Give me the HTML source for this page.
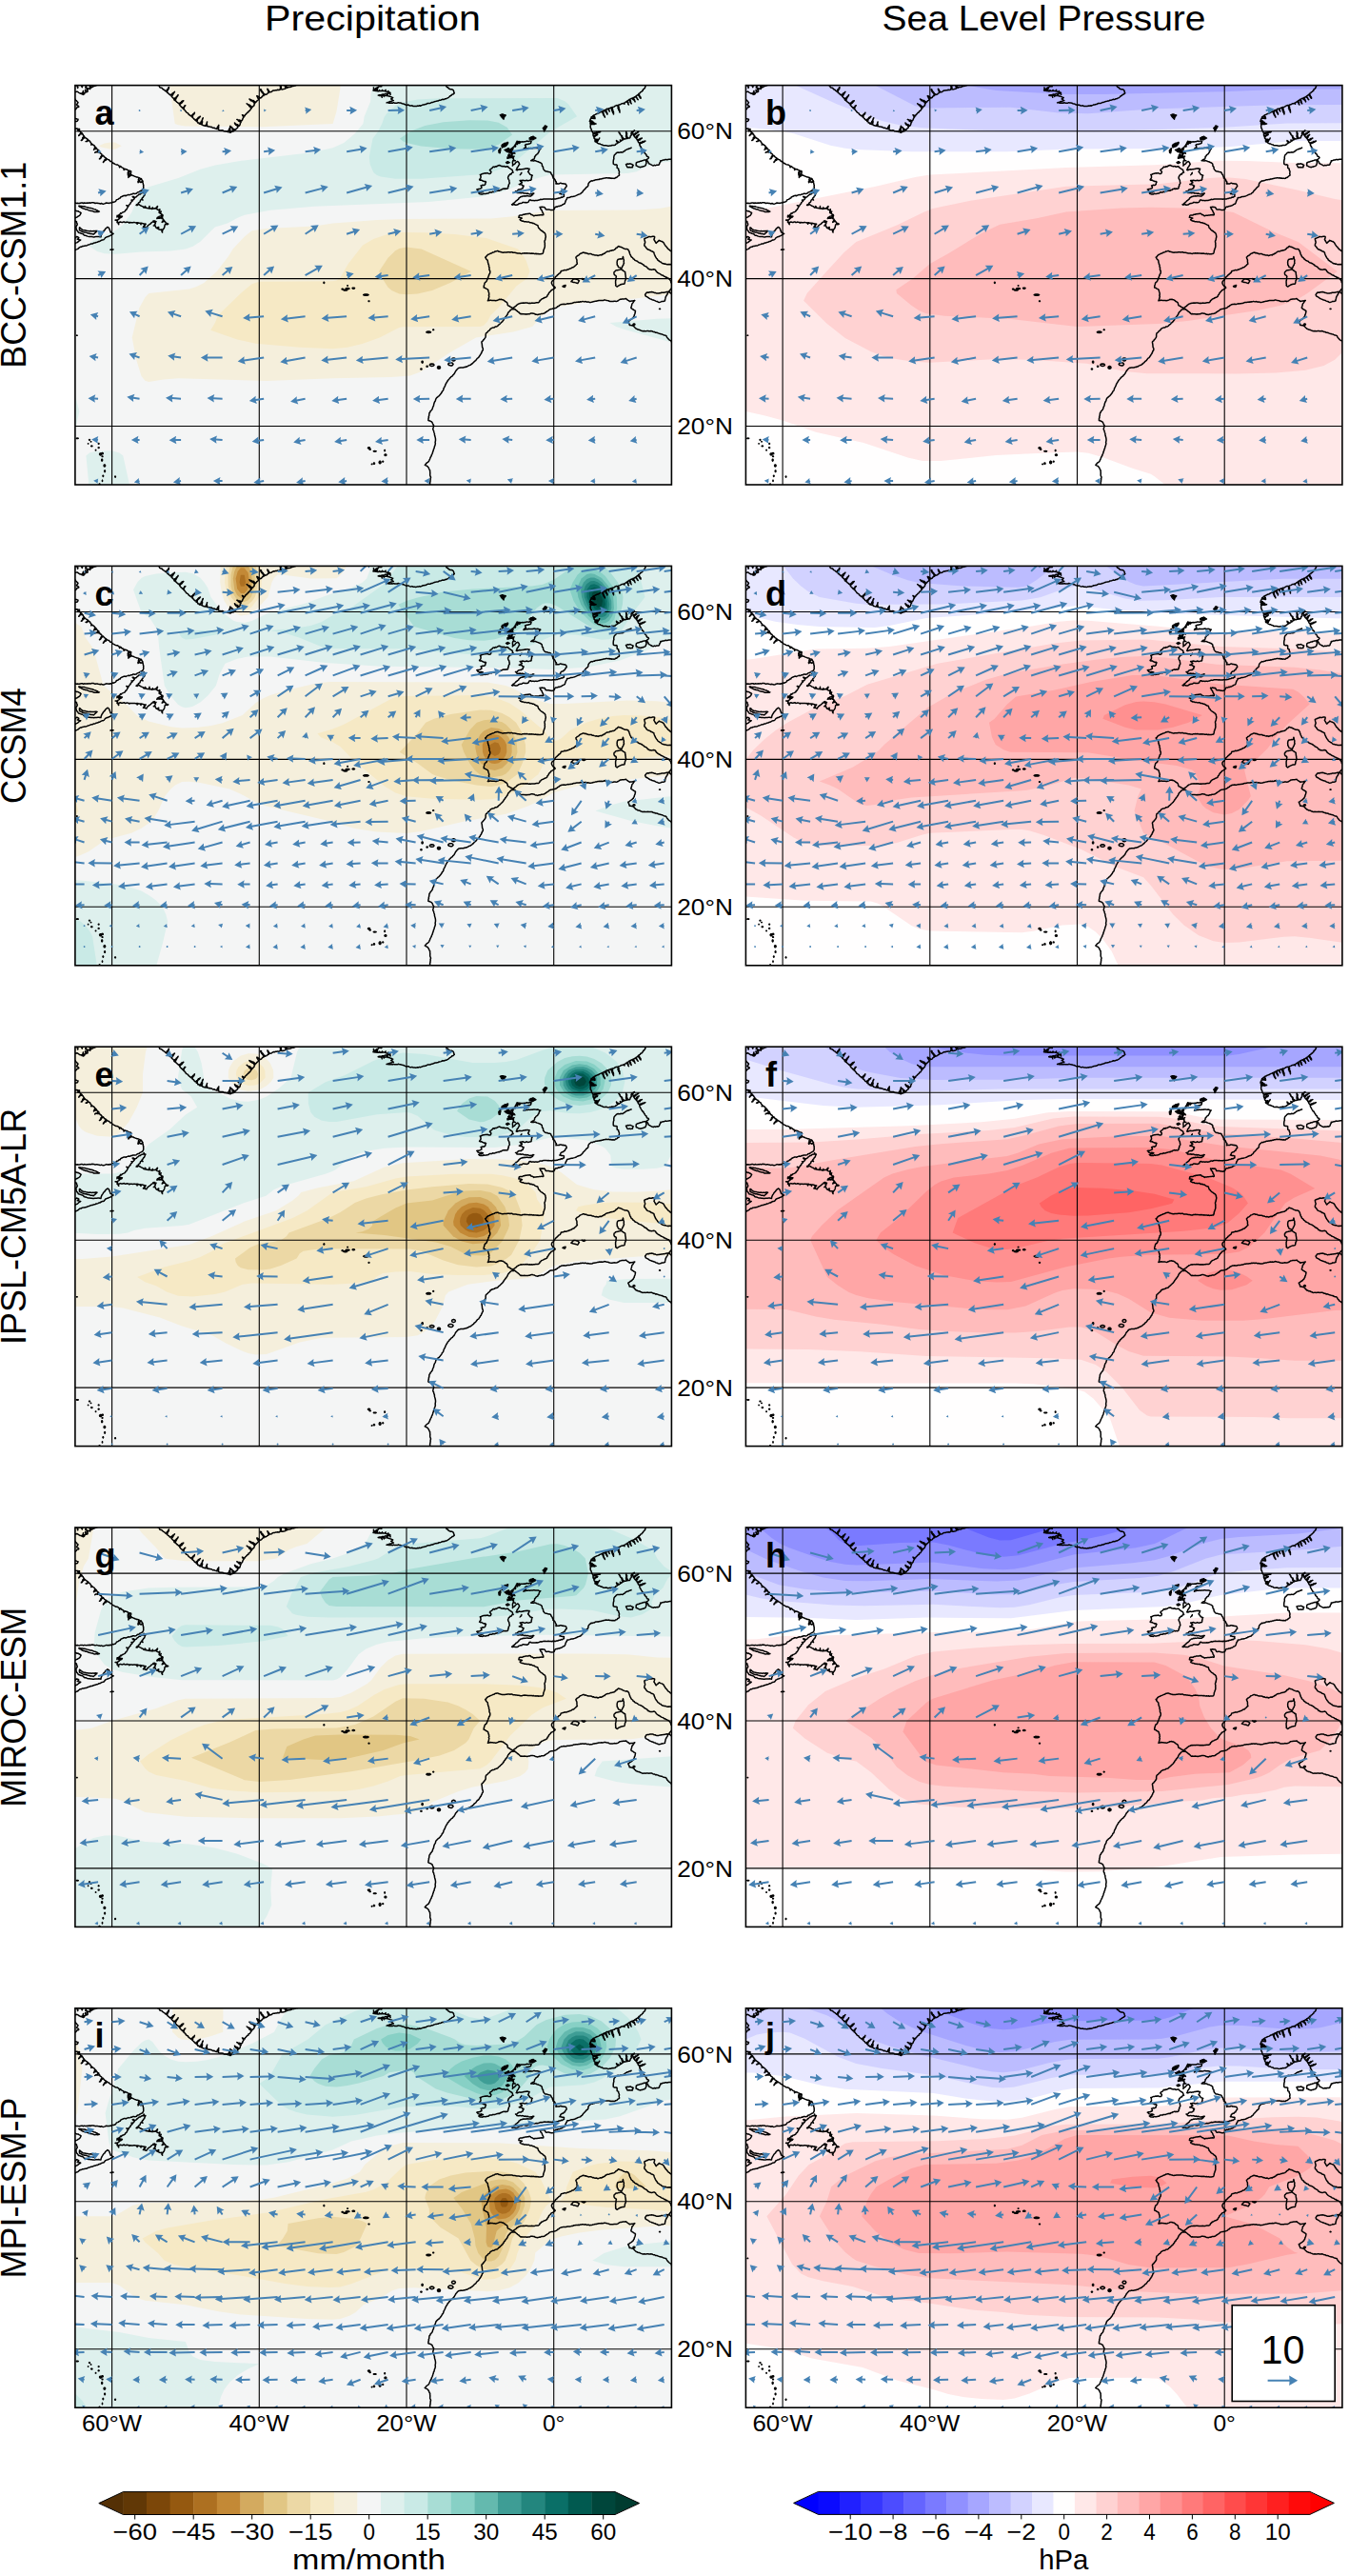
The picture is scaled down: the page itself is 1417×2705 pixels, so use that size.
<!DOCTYPE html><html><head><meta charset="utf-8"><style>html,body{margin:0;padding:0;background:#fff}svg{display:block}text{font-family:"Liberation Sans",sans-serif;fill:#000}</style></head><body>
<svg xmlns="http://www.w3.org/2000/svg" xmlns:xlink="http://www.w3.org/1999/xlink" width="1417" height="2705" viewBox="0 0 1417 2705">
<defs><clipPath id="pc"><rect width="626.5" height="419.4"/></clipPath>
<g id="coast"><path fill="none" stroke="#000" stroke-width="1.5" stroke-linejoin="round" d="M-2.3 0.9 -1.4 0.2 -0.3 0.3 0.8 0.3 1.8 0 2.4 0.8 2.5 1.9 2.8 2.8 3 1.8 2.4 0.8 2.7 -0.2 3.1 -0.3 4.2 -0.4 5.3 -0.3 6.4 -0.5 6.8 0.8 7.4 2 7.7 0.7 7.3 -0.6 8.3 -0.6 9.3 -0.7 11 -0.6 11.2 0.4 11.2 1.4 10.8 2.4 11.4 1.5 11.9 0.6 11.9 -0.5 12.8 0 13.8 -0.7 14.7 -0.1 15.6 -0.3 15.8 0.7 15.6 1.8 15.9 2.9 15.7 4 16 3 16.5 1.9 16.7 0.9 16.6 -0.3 16.2 -0.3 17.2 -0.2 18.1 0 19 -0.6 20 -0.7 20.9 -0.7 22.1 -0.7 23.2 -0.3 21.7 0.3 21 -0.6 20.4 -1.7 21.1 -0.6 20.8 0.7 19.6 0.8 18.6 1.6 17.4 2.2 16.6 1.7 15.6 1.3 15.2 0.3 15.5 1.7 16.6 2.6 15.5 3.2 14.2 3.4 13.3 4.3 13.1 3.1 12 2.7 12.3 3.7 12.4 4.7 12.4 4.7 13.2 5.5 13.1 6.7 11.7 7.2 11.6 6.2 10.6 5.6 10.7 4.6 10.9 5.6 11.2 6.5 10.8 7.5 10.1 7.8 9.7 9.1 8.5 9.8 8.1 9.6 8.8 8.7 9 7.8 8.4 6.8 8.6 5.8 8.3 6.7 7.9 7.6 7.5 8.4 7.2 9.3 6.5 8.5 5.4 8.6 4.6 8.1 3.8 7.7 3.1 7.1 2 6.5 0.7 7 -0.5 6.5 -1.1 5.6 -0.8 4.6 -0.4 3.7 -0.6 2.7 -0.7 1.8 -0.5 2.8 -1.1 3.6 -0.9 4.6 -1.7 5.4 -1.4 6.4 -2.3 6.3M-2.3 14 -1.1 14.1 0 14.5 0.8 15.6 1.6 16.3 2.3 17.2 3.1 17.9 2.7 18.8 2.2 19.5 1.5 20.2 2.2 21.1 3.4 21.5 3.9 22.5 3 23 2 23.2 1.4 24.1 0.8 24.9 -0.2 25.4 -1.3 25.5 -2.3 25.6M-0.8 34.5 0.2 35 1.2 35.1 2.1 35.4 3.1 35.7 2.9 36.7 2.3 37.6 1.3 37.8 0.3 38 -0.8 38M-1.5 45 -0.5 45 0.5 45.6 1.5 45.4 3.1 45.6 2.9 46.9 3.2 48.1 4.1 47.1 4.6 45.8 4.3 45.8 4.6 46.9 4.6 48.1 6.1 49.3 5.8 50.4 5 51.1 4.7 52.2 3.8 52.9 4.4 51.9 5.3 51.3 6.4 50.9 7.3 50.3 7 50 7.1 51.1 8.2 51.4 8.5 52.4 9.5 53.5 8.7 54.3 7.9 55 7.8 56.3 7.1 57.1 6.4 57.9 7.4 57.5 7.9 56.5 8.7 55.8 9.6 55.2 10.5 54.6 10.8 55.1 11.6 55.7 12.5 56.1 13.1 56.9 13.9 57.4 13.6 57 13 57.9 12.1 58.5 11.2 59 12.4 59 13.4 58.1 14.6 58.1 15.7 58.8 16.2 60.1 17.2 61 16.8 62.5 18.4 62 19.3 62.8 20.3 63.4 20.8 64.5 21.7 65.1 21.2 64.6 20.5 65.6 20.1 66.7 19.6 67.7 20.3 66.9 21.6 66.8 22.3 65.7 22.9 66.8 23.7 67.7 24.8 68.2 24.9 68.5 23.7 68.7 23.1 70 21.7 69.9 20.8 70.7 21.7 70.1 22.7 70 23.7 70.2 24.7 70.3 25.6 69.9 26.3 71.3 27.4 71.8 28.1 72.7 28 73.8 27.1 74.6 26.8 75.6 26.4 76.5 25.6 77.3 26.6 76.9 27.3 76 27.7 75 28.6 74.4 29.4 73.6 29.4 73.7 30.1 74.4 30.7 75.3 31.6 75.8 32.5 76.4 32.3 76.2 32.1 77.4 31.2 78.1 30.7 79.1 29.9 79.9 29.5 80.9 30.1 80.3 30.7 79.5 31.3 78.8 32.4 78.7 32.8 77.7 33.5 77.1 34.4 77.9 35.6 78.2 36.4 79.1 37 79.8 38.2 79.9 38.7 80.7 39.4 81.4 40.4 81.9 41.4 82.4 42.3 83 43.3 83.3 44.4 83.3 45.3 83.9 46.2 84.5 46.7 86.2 47.6 85.1 47.2 84.9 48.3 85.3 49.1 86.3 50.3 86.8 50.9 87.1 51.2 88.9 52.3 87.7 53.1 88.2 54.1 88.2 54.9 88.8 55.9 89.2 56.1 90.2 55.5 91.2 55.4 92.2 55.5 93.3 55.5 94.3 56.1 93.5 55.9 92.3 56.4 91.5 57.4 90.8 57.3 89.7 58.8 90.3 58.7 91.3 58.5 92.2 58 93 57.6 92.8 57 93.7 57 94.9 56 95.7 56 96.9 56.5 95.8 57.7 95.4 58.5 94.7 58.9 93.6 59.7 94.5 60.9 94.8 61.9 95.3 62.8 95.7 63.8 96 64.7 96.5 65.7 96.5 67.4 97.2 66.8 98.1 66.5 99 66.7 100.1 66 101 66.2 102.1 67.1 101.4 67.1 100.3 67.9 99.6 68.4 98.7 68.8 97.7 69.6 98.1 69.9 99.1 70.6 99.9 71.2 100.8 71.1 100.7 70.1 101.2 69.1 101.5 68 101.3 69 102 70.3 101.5 71.3 102.2 71.5 103.9 71.9 104.9 71.7 105.9 71.9 107 71.7 108.2 71.2 109.3 70.5 110.1 69.6 110.4 68.8 110.9 67.9 111.3 67.3 112 66.3 112.2 65.3 112.5 64.6 113.4 63.6 113.7 62.7 113.9 61.7 113.7 60.7 113.7 59.8 114.4 58.8 114.3 57.9 114.8 57 115.1 56 114.8 55.1 115.2 54.1 115.5 53.3 116.1 52.2 115.7 51.3 115.8 50.4 116.2 49.5 116.6 48.6 117 47.8 117.4 47.4 118.5 46.3 118.6 45.6 119.4 44.7 119.8 43.6 120.1 43 121.1 42.3 122 41.2 122.4 40.2 122.8 39.1 122.6 38.1 123.5 37 123.3 35.9 123.8 34.8 123.6 33.8 123.7 32.7 123.4 31.7 123.9 30.7 124.3 29.7 124.6 28.6 124.4 27.6 123.9 26.4 124.4 25.4 124 24.3 123.9 23.2 123.6 22.2 123.6 21.1 123.9 20.1 123.4 19.1 123.2 18.1 123.1 17 123.2 16 123.7 14.9 123.2 13.9 123.7 12.9 123.4 11.9 123.7 10.8 123.6 9.7 123.4 8.7 123.9 7.6 123.4 6.5 123.4 5.4 123.6 4.4 123.9 3.4 123.8 2.4 123.6 1.4 123.8 0.4 123.5 -0.6 123.6 -1.5 124M3.9 126.7 4.9 126.6 5.8 127 6.9 127 7.9 127.1 8.8 127.2 9.9 127.2 10.8 127.5 11.8 127.8 12.9 128.1 13.9 128.4 14.9 128.6 15.9 129 17 129 18 129.3 18.8 129.6 19.7 130 20.6 130.3 21.6 130.5 22.4 131 23.5 131.4 24.4 132.2 25.5 132.5 24.6 132.8 23.7 132.9 22.7 132.7 21.8 132.8 20.9 132.9 19.8 132.8 18.9 132.3 18 131.9 16.9 131.9 15.9 131.6 14.9 131.4 13.9 131 12.9 130.5 11.9 130.1 10.8 130.2 9.8 129.6 8.7 129.5 7.7 129 6.7 128.5 5.9 127.8 4.7 127.5 3.9 126.7ZM74 112.8 73.4 113.8 73.1 114.8 72.7 115.9 71.8 116.6 71.4 117.6 70.5 118.3 70 119.4 70.2 119 71.1 120.5 69.7 119.8 68.8 120.4 68.4 121.4 68.1 122.5 67.2 123 66.4 123.7 66 124.8 64.8 125.1 64.2 125.9 65.3 126 66.2 125.2 67.3 125.2 68 125.8 68.8 126.2 69.6 126.7 70.5 127 71.4 127.4 71.9 128.3 73.2 128.5 73.3 127 74.1 127.7 74.1 128.7 75.8 129 77 129.2 78 128.2 78.1 126.8 78.1 128.1 77.9 129.4 79.2 129.2 80.4 129.8 80.8 129.8 81.4 128.3 81.7 129.7 82.8 129.4 83.9 129.2 85.1 129.4 84.7 129.2 85.3 128.4 85.9 127.7 86.6 127 86.4 128 85.8 128.7 85.5 129.7 86.3 130.4 87.2 130.7 88.1 131.1 88.9 130.1 88.9 131.6 88.6 131.4 88.4 132.5 88.2 133.7 89 134.2 89.5 133.2 90.3 132.5 89.8 133.5 89.8 134.7 90.9 135.4 92 136 91 136.2 90.2 137.1 89.2 137.4 88.2 137.6 88.1 137.6 88.3 138.8 89.1 139.7 88.3 139 87.5 138.2 86.4 138.8 85.9 139.9 86.8 139.7 87.7 139.4 88.6 139.7 89.5 139.2 90.5 139.5 90.4 139.4 90.8 138.4 91.5 137.6 92.2 136.7 91.7 137.8 91.7 138.9 91.1 139.9 92.2 140.1 92.8 141 92.4 141.8 93 142.6 93.9 143 92.9 142.5 91.9 142.6 91.3 143.8 92.8 143 92.8 143 92.5 142 92.7 141.1 93.6 141.9 93.7 143 94.4 143 95.1 143.9 95.5 144.9 95.5 144.9 96.7 145 97.8 145.6 96.5 146.1 95.1 145.7 94.2 146.7 94 148 93.8 149 93.5 149.9 92.9 150.7 92.3 151.5 91.9 151.5 91.8 152.5 91.4 153.4 91.7 154.4 91.1 153.5 91.2 152.5 90.9 151.5 89.6 151.6 88.2 151.5 87.6 150.2 87.8 148.8 86.6 149.4 87.3 150.7 85.8 149.8 85.5 149.9 84.7 148.9 84.3 147.6 83.4 147.3 82.4 147.4 83.9 146.8 83.5 146.1 84.3 145.3 84.5 144.2 83.5 143.9 82.9 143 82 142.5 83 142.6 83.8 143.5 84.9 143.3 85.1 143 84.1 142.7 83.2 142.2 82.8 142.5 83.1 143.7 82.1 143 81.2 143.6 80.3 144.1 79.7 144.8 79 145.5 78.1 146.1 77.3 146.6 76.6 147.2 76 147.9 75.3 148.6 75 149.6 73.9 149.3 72.8 148.7 71.5 148.8 72.1 147.9 73.2 147.5 73.5 146.4 74.3 145.7 73.2 145.5 72.8 147 72.3 145.3 71.3 145.1 70.4 144.9 69.4 144.7 69.1 146.2 68.5 144.6 67.1 144.7 65.7 144.1 65.6 144.1 65.2 145.7 64.6 144.1 63.6 144.3 62.6 144 61.6 144 60.6 144.2 59.6 144.1 57.8 144 56.8 144.6 56.9 144 55.7 143.8 54.6 143.5 53.4 143.8 52.4 144 51.5 143.3 50.6 143.5 49.7 143.9 48.7 143.8 47.5 143.4 46.2 143.9 45.6 144.9 45.8 146.1 45.2 145.1 45.3 143.9 44.1 144 44.5 142.3 43.4 141.9 42.2 141.5 43.5 141.5 44.8 141.4 44.9 141 46 140.4 46.9 139.5 45.9 138.8 45.6 137.6 46.6 138.3 47.6 138.9 48.8 138.5 49.5 137.6 48.9 137.5 48.1 138.9 48 137.3 47 137.1 46 137.1 45.1 136.9 44.6 137.7 44 138.4 44.2 136.7 44.5 136.8 45.6 136.5 46.4 135.8 47.3 135.2 47.7 134.2 48.2 134.8 48.7 134.5 49.5 133.5 50.6 133.2 51.6 132.7 52.6 132.1 52.9 131.1 53.9 130.5 54.4 129.6 54.9 128.6 55.6 127.5 54.9 126.7 53.9 126.1 55 126.4 56.1 126.7 56.7 125.7 57.2 124.8 58.2 124.3 58.3 123.1 59.1 122.4 59.9 121.8 60.3 120.9 60.1 121.2 59.1 120.5 60.7 120.5 61.5 119.9 62.1 119.1 62.6 118.3 61.3 117.9 60.3 116.9 61.4 116.8 62.2 117.6 63.3 117.6 63.4 117.4 64.4 117.1 65 116.2 65.8 115.7 66.6 115 67.3 114.3 68.5 114.3 69.3 113.4 70.4 113 71.4 112.8 72.5 112.9 72.2 111.2 72.4 112.3 73.4 112.9 74 112.8ZM-1.5 131.4 -0.6 131.4 0.3 131.5 1.2 131.8 2.1 132.2 3.1 132.1 4.1 132.8 5.2 133.3 6.2 134.1 5.6 135.3 5 136.4 4.2 137.1 3.2 137.6 2.3 138.3 1.3 138.6 0.4 139.1 -0.6 139.4 -1.5 139.9M-1.5 142.6 -0.5 142.8 0.5 142.7 1.5 143 1.6 144.2 2.2 145.3 2.3 146.5 1.7 147.2 1.3 148 0.8 148.8 1.2 149.8 1.2 150.9 1.5 151.9 2.3 152.7 3 153.6 3.5 154.6 4.6 154.8 5.6 155.2 6.6 155.6 7.7 155.8 8.7 156.4 9.3 157.3 10.2 157.7 11.3 157.7 12.2 158.2 13.1 158.5 14.2 158.8 15.3 158.8 16.4 159 17.5 159 18.6 159.2 19.7 159.3 20.7 159.1 21.8 159 22.9 159 24 158.9 25 158.8 26 159.1 27.1 159.2 27.2 158.3 27.4 157.4 27.8 156.5 28.3 155.5 28.9 154.6 29.5 153.6 30.2 152.7 31.1 152 31.6 151 32.3 150.2 33.2 149.5 34 148.8 34.9 149.3 35.6 149.9 36.1 151 36.4 152.1 36.9 153.1 37.1 154.2 38.2 154.6 39.1 155.4 40.2 155.8 39.3 156.4 38.3 156.9 37.4 157.6 36.4 158.1 35.4 158.4 34.6 159 33.5 159.1 32.6 159.6 31.7 160 31 161 30.2 162 29.3 162.3 28.3 162.4 27.5 162.8 26.7 163.3 25.9 163.8 24.9 163.8 24.1 164.4 23.2 164.7 22.2 164.8 21.3 165.3 20.3 165.5 19.3 165.7 18.4 166.3 17.4 166.4 16.4 166.5 15.5 167 14.5 167.3 13.6 167.5 12.7 168 11.8 168.4 10.8 168.5 9.7 168.7 8.6 168.9 7.5 169 6.5 169.7 5.4 169.7 4.6 170.2 3.9 170.8 3.2 171.5 2.3 172 1.3 172.3 0.4 172.8 -0.5 173.3 -1.5 173.6M-1.5 167 -0.7 166.3 0.3 165.9 1.2 165.3 2.3 165 3.1 164.3 3.9 163.5 4.9 163 5.8 162.3 4.6 162.1 3.5 161.6 2.3 161.6 3.2 160.9 3.9 160 2.8 159.2 1.5 158.9 0.8 159.6 0.1 160.3 -0.9 160.7 -1.5 161.6M4.6 149.2 5.6 149.8 6.3 150.7 7.2 151.2 8.1 151.9 9.1 152.1 10.1 152.2 11 152.4 12 152.7 13 152.8 13.9 153 15 153.1 16.1 152.9 17.2 153.2 18.3 153.1 19.3 153 20.3 153.2 21.3 152.8 22.2 152.9 23.2 153 22.3 153.6 21.7 154.5 20.8 155.1 20.1 155.8 19.3 156.5 18.3 156.1 17.2 156 16 156 15 155.4 13.9 155.4 13 155.1 12.1 154.8 11.2 154.5 10.2 154.5 9.3 154.2 8.1 153.9 7 153.4 6.3 152.8 5.3 152.6 4.6 151.9 4.5 150.5 4.6 149.2ZM37.1 172.6 38.2 172.4 39.2 172.6 40.2 172.3 39.2 172.3 38.1 172.3 37.1 172.6ZM86.6 -1.1 86.9 -0.1 88.2 0.1 88.5 1 88.8 2 89.7 2.4 90.7 2.6 91.5 3.1 92.1 3.9 92.9 4.4 93.7 4.8 94.4 5.5 95.4 6.4 96.2 5.6 96.5 4.4 97.7 4 97.8 2.8 98.6 2 98.4 2.9 98.2 3.9 97.4 4.6 97.1 5.5 96.9 6.4 96.6 7.3 97.3 8.1 98.2 8.6 99.1 9.6 100.1 10.4 100.6 9.6 101.7 9.5 102.2 8.5 103 7.9 103.9 7.6 104.5 6.8 104 7.6 103.4 8.4 103 9.3 102.5 10.1 101.9 10.9 101.2 11.5 102.1 12.5 102.8 13.1 103.5 13.8 104 14.7 104.4 15.6 104 15.2 104.6 14.5 104.8 13.4 105.8 13 106.3 12.2 107 11.5 107.8 10.9 108.2 10 107.9 10.9 107.3 11.7 106.7 12.6 106.3 13.4 105.8 14.3 105.5 15.2 105.2 16.2 106.1 16.6 106.7 17.5 107.6 18 108.3 18.7 108.7 19.2 109.6 18.7 110.5 18.3 111.3 17.7 112 16.8 112.9 16.4 113.9 16.1 113.2 16.9 112.6 17.6 112 18.5 111.1 19 110.4 19.7 109.7 20.4 110.5 21.5 111.4 22.5 112.2 23.1 112.7 23.9 113.5 23.2 114.5 22.8 114.8 21.6 115.9 21.2 115 22 114.6 23 114.2 24 113.8 25 114.8 25.4 115.3 26.4 116.1 27.1 116.6 28.1 117.6 28.7 118.6 29.2 119.1 30.3 120 31 120.9 31.7 121.7 32.4 122.4 31.6 123.3 31 124 30.1 125 29.5 125.5 28.6 125.2 29.6 124.7 30.6 123.6 31.3 123.6 32.6 122.9 33.4 123.8 34.2 124.7 34.9 125.3 35.9 126.2 36.6 127.1 36.2 127.7 35.5 128.7 35.2 129.1 34.1 129.9 33.5 130.7 33.1 131.5 32.6 130.9 33.3 130.4 34.1 129.6 34.7 128.8 35.3 128.5 36.2 128.3 37.3 127.3 37.7 127.6 38 128.6 38.3 128.9 39.5 130.1 39.5 130.5 40.5 131.5 40.7 131 40.6 131.4 39.6 132.3 39 132.4 37.8 133.3 37.2 133.5 36.1 133.8 35.1 134.4 34.2 134 35.2 133.6 36.1 133.4 37.1 133.7 38.3 133.5 39.3 133.2 40.2 132.5 41.1 133.5 41.1 134.2 42 135.1 42.2 136 42.5 136.9 42.7 136.9 42.7 137.2 41.8 137.7 41 138.1 40.2 138.4 39.3 138.7 38.4 138.3 39.5 138.4 40.7 138.7 41.9 138.4 43 139.4 43 140.3 43.5 141.4 43.3 142.3 43.8 143.4 43.7 144.1 44.3 145 44.9 146 44.5 146.8 45.1 147.7 45.4 148.8 45.8 149.2 44.7 149.6 43.7 150.3 42.8 150.9 41.8 150.7 42.9 150.7 44.1 150.7 45.2 150.3 46.3 151.2 46.8 152.1 47.2 153.2 47.3 154.3 47.2 155.4 47.4 156.4 48.2 157.5 48.1 158.6 48.5 159.8 48.3 160.7 49 160.7 48 161.4 47.2 161.7 46.3 162.1 45.4 162.7 44.6 162.7 43.5 163 42.6 163 43.6 163.1 44.6 162.4 45.5 163 46.5 162.8 47.5 162.5 48.5 162.2 49.4 163.2 49.6 164 48.8 165.1 48.7 165.9 47.9 167.1 47.7 166.6 48.2 166.2 47.2 165.2 46.6 165.5 45.3 165 44.4 164.2 43.8 164.7 44.6 165.5 45.2 166.3 45.8 167.3 46.2 167.7 47.1 168.7 46.6 169.2 45.5 170.2 45 171 43.9 170.5 43.1 170.2 42.2 169.1 41.8 168.5 41.1 167.9 40.4 167.6 39.4 168.4 40.2 169.3 40.8 170.5 41.1 171.3 41.8 172 42.7 172.8 42.1 173.3 41.1 173.5 39.8 174.2 38.7 173.2 38.4 172.3 37.8 171.5 37.2 171 36.1 169.9 35.8 170.8 36.4 171.8 36.6 172.9 36.5 173.8 37 174.8 37.2 174.8 37.3 175.6 36.4 176 35.3 176.4 34.3 177.1 33.4 177.2 33.3 176.3 32.3 175.6 31.1 176.9 31.7 178.2 32.1 178.6 31 179.5 30.3 180.2 29.5 180.9 28.7 182 28.2 182.3 27 183.5 26.6 184.1 25.6 184.6 24.7 185.4 24 184.5 23.5 184.1 22.5 183 22.2 182.6 21.1 181.8 20.5 181.1 19.8 180.3 19.2 181.1 19.8 181.9 20.5 183 20.5 183.9 21 184.5 21.9 185.5 22.3 186.4 22.8 187.2 21.8 188.1 21 188.2 19.8 188.9 18.9 187.9 18.4 187.5 17.3 186.3 17 185.6 16.2 184.4 16.1 184 14.9 183 14.4 183.8 15.2 185 15.1 185.8 16.1 187 15.8 187.9 16.5 188.7 17.2 189.7 17.6 189.5 17.9 190.4 17.2 191 16.3 192 15.7 192.6 14.8 193.1 14.4 192.2 13.8 191.8 12.8 191.2 12 190.9 11 191.9 11.3 192.7 12.1 193.6 12.6 194.3 13.4 195.6 12.9 196.5 11.7 197.2 11 198.1 10.8 197.7 9.8 197.5 8.7 196.8 7.9 196 7.1 195.4 6.2 194.9 5.3 194.7 4.2 195.6 4.6 195.6 5.9 196.4 6.4 197.1 7.1 197.7 7.8 198 8.8 199.1 9.1 199.4 10 200.3 9.7 201.2 9.4 201.9 8.6 203.5 7.8 203 6.8 202.8 5.7 202.2 4.7 202 3.7 202.8 4.5 203.3 5.5 204 6.4 204.9 7.1 206.2 6.8 207.3 5.9 208.3 5.4 209.5 5.5 210.5 5.1 211.7 5.1 212.7 4.7 214.1 5 215.3 4.4 215.5 3.3 215.8 2.2 215.4 1.2 215.5 0.1 215.3 -1 215.4 -2.1 215.3 -1 216.3 -0.1 216.3 1 216.4 2.1 216.6 3.2 216.8 4.2 217.9 4.3 218.9 4 220.1 3.7 221.3 3.2 221.4 2.1 220.5 1.3 220.5 0.2 220.1 -0.8 221.2 -0.2 221.5 1 222.5 1.6 222.8 2.7 223.8 2 225.1 2 226.2 1.8 227.3 1.4 227.3 0.4 226.9 -0.5 226.7 -1.5 225.9 -2.3 226 -3.3 226.1 -4.3 225.7 -5.2 225.3 -6.1 225.5 -5.1 225.9 -4.2 226.7 -3.5 227.2 -2.7 227.1 -1.5 228.3 -1 228.4 0 228.8 1 230.5 0.5 231.5 0.2 232.4 -0.5 233.6 -0.3 234.4 -1.1M323.3 -1.1 322.3 -0.2 321.1 0.3 321.9 1.2 320.3 0.8 320.2 0.9 319.2 1.1 318.4 1.8 317.8 3 317.5 2.2 316.4 2.8 315.7 3.3 316.3 4.5 316.6 5.7 315.6 5 315 4 314.1 4.7 313.3 5.5 313.1 5.5 313.6 4.5 313.7 3.4 313.5 2.3 313.8 3.4 313.8 4.5 314 5.6 315.1 5.7 316.2 5.9 316.7 5.1 317.1 4.3 317.3 3.4 317.6 4.7 317.1 6 317.9 6.1 319.2 6.1 319.6 5 320.2 6 321.2 5.8 322.3 6 322.6 4.8 323.3 5.9 324.9 5.9 325.4 6.1 326.2 4.8 326.3 6.3 327.3 6.8 328.4 7 328.9 5.9 329.2 7.3 330.2 7.3 331.1 7.8 330.8 7.9 331 8.8 331.2 9.8 330.6 8.9 329.9 8.1 328.9 8.6 327.8 8.6 328.3 10.4 327.4 9.8 326.9 8.9 325.8 8.8 324.9 9.4 324.8 9.4 324.3 10.6 324.4 11.9 324.2 10.7 323.9 9.5 322.8 9.5 321.8 9.9 322.1 11.2 322.4 12.6 322.1 11.6 321.4 10.9 320.8 10.1 319.5 10.1 318.3 10.5 319.3 10.8 320.2 10.6 321.2 10.8 322.1 11 323.1 10.5 324.1 11.1 325.1 11 326 10.9 327 10.6 328 10.9 328.9 11.3 330 11.4 330.9 11.8 331.9 12.1 332.8 12.5 333.8 12.9 332.9 13.8 331.8 14.4 332.9 14.7 333.5 15.7 334.5 16 333.4 16.3 332.2 16.7 331.2 16.9 330.2 17.2 329.3 17.8 328.2 18 327.2 18.3 328.3 17.9 329.4 18.6 330.4 18.5 331.5 18.6 332.6 18.4 333.6 18.7 334.5 18.1 335.5 18.6 336.5 18.6 337.4 18.6 338.4 18.6 339.4 18.1 340.3 18.3 341.4 18.5 342.5 18.7 343.5 19.1 344.6 19.3 345.6 19.6 346.5 20.2 347.4 20.5 348.3 20.9 349.3 20.5 350.3 20.6 351.1 21.2 352 21.5 353 21.5 354 21.2 354.9 21.8 355.8 21.8 356.8 21.8 357.8 22 358.7 21.9 359.7 21.5 360.7 21.7 361.6 21.2 362.6 21.6 363.5 21.2 364.5 20.8 365.4 20.4 366.5 20.4 367.4 20 368.5 20 369.3 19.4 370.2 18.9 371.3 18.8 372.4 18.8 373.4 18.6 374.4 18 375.5 18 376.5 17.5 377.5 17.1 378.4 16.8 379.4 16.7 380.4 16.5 381.4 16.4 382.3 15.7 383.3 15.7 384.3 15.4 385.2 15 386.1 14.6 387.1 14.8 388 14.6 388.8 14.1 389.8 14.1 390.6 13.6 391.4 13.2 392.3 12.7 393 12.1 393.6 11.4 394.5 10.9 395.3 10.4 395.9 9.6 396.9 9.5 397.6 8.8 398.4 8.2 397.9 7.2 397.7 6.1 397.2 5.1 396.3 4.4 395.3 4.1 394.1 4.2 393.1 3.6 392.2 3.2 391.7 2.1 390.5 1.8 389.8 0.9 389.7 -0.1 389.8 -1.1M479.2 58.6 477.8 58.3 476.5 58.8 475.5 58.7 474.6 58.5 473.7 58.8 472.8 59.2 471.8 59.1 470.8 59.3 469.8 59.2 468.7 59.3 468.1 59.3 467.5 60.2 466.7 60.9 467.2 59.1 466.2 59 465.4 60.7 465.2 58.9 464.1 58.8 464.2 58.7 464.9 59.4 465.8 59.8 466.3 60.7 465.5 60.4 464.7 59.6 463.8 59.5 463.3 60.4 464.1 61.2 464.7 62 463.8 61.6 462.9 61.3 462.9 61.3 462.4 62.1 462.8 63.5 461.9 62.9 461.4 63.8 462.5 64.5 460.9 64.5 461 64.4 460 65.1 460.1 66.7 459.3 65.7 458.5 66.3 459.6 67.6 458.7 67.2 457.7 66.8 457.9 66.7 458.7 67.6 459.4 67 459.3 68.3 459.8 69 459.8 69.1 460.3 70.1 461.4 70.6 462 71.6 461.2 70.8 460.2 70.3 459.2 69.8 458.5 70.6 459.8 71.6 457.9 71.3 457.9 71.3 458.3 72.2 459.5 71.9 460.5 71.2 459.5 72 458.8 73 459.1 73.7 458.8 73.7 458.4 75.2 457.8 73.7 456.8 73.7 455.9 75 455.9 73.7 454.8 73.7 454.8 73.6 455.6 73 456 72.1 456 73.1 455.6 74 456.5 74.4 457.1 73.2 457.4 74.7 458.7 75.2 458.4 74.9 459.3 74.7 460.3 75 461.2 74.5 460.2 75.1 459 75.6 459.7 76.4 460.5 76.1 460.3 77.1 460.6 77.5 460.5 78 461.3 78.9 462.4 79.2 461.3 79.1 460.1 78.8 459.7 79.7 459.5 80.6 459.5 81.6 459.7 82.6 459.7 83.5 459.5 84.5 460.1 83.6 461.1 83.1 462 82.4 462.6 81.4 463.3 80.8 464.1 80.3 464.9 79.9 465.8 80.7 466.4 81.8 466.8 83 466.1 83.6 465.7 84.5 465.3 85.4 464.6 86 464.1 86.8 464 87.9 463.3 88.8 464.3 89.1 465.2 88.7 466.1 88.3 467 88.1 468 88.4 469 88.2 470 88.2 470.9 87.8 472 87.8 472.9 87.4 474 87.5 474.9 87.2 476.1 87.6 477.2 87.6 476.8 88.7 476.4 89.8 475.7 90.7 476.3 91.5 476.9 92.2 477.5 93 478 93.8 479.2 94.2 480.3 94.6 479.6 95.6 479.6 96.9 479.2 97.8 479.3 98.8 478.8 99.6 477.7 99.7 476.6 100 475.6 100.2 474.4 99.6 473.4 100 472.4 100.2 471.3 100 470.3 99.6 469.3 99.8 468.2 100 467.2 100 467.9 100.8 468.9 101.3 469.5 102.3 468.4 102.7 467.6 103.5 466.4 103.9 467.3 104.2 468.4 104.2 469.3 104.4 470.1 105.4 471.1 105.4 471 106.4 470.3 107.1 470.3 108.1 469.3 108.4 468.5 109.2 467.4 109.2 466.3 109.3 465.3 109.7 464.6 110.8 463.6 111.1 462.6 111.2 463.6 111.7 464.1 112.8 465.2 112.9 466.3 112.9 467.3 112.6 468.4 113.1 469.5 112.8 470.5 112.9 471.4 113.4 472.3 113.5 473.3 113.3 474.2 113.8 475.3 113.4 476.2 113.8 477.1 114.1 478 114.3 479 114 480 114.1 480.9 113.4 481.9 113.5 480.9 114 480.6 115.1 479.6 115.6 478.8 116.3 477.9 116.3 476.9 116.3 476 116.2 475 116 474.1 116.1 473.1 116.4 472.2 116.1 471.2 116.5 470.3 116.3 469.3 116.9 468.1 117 467.2 117.8 466.2 118.4 465.8 119.5 464.9 120.1 464.1 120.9 463.2 121.3 462.6 122.1 461.8 122.8 461.1 123.5 460.2 123.9 459.7 124.8 458.7 125.2 459.6 125.6 460.6 125 461.5 125.2 462.4 125.6 463.3 125.6 464.3 125.5 465.2 125.1 465.9 124.4 466.8 124.1 467.7 123.8 468.7 123.8 469.5 123.5 470.3 122.8 471.4 122.8 472.5 123.1 473.5 123 474.6 123.2 475.7 122.8 476.4 122.2 476.7 121.3 477.2 120.5 478.3 120.3 479.3 121 480.3 120.9 481.4 120.9 482.4 121.1 483.4 120.9 484.4 120.8 485.4 121 486.3 120.7 487.2 120.5 488.1 120.1 489.1 119.7 490.2 120 491.2 119.6 492.2 119.4 493.2 119.3 494.3 119.4 495.2 119.4 496.2 119.5 497.1 119.3 498 119.5 499 119.5 499.9 119.5 500.9 119.7 501.8 119.3 502.8 119.4 503.8 119.3 504.8 119.4 505.8 119 506.8 119 507.7 118.5 508.7 118.3 509.7 118.2 510.6 117.5 511.8 117.7 512.6 117 513.6 116.6 513.4 115.7 513.6 114.7 512.7 114.4 511.8 114.4 510.8 114.3 509.9 113.8 509 113.9 509.6 112.8 510.1 111.6 510.9 110.9 511.8 110.5 512.8 110.4 513.3 109.4 514.5 109 514.8 107.8 515.5 106.9 516.3 106.2 516.1 105 515.5 103.9 514.6 103.4 513.5 103.5 512.5 103.1 511.4 103.2 510.5 102.7 509.4 102.7 508.4 103.3 507.3 103.3 506.2 103.2 505.1 103.5 505.1 102.5 505.5 101.5 504.7 100.8 504.3 99.8 503.9 98.8 503.1 97.9 502 97.3 502 96.2 501.4 95.2 501.2 94.2 500.5 93.5 500 92.7 499.7 91.7 498.9 91.1 497.8 91 496.7 90.8 495.7 90.3 494.5 90.3 493.5 89.9 492.7 89 491.9 88 491.6 86.8 491.6 85.7 490.6 84.8 490.5 83.7 490.4 82.6 489.5 81.7 488.5 81.1 487.3 80.6 486.4 80.2 485.3 79.9 484.4 79.5 483.4 79.1 482.5 79 481.6 79.4 480.7 79.1 479.7 79.2 478.8 79.1 479.8 78.4 480.7 77.8 481.9 77.5 482.4 76.7 482.7 75.8 482.7 74.8 483.5 74.2 484 73.3 484.8 72.6 485.8 72.1 486.2 71.1 487 70.2 487.3 69 487.7 68.2 488.1 67.3 488.9 66.7 487.7 66.7 486.7 66.1 485.7 65.9 484.5 66 483.4 65.9 482.4 65.7 481.4 65.8 480.5 66.1 479.5 66.1 478.5 66 477.5 66.2 476.5 65.9 475.4 66.3 474.3 66.1 473.2 66.5 472.1 66.7 471.1 67.1 471.6 66 472.6 65.6 473.4 64.8 473.2 63.7 472.6 62.8 473.4 62.2 474.3 61.8 475.3 61.9 476.2 61.6 477.1 61.3 478 61.2 478.8 60.5 478.9 59.5 479.2 58.6ZM445.8 83.9 446.7 84.3 447.5 84.9 448.5 84.9 449.4 85.3 450.5 84.8 451.6 85.6 452.7 85.4 453.7 85.2 454.8 85.3 455.3 86.2 456.1 86.8 457 87.4 457.7 88 458.7 88.4 459.4 89.3 459.6 90.5 460.2 91.5 459.2 91.6 458.5 92.2 458.1 93.3 456.9 93.2 456.4 94.1 455.6 94.6 455.2 95.6 454.7 96.5 454.8 97.7 455.3 98.7 455.9 99.6 456 100.8 456.2 101.7 456.4 102.7 455.9 103.6 455.3 104.5 455.4 105.7 454.7 106.5 454.8 107.7 454 108.5 453.1 108.7 452.2 108.4 451.3 108.9 450.3 108.4 449.4 108.9 448.4 109 447.7 109.8 446.6 109.8 445.8 110.6 444.8 110.4 443.7 110.7 442.7 111 441.7 111.3 440.7 111.7 439.7 111.8 438.6 111.6 437.8 112.3 436.8 112.3 435.7 112.2 434.9 112.6 434.1 113.4 433.2 113.5 432.1 113.7 431.1 113.9 430.1 114 429 113.6 428 114.4 427 114.3 425.8 114.3 424.8 114 423.9 113.2 424.8 112.9 425.6 112.2 426.7 112.5 427.6 112.1 428.5 111.6 427.5 111.3 426.4 111 425.2 111.6 424.2 111.1 423.1 110.8 422.8 109.9 421.9 109.3 423 109 424.1 109 425.1 108.7 426 108.2 427 107.7 426.9 106.5 426.2 105.4 427.1 105.1 428.1 104.7 429.1 105 430.1 104.6 430.9 103.8 431 102.5 431.6 101.5 430.7 100.8 429.5 101 428.5 100.4 427.6 100.1 426.7 99.4 425.6 99.7 424.7 99.2 425.2 98.3 425.9 97.5 426.2 96.5 426 95.6 425.9 94.6 425.4 93.8 426.4 93.7 427.2 93.1 428.1 92.8 429 92.6 429.9 92.5 430.8 92.2 431.9 92.4 433 92 434.1 92.6 435.2 92.8 436.3 92.6 436.8 91.7 437 90.7 436.3 89.9 435.5 89.1 436.1 88.2 437.1 87.6 438 87 438.6 86.1 439.4 85.5 440.5 86 441.3 85.2 442.4 85.4 443.2 84.9 444.4 84.2 445.8 83.9ZM600.2 -1.1 599.5 -0.4 599.3 0.6 598.8 1.4 598.7 2.4 598.1 3.1 597.5 3.8 596.6 4.3 596.5 5.4 595.6 5.9 595 6.8 593.9 7.1 593.4 8.2 592.3 8.5 591.7 9.4 592 9.2 592.6 10 592.9 11 593.5 11.8 594.1 12.6 594.2 13.7 593.4 13.1 593 12.1 592.4 11.3 591.8 10.5 591 9.9 590.2 10.6 589.2 11.2 589.6 12.2 590.1 13.2 590.5 14.2 591.3 15 590.5 14.3 590 13.2 589.1 12.5 588.2 11.9 587.9 12.1 587.2 12.8 586.2 12.9 586.4 13.9 587.2 14.6 587.6 15.4 587.8 16.4 588.2 17.3 587.8 16.3 587.2 15.6 586.3 15 585.5 14.4 585.1 13.5 584 13.9 583.1 14.5 582.9 15.5 583.5 16.4 583.6 17.4 583.9 18.4 584.3 19.3 583.8 18.5 583.1 17.8 582.9 16.8 582.5 15.9 582 15 582.4 14.8 581.3 15.6 580.1 16.3 580.7 17.3 581.1 18.3 580.8 19.5 581.5 20.4 580.8 19.6 580.6 18.5 580 17.7 579.1 17 577.8 17.9 577.2 18.2 577.1 19.7 576 18.7 575.2 19.2 574.1 19.2 573.2 19.7 572.4 20.2 570.7 20.7 570.5 21.7 571.2 22.6 571.1 23.6 571.3 24.6 571.8 25.5 572 26.5 572 27.5 572.1 28.5 571.8 27.6 571.7 26.5 570.8 25.8 570.8 24.8 570.1 24 570.4 22.8 570.1 21.9 569.5 21 568.2 21.2 567 21.8 566.1 22.5 565.2 22.8 564.1 22.9 564.2 23.8 564.6 24.7 564.7 25.6 564.7 26.6 565.4 27.4 565.6 28.4 565.3 29.4 565.6 30.3 565.6 29.3 564.7 28.6 564.6 27.7 564 26.9 563.9 25.9 563.4 25.1 563.6 24 562.9 23.3 561.9 23.9 560.8 24.1 560.8 24.1 560.7 25.2 561 26.4 561.4 27.5 560.8 26.5 560.2 25.5 559.7 24.6 558.5 24.7 557.6 25.4 558.1 26.4 557.9 27.6 558.6 28.5 559.1 29.5 559 30.6 558.8 29.5 557.9 28.8 557.6 27.8 556.7 27 556.5 25.9 555.4 26.4 554.5 26.9 555 27.8 554.8 28.8 555.1 29.8 555.3 30.8 555.8 31.6 556 32.6 556.5 33.5 556.3 32.5 555.4 31.9 555 31 554.6 30.1 554.3 29.1 553.8 28.3 553.3 27.4 552.5 27.9 551.6 28.2 550.7 28.7 549.9 29.3 548.9 29.6 548 29.9 547.1 30.3 546.3 30.8 545.3 31.1 545 31.3 545.1 32.3 545.8 33.1 546 34 546.1 35 545.5 33.9 544.9 32.9 544 32 543.2 32.9 542.2 33.4 542.2 33.4 543 34 543.9 34.3 544.7 34.9 545.7 35 544.7 34.7 543.7 34.7 542.7 34.7 541.8 34.5 541.4 35.6 540.9 36.6 541.9 37.1 542.9 37.4 543.5 38.4 544.6 38.7 545.2 39.7 546.3 40 545.2 39.9 544.4 39.1 543.3 39 542.3 38.7 541.5 38 540.5 37.8 540.7 37.3 541.1 38.1 541.3 39 541.1 40 542.2 39.9 543.2 40.3 544.2 40.6 545.2 40.2 546.2 40.5 547.2 40.4 546.3 40.5 545.3 41 544.3 40.6 543.3 40.8 542.3 40.9 541.3 41.2 541.5 41.9 541.2 42.9 541.4 44 541.5 45 542.2 45.8 542.4 46.9 542.7 47.9 543.3 48.7 543.8 49.6 543.8 49.9 544.9 49.9 545.8 49.5 546.8 49.6 547.8 49.2 548.9 49.3 549.8 48.9 550.8 48.8 551.8 48.7 551 49.3 549.9 49.3 548.9 49.6 548 49.9 547.1 50.5 546.1 50.8 545 50.7 544.1 51.1 544.1 52.4 544.5 53.5 544.5 53.3 545.3 52.9 546.2 52.6 547.1 52.2 547.9 51.7 548.9 51.4 548.3 52.3 547.3 52.6 546.4 53 545.9 54 545 54.4 545.2 55.7 546.1 56.6 546.1 56.4 547 56.9 548 56.6 548.9 56.9 548.1 57.5 547.1 57.6 546.1 57.7 546.1 58.9 546.9 59.4 547.4 58.6 548.2 58.1 549 57.6 549.8 57 550.4 56.3 550.8 55.4 550.3 56.3 549.6 57.2 549.1 58.2 548.7 59.2 548 60.1 548.9 60.7 550 61.3 551 61.3 551.8 61.8 552.7 62.2 553.7 62.3 554.4 63 555.4 63.2 556.5 63.2 557.6 63.1 558.6 63.3 559.7 63.7 560.8 63.6 561.8 63.3 563 63.4 564 62.8 565.1 63 566.2 62.8 567.3 62.6 568 61.7 568.9 61.3 569.8 60.7 569.6 59.7 568.8 59 568.6 57.9 569.4 58.6 570.4 59.2 570.9 60.1 571.6 59.7 572.8 58.9 572.5 57.3 573.9 58.3 574.6 57.4 575.7 57.1 575.1 56.3 574.5 55.5 574.3 54.4 574 53.4 573.5 52.6 572.6 51.9 572.5 50.8 571.8 50.1 571.1 49.3 572 49.9 572.2 51 572.7 51.9 573.5 52.6 574.5 53 574.8 54.1 575.2 55 576 55.7 576.8 56.4 577 56.2 578 56.3 579 56 579.1 54.9 578.7 53.9 578.7 52.8 579 51.8 578.9 50.7 578.7 49.7 578.9 48.6 579 49.7 579.7 50.6 579.5 51.7 579.5 52.8 579.8 53.7 580.3 54.7 580.2 55.8 581.3 55.4 582.4 55.5 583.1 54.6 583.2 53.5 584 52.7 584.5 51.8 584.1 50.8 584.3 49.8 584.8 48.9 584.7 48.8 585.7 48.5 586.6 47.9 587.5 47.3 586.8 48.2 586 49 585.3 49.9 586.1 50.8 586.3 52 586.2 51.9 587.2 51.3 588.1 50.7 588.9 50.1 590.1 50 591.1 49.5 591.9 48.7 590.9 49 590.3 49.7 589.8 50.6 588.9 50.9 588.3 51.6 587.7 52.4 586.9 52.9 587.9 54.3 588.3 54.7 589.3 54.4 589.8 53.4 590.5 52.7 591.4 52.2 592.3 51.7 591.7 52.5 590.9 53.1 590.7 54.3 590.1 55 589.1 55.6 589.4 55.8 590.1 56.5 590.4 57.4 591.5 57 592.5 56.8 593.4 55.9 594.6 55.9 595.5 55.4 594.5 55.8 593.8 56.6 593.1 57.5 591.8 57.6 591.1 58.4 591.6 59.6 592.5 60.5 592.4 60.3 593.4 60.2 594.3 59.8 595.3 59.9 596.1 59 597.2 59.1 598.1 58.7 599 58.5 598.2 58.9 597.4 59.6 596.3 59.5 595.7 60.4 594.7 60.6 593.8 61.1 592.9 61.4 593 62.4 593.3 63.4 594 64.2 594.3 65.1 594.8 65.9 595.4 66.7 595.7 67.6 596.8 68.1 597.1 69 597.6 69.8 598.3 70.5 598.5 71.5 599.2 72.1 600 72.7 600.2 73.7 600.8 74.7 602 75 602.6 76 601.9 76.9 601 77.5 600.2 78.3 601 79.2 601.6 80.1 602.2 81.1 602.6 82.2 603.6 82.5 604.5 83.1 605.5 83.6 606.4 84.1 607.5 84.3 608.5 83.7 609.5 84.2 610.5 83.7 611.6 83.6 612.6 83.7 613.5 83.2 613.8 82.2 614.2 81.1 614.9 80.2 614.9 79.1 615.9 79.2 616.9 78.7 617.8 78.5 618.8 78.5 619.7 78 620.7 77.9 621.7 78.2 622.7 77.9 623.7 77.7 624.7 77.6 625.8 77.6 626.8 77.5 627.8 77.4 628.9 77.5M584.8 65.5 583.8 65.7 583 66.2 582 66.3 581.2 67 580.2 66.9 579.4 67.5 578.4 67.8 577.7 68.4 577.1 69.2 576.1 69.4 575.5 70.2 574.5 70.4 573.4 70.1 572.4 70.5 571.4 70.6 570.3 70.4 569.3 70.6 568.4 71.2 567.7 72.1 566.9 72.8 566.2 73.7 566 74.7 565.8 75.8 566 77 565.6 78 565.4 79.1 565.3 80.2 565.3 81.4 565.4 82.6 566.3 83.1 567.3 83.3 568.4 83.2 569.3 83.7 569.2 84.8 569.3 85.8 569.3 86.8 570.8 87.6 570.8 88.7 571.3 89.7 571.6 90.7 571.5 91.7 571.3 92.6 571.6 93.6 571.6 94.6 570.8 95.1 570 95.5 569.4 96.3 568.7 96.8 567.6 96.9 567 97.7 566 97.8 565 97.5 563.9 97.8 563 97.4 561.9 97.6 561 97.1 559.9 97.3 558.9 97.2 557.9 97.1 556.9 97.3 556 97.5 555 97.6 554.1 98 553.1 98.1 552.1 98.5 551.1 98.4 550.2 98.9 549.2 98.8 548.2 99.1 547.2 99.1 546.2 99.3 545.4 99.9 544.3 99.9 543.4 100.5 542.3 100.2 541.5 100.8 540.4 101.6 539.5 102.7 539 103.8 539 105.1 538.4 106.2 537.4 106.8 536.6 107.6 536 108.5 535.2 109.2 534.5 110.1 533.6 110.7 533.1 111.8 532.4 112.6 531.4 113.2 530.8 114 529.8 114.3 528.8 114.6 527.7 115 526.8 115.5 525.7 116 524.7 116.4 523.6 116.7 522.5 117 521.5 117 520.5 117.2 519.6 117.6 518.6 117.9 517.7 118 516.7 118.2 516.6 119.2 516 120 515.5 120.8 515.2 121.7 514.8 122.9 514.4 124 513.5 124.7 512.4 125 511.5 125.8 510.5 126.3 509.5 126.5 508.5 127 507.4 126.9 506.4 127.6 505.3 127.5 504.3 127.9 503.7 128.8 503.5 129.8 502.5 130.6 501.2 131 500.2 130.9 499.2 130.8 498.3 130.5 497.3 130.3 496.3 130.3 495.2 130.4 494.3 130.2 493.9 129.3 493.5 128.5 492.7 127.9 491.6 128 490.4 127.7 489.2 128 488.1 127.9 488.7 128.8 489 130 489.9 130.7 490.4 131.7 490.7 132.8 491.3 133.8 491.8 134.8 491.9 136 491 136.3 490.1 135.9 489.2 136.2 488.2 136.2 487.3 136.4 486.2 136.5 485.1 136.6 484 136.7 482.9 136.7 481.9 137.2 481 136.5 480.1 136 479 135.8 478.3 134.8 477.2 134.5 476.2 134.9 475.1 134.9 474 135.1 472.9 135.1 471.8 135.6 470.7 135.6 469.7 136.3 468.6 136.3 467.5 136.3 466.4 136.8 466.2 137.7 466 138.7 467.2 138.9 468.4 139.1 469.5 139.5 468.6 139.8 467.9 140.5 467.2 141 467.8 141.8 468.7 142.1 469.5 142.6 470.6 142.5 471.5 143.1 472.6 143.2 473.6 143.2 474.6 143.5 475.7 143.4 476.8 143.4 477.7 144.2 478.8 144.1 479.8 144.3 480.8 144.9 481.9 144.9 482.7 145.6 483.7 146.1 484.7 146.6 485.8 146.8 486.2 147.8 486.5 148.8 486.8 149.7 487.6 150.3 488.1 151.1 488.8 151.8 489.5 152.4 490.4 152.9 491.2 153.4 491.9 154.2 492.8 154.6 493.5 155.4 494 156.4 494.1 157.5 494.4 158.5 494.3 159.6 494 160.5 493.9 161.5 493.7 162.5 493.2 163.3 493.1 164.3 493.3 165.2 493.5 166.2 493.3 167.2 493.5 168.1 493.4 169.1 493.3 170.1 492.9 171 492.6 171.9 492.3 172.8 491.9 173.7 491.9 174.8 491.6 175.7 491.2 176.7 490 176.9 488.9 177.1 487.9 177.1 486.9 177.2 486 176.8 485.1 177.1 484.1 176.7 483.2 176.9 482.2 176.8 481.3 176.5 480.3 176.7 479.4 176.4 478.4 176.6 477.4 176.4 476.4 176.5 475.4 176.4 474.4 176.2 473.4 176.3 472.3 176.1 471.2 176.3 470.1 176.3 469.1 176.8 468 176.7 467 176.5 466 176.3 464.9 176.3 463.9 176.1 462.9 175.9 461.9 175.7 460.9 175.7 459.9 175.7 459 175.1 457.9 175.1 457 175.3 456.1 175.1 455.1 175.1 454.2 175.1 453.3 175.3 452.3 175.3 451.4 175.4 450.5 175.4 449.6 175.6 448.6 175.5 447.7 175.2 446.8 175 445.9 174.7 445 174.6 444.2 174 443.2 174 442.3 174.3 441.3 174.3 440.5 175 439.6 175.3 438.6 175.5 437.7 176.1 436.8 176.4 435.8 176.8 435 177.3 434 177.6 433.2 178.2 432.3 178.9 431.8 180 430.8 180.5 431.3 181.4 431.8 182.3 432.4 183 433.2 183.6 433.5 184.6 433.5 185.7 433.9 186.7 434 187.7 434.6 188.6 434.6 189.6 434.7 190.6 435.2 191.6 435 192.8 435.2 193.9 435.8 194.9 435.9 196 435.8 197 435.5 197.9 434.7 198.7 434.7 199.7 434.1 200.5 433.9 201.5 433.5 202.4 433.2 203.4 432.7 204.3 432.4 205.3 431.7 206.3 430.6 207 430.1 208 429.9 209.1 429.5 210.1 429.3 211.2 429.3 212.3 430.6 212.6 431.6 213.5 432.5 213.8 433.3 214.3 433.9 215 434 216 434.3 216.9 434.7 217.7 434.7 218.6 434.9 219.6 434.4 220.5 434.9 221.4 434.7 222.4 434.5 223.4 434.3 224.3 433.9 225.3 433.5 226.2 434.4 226 435.4 225.9 436.3 225.5 437.3 225.8 438.4 225.8 439.5 225.9 440.6 225.9 441.7 226.2 442.7 226 443.7 225.6 444.7 225.3 445.5 224.7 446.5 224.8 447.5 224.6 448.4 225.1 449.4 225.1 450.1 225.7 451 226.1 451.6 226.9 452.5 227.3 453.3 227.8 453.9 228.5 454.2 229.5 454.3 230.5 454.8 231.3 455.8 231.7 456.8 232.1 457.5 233 458.7 233.2 459.5 234 460.5 233.6 461.4 232.8 462.3 232.2 463.2 231.6 463.9 230.7 464.9 230.1 465.7 229.5 466.7 229.2 467.7 228.8 468.7 228.6 469.7 228.7 470.7 228.4 471.7 228.7 472.7 228.4 473.7 228.5 474.7 228.4 475.7 228.6 476.7 228.8 477.7 228.6 478.7 228.8 479.7 228.5 480.7 228.7 481.7 228.6 482.7 228.6 483.6 228.3 484.6 228.2 485.6 228.2 486.5 228.2 487.3 227.6 488 226.9 488.2 225.9 489.1 225.5 489.6 224.7 490.5 224.2 491.4 223.9 492.3 223.4 493.2 222.9 494.1 222.7 495 222.2 495.8 221.6 496.1 220.4 497 219.6 497.4 218.5 498.1 217.5 499 216.7 499.7 215.8 500.3 215.1 501.2 214.7 502 214.3 502.8 213.8 503.5 213.1 504.3 212.7 503.9 211.8 503.2 211.2 502.3 210.7 501.7 210 501.2 209.2 500.6 208.1 500.5 206.9 500.9 206 501.4 205.2 502.4 204.7 502.8 203.8 503.5 203 504 202.2 504.5 201.3 505.2 200.6 506.1 200 506.6 199.1 507.5 198.7 508 197.8 509 197.4 509.7 196.8 510.1 195.8 510.5 194.9 511.5 194.8 512.5 194.5 513.4 194.3 514.3 193.8 515.4 194.1 516.3 193.9 517.2 193.4 518.2 193.3 519.1 192.8 520 192.4 521 192.2 521.8 191.5 522.7 191.1 523.7 190.9 524.4 190.2 525.2 189.5 526 188.9 526.6 188 527.5 187.5 527.2 186.4 527 185.2 527.1 184 526.9 182.8 526.3 181.7 526 180.5 526.7 179.9 527.4 179.1 528.3 178.7 529.2 178.2 529.8 177.4 530.7 176.7 531.7 176.4 532.7 175.9 533.7 175.5 534.7 175.6 535.5 176.2 536.6 175.9 537.4 176.5 538.4 176.7 539.3 177.1 540.4 177 541.5 177 542.5 177.2 543.5 177.9 544.5 177.8 545.4 178.2 546.3 178.5 547.4 178.3 548.3 178.5 549.2 179 550 178.6 550.9 178.3 551.8 178 552.9 178.3 553.7 177.5 554.6 177.4 555.2 176.6 556.3 176.6 556.8 175.7 557.7 175.2 558.5 174.7 559.4 174.5 560.5 174.4 561.5 174.1 562.3 173.6 563.3 173.6 564.3 173.2 565.3 173.1 566.2 172.8 567 172.2 567.8 171.6 568.3 170.6 569.4 170.4 570 169.5 570.8 168.9 571.7 169.4 572.7 169.6 573.6 169.9 574.5 170.3 575.4 170.9 576.3 171.2 577.1 171.6 578.1 171.9 579.1 171.8 580 172 580.9 172.4 581.3 173.3 581.9 174 582.1 175 582.4 175.9 582.7 176.9 583.1 177.9 583.7 178.8 584 179.8 584.8 180.5 585.7 181.1 586.2 182.2 587.3 182.7 587.9 183.6 588.8 184 589.7 184.4 590.6 184.7 591.3 185.5 592.2 186.1 593.1 186.4 594 186.7 594.9 187.1 595.7 187.6 596.4 188.2 597.3 188.6 597.8 189.5 598.7 189.8 599.6 190.3 600.4 190.8 601.1 191.4 601.6 192.4 602.7 192.6 603.3 193.3 604.4 193.4 605.5 193.6 606.6 193.4 607.7 193.1 608.7 193.3 609.7 194 610.3 195.2 611.1 196 612 196.7 612.9 197.3 614 197.8 614.9 198.4 615.8 199.1 616.9 199.4 617.9 199.9 618.8 200.7 619.8 200.8 620.6 201.6 621.6 201.7 622.4 202.5 623.4 202.6 624.2 203.6 625 204.5 625.7 205.5 625.8 206.7 626.5 207.6 627.3 208.3 627.5 209.3 628.4 209.9 628.9 210.7M599.5 78.3 598.5 78.5 597.5 78.5 596.6 78.9 595.6 79.1 594.8 79.6 593.8 79.6 592.9 80 592.1 80.4 591.1 80.5 590.2 80.9 589.4 81.4 589.3 82.4 589.2 83.5 589.4 84.5 590.4 84.7 591.2 85.2 592.1 85.7 593.1 85.9 594 86.1 594.9 85.6 596 85.6 596.8 85.1 597.8 84.9 598.7 84.5 599.4 83.6 599.7 82.4 600.2 81.4 599.8 80.4 599.7 79.3 599.5 78.3ZM583.2 82.2 582.3 82.4 581.4 82.6 580.4 82.4 579.5 82.7 578.6 83 579.1 84 579.6 85 580.1 86.1 581.2 86.2 582.3 85.9 583.4 86.3 584.5 86 585.5 86.1 585.7 84.8 586.3 83.7 585.3 83.2 584.2 82.7 583.2 82.2ZM628.9 188.3 627.9 188.3 626.9 188.1 626 188.2 625 187.9 624 188.2 623.1 188 622.1 188.2 621.1 187.9 620.2 187.5 619.2 187.6 618.3 187.2 617.4 187.1 616.5 186.7 615.8 186.1 615.1 185.4 614.1 185.1 613.4 184.4 612.5 183.9 611.8 183.3 611.4 182.3 610.6 181.6 610.1 180.7 609.5 179.8 609.1 178.7 608.6 177.7 608.2 176.6 608 175.5 607.2 174.9 606.3 174.4 605.3 174.2 604.6 173.5 603.7 173.1 602.8 172.7 601.9 172.4 601 171.9 600.2 171.2 599.8 170.4 599.2 169.6 598.5 168.9 597.9 168.1 598 167.2 598.2 166.2 598.7 165.3 598.7 164.3 598.3 163.3 598.1 162.2 597.9 161.2 598.7 160.6 599.7 160.4 600.5 159.8 601.6 159.7 602.3 159 603.3 158.9 604.4 159.1 605.5 159 606.6 158.6 607.7 158.7 608.7 158.9 608.7 159.9 608.4 161 608 162 608.6 162.9 609.2 163.9 609.7 164.9 610.3 165.8 611 165 611.8 164.3 612.7 163.6 613.4 162.7 614.3 163.2 615.3 163.6 616.3 163.9 617.2 164.4 618 165 618.6 166 619.1 167 619.8 167.9 620.3 168.9 621.1 169.5 621.7 170.2 622.2 171 622.9 171.7 623.5 172.4 624.5 172.8 625 173.6 626 174 626.8 174.9 628 175.2 628.9 175.9M628.9 211.5 628.2 212.2 627.3 212.5 626.5 213.1 625.9 214 625.1 214.8 624.4 215.6 623.8 216.6 624.8 217.5 625.8 218.5 626.8 218.6 627.8 218.6 628.9 218.9M598.7 220 599.1 219.2 599.7 218.5 600.2 217.7 601.3 217.4 602.4 217.6 603.5 217.1 604.6 217.1 605.7 216.9 606.6 217.1 607.5 217.3 608.3 217.8 609.3 217.8 610.2 218.2 611.1 218.5 612 218.4 613 218.4 613.9 218.1 614.9 218.1 615.8 217.7 616.7 217.7 617.7 217.6 618.6 217.6 619.6 217.3 620.5 217.1 621.5 216.8 622.5 216.9 623.4 216.6 623 217.4 622.5 218.2 622.2 219.1 621.7 219.9 621.2 220.7 620.7 221.5 620.3 222.4 620.1 223.3 619.9 224.3 619.6 225.2 619.6 226.2 618.6 226.6 617.5 226.9 616.4 226.8 615.5 227.3 614.4 227.6 613.4 227.8 612.4 227.6 611.6 227 610.6 226.8 609.7 226.5 608.9 225.9 607.9 225.7 607 225.3 606 225.1 605.2 224.6 604.2 224.3 603.3 223.9 602.4 223.2 601.5 222.6 600.5 222.1 599.5 221.6 598.7 220ZM567.7 194.5 568.8 194.2 569.8 194.1 570.8 193.8 571.9 193.6 572.9 193.3 573.9 193.3 574.7 193.9 575.5 194.4 576.2 195 577 195.5 577.8 196 577.8 197.1 577.9 198.1 578.1 199.1 578.3 200.2 578.3 201.2 578.6 202.2 578.4 203.3 578.2 204.3 577.6 205.3 577.5 206.3 577.3 207.4 577 208.4 576.1 208.6 575.1 208.7 574.1 208.9 573.2 209.2 572.1 209.7 571.1 210.2 570.2 210.8 569.3 211.5 568.4 210.9 567.7 210 568 209 567.7 208.1 567.7 207.2 567.7 206.3 567.7 205.3 568 204.4 568.1 203.5 568.2 202.5 568.2 201.6 568.5 200.7 567.9 199.8 566.8 199.3 566.2 198.4 566 197.2 566.2 196 567.1 195.4 567.7 194.5ZM575.5 179.8 575.8 180.8 575.8 181.9 576.3 182.9 576.5 183.8 576.3 184.8 576.4 185.8 576.6 186.7 576 187.6 575.9 188.6 575.2 189.4 574.8 190.3 574.4 191.3 573.9 192.2 572.9 191.7 571.9 191.3 570.8 191 570.3 190.1 570 189.1 569.3 188.3 569.4 187.3 569.2 186.2 569.3 185.2 569.5 184 570.1 182.9 571 182.6 571.9 182.5 572.8 182.2 573.8 182.4 574.7 182.1 575.3 181 575.5 179.8ZM521 206.1 521.6 205.4 522.3 204.7 522.9 204 523.7 203.4 524.6 203.4 525.6 203.4 526.6 203.7 527.5 203.8 528.5 204.5 529.5 205.3 528.9 206.2 528.4 207.1 527.9 208 526.9 207.7 525.8 207.3 524.8 207 523.7 206.9 522.8 206.6 521.9 206.2 521 206.1ZM532.2 203 533.1 203.2 534.1 203.2 535.1 203.1 536 203.4 534.5 204.2 533.2 203.8 532.2 203ZM512.1 211.1 513 210.5 514 210.2 515.2 210 514.9 211 514.4 211.9 513.2 211.6 512.1 211.1ZM457.9 235.5 458.8 235.2 459.9 235.2 460.9 235.2 461.8 234.8 462.4 235.6 463.3 236.2 464.1 236.8 464.8 237.5 465.7 238 466.5 238.8 467.2 239.5 468 240.2 468.9 240 469.9 240.2 470.9 240.2 471.8 240.1 472.8 240.3 473.8 240.2 474.7 240.4 475.7 240.2 476.7 240.1 477.6 240.1 478.5 239.5 479.4 239.4 480.3 239.4 481.3 239.6 482.2 239.7 483 240.2 483.9 240.6 484.9 240.7 485.8 241 486.7 240.6 487.6 240.3 488.7 240.4 489.6 239.8 490.6 239.8 491.6 239.7 492.6 239.5 493.5 239 494.2 238.3 495.1 237.9 495.8 237.3 496.7 236.8 497.5 236.3 498.1 235.5 499.1 235.1 500.1 234.8 501.2 234.7 502.3 234.5 503.3 234.2 504.3 234 505.3 233.6 506.2 233 506.9 232.2 508 231.9 508.6 231 509.6 230.6 510.5 230.1 511.5 229.9 512.4 229.8 513.4 229.6 514.4 229.8 515.4 229.8 516.3 229.5 517.3 229.2 518.2 229.3 519.2 229.2 520.2 229.1 521.2 228.8 522.2 228.8 523.1 228.4 524 228 525 228 526 227.8 526.9 227.7 527.9 227.7 528.9 227.5 529.9 227.6 530.8 227.1 531.8 227.3 532.7 227 533.7 227 534.7 227.3 535.7 227 536.6 227.1 537.6 227.6 538.6 227.4 539.5 227.5 540.5 227.9 541.5 227.8 542.4 227.7 543.4 227.5 544.3 227.1 545.3 227 546.3 226.7 547.3 226.7 548.2 226.4 549.2 226.2 550.1 226 551.1 225.9 552.1 226 553 225.8 554 226 555 225.8 555.9 225.4 556.9 225.5 557.9 225.8 559 226 560.1 226.1 561 226.7 562 226.9 563.1 227 564.1 227 565.2 226.9 566.2 226.6 567.2 226.7 568.3 226.8 569.3 226.6 570.4 226.1 571.4 225.4 572.4 224.7 573.4 224.6 574.5 224.4 575.5 224.3 576.5 224.3 577.6 224.2 578.6 223.9 579.3 224.6 580.1 225.2 580.9 225.8 581.8 226.2 582.4 227 583.5 226.6 584.6 226.5 585.7 226.4 586.8 226.1 587.9 225.8 587.1 226.6 586.5 227.5 586 228.4 585.2 229.1 584.8 230.1 584.7 231.1 584.4 232 584 233 584 234 584.8 234.4 585.5 235.1 586.4 235.4 587.1 236.1 588 236.4 588.6 237.1 588.4 238.1 588.2 239.2 587.9 240.2 587.4 241.1 587.3 242.2 586.6 243.1 586.3 244 585.5 244.5 584.9 245.3 584.1 245.8 583.2 246.3 582.5 246.9 581.8 247.5 580.9 247.9 581.3 248.9 581.8 249.8 582.1 250.8 582.4 251.8 583.5 251.8 584.4 252.1 585.4 252.2 586.3 252.6 587.1 253.3 587.8 254.2 588.6 254.9 589.4 255.7 590.3 255.9 591.1 256.5 592.1 256.6 593 256.8 593.8 257.3 594.7 257.6 595.6 258 596.6 258.2 597.7 257.9 598.7 258.2 599.7 258.1 600.8 258 601.8 257.9 602.8 258.2 603.8 258.1 604.9 258 605.9 258.1 606.8 258.6 607.7 259 608.8 259 609.6 259.7 610.7 259.6 611.7 259.9 612.6 260.3 613.6 260.7 614.5 260.9 615.5 261.2 616.5 261.3 617.4 261.8 618.4 262.3 619.3 262.5 620.3 262.6 621.1 263.3 621.5 264.2 622 265.1 622.7 265.7 623.3 266.6 624.1 267.2 625 267.8 625.9 268.3 626.4 269.3 627.3 269.8 628 270.6 628.9 271.2M457.9 235.5 457.1 236.3 456.4 237.1 455.6 237.9 454.9 238.7 454.4 239.8 454 240.9 453.3 241.7 452.8 242.6 452 243.2 451.7 244.1 451 244.8 450.4 245.5 450.1 246.4 449.4 247.1 448.9 248 448.1 248.6 447.4 249.3 446.7 249.9 446.1 250.7 445.3 251.2 444.6 251.8 444 252.6 443.2 253.1 442.3 253.3 441.3 253.4 440.6 254.1 439.7 254.4 438.7 254.5 437.9 254.8 437 255.3 436.1 255.8 435.6 256.9 434.8 257.6 433.9 258.1 433.3 259 432.5 259.7 431.6 260.3 431.4 261.2 431.2 262.2 431.3 263.1 431.2 264.1 430.8 265 430.2 265.8 429.6 266.6 428.9 267.3 428.4 268.2 427.5 268.7 427 269.6 427.2 270.7 427.4 271.8 427.5 272.8 427.6 273.9 427.7 275 428.3 276.1 428.5 277.4 428.2 278.3 427.5 279 427.3 280.1 426.7 280.9 426.5 281.9 425.7 282.6 425.4 283.5 424.7 284.3 424.2 285.2 423.6 286 422.6 286.5 422 287.3 421.4 288.1 420.8 289 419.9 289.6 419.1 290.2 418.6 291.1 417.7 291.6 417 292.4 416.1 292.9 415.4 293.6 414.4 293.8 413.5 294.3 412.6 294.7 411.8 295.4 410.8 295.4 410 295.9 408.9 295.9 408 296.3 407 296.4 406 296.4 405 296.3 404 296.7 403 296.7 402.1 297.4 401.3 298.2 400.7 299 400 299.7 399.5 300.5 399.1 301.3 398.6 302.2 398.2 303 397.6 303.7 396.8 304.3 396.4 305.2 395.4 305.7 394.7 306.3 394.1 307.1 393.3 307.7 392.8 308.5 392.2 309.3 391.4 309.9 391.1 310.9 390.5 311.6 390 312.5 389.5 313.4 389 314.2 388.8 315.2 388.3 316.1 387.9 317 387.3 317.9 387 318.9 386.8 319.9 386.3 320.8 385.5 321.4 385.2 322.3 384.7 323.2 384.1 323.9 383.5 324.7 382.9 325.4 382.2 326.2 381.2 326.8 380.5 327.6 379.6 328.3 379 329.2 378.7 330.1 378.5 331.1 378.1 331.9 377.5 332.7 377.2 333.6 376.9 334.5 376.7 335.4 376.6 336.4 376.1 337.3 375.6 338.2 375.5 339.2 375.1 340.1 374.5 340.8 373.9 341.6 373.1 342.3 372.9 343.3 372.1 344 372 344.9 371.9 345.9 371.8 346.9 371.4 347.8 371.5 348.8 371.1 349.8 371.1 350.8 370.9 351.7 371.7 352.2 372.7 352.4 373.5 352.8 374.4 353.3 375.2 354.1 375.6 355.2 376 356.2 376.7 357.1 376.6 358.1 376.3 359.1 376 360 375.9 361 376.1 362 376.7 362.8 376.8 363.8 377.1 364.7 377.5 365.6 377.5 366.7 377.7 367.7 378 368.7 378.3 369.8 378.5 370.8 378.6 371.8 378.6 372.9 378.4 374 378.2 375.1 378.5 376.2 378.2 377.3 378 378.3 377.5 379.2 377.3 380.3 377.1 381.3 376.5 382.2 376.4 383.3 375.9 384.2 375.7 385.2 375.4 386.1 375.1 387 374.5 387.9 374.4 388.9 373.8 389.7 373.4 390.6 372.9 391.5 372.7 392.4 372.2 393.3 371.8 394.2 371.3 395.1 370.5 395.7 369.6 396.3 368.8 397 368.2 397.9 367.4 398.6 368.4 399.3 369.6 399.7 370.5 400.5 371.2 401.4 371.7 402.4 372.1 403.5 372.8 404.4 372.7 405.3 372.8 406.3 372.9 407.3 372.8 408.2 372.8 409.2 373 410.2 373.5 411.1 373.6 412.1 373.2 413 373.3 414 373.1 414.9 373.1 415.9 372.8 416.8 372.7 417.9 372.9 419.1 373 420.2 372.8 421.4M399.5 287.8 398.9 286.7 397.6 286.3 396.2 286.7 395.6 287.8 396.2 288.9 397.6 289.4 398.9 288.9 399.5 287.8ZM397.2 292.8 396.4 291.7 395.5 291.4 394.5 291.3 393.5 291.3 392.6 291.7 391.8 292.8 392.6 293.9 393.6 294 394.5 294.4 395.5 294.4 396.4 293.9 397.2 292.8ZM377.1 293.6 376.4 292.7 374.8 292.3 373.1 292.7 372.4 293.6 373.1 294.5 374.8 294.9 376.4 294.5 377.1 293.6ZM373.6 259.2 372.9 258.6 371.3 258.4 369.6 258.6 369 259.2 369.6 259.7 371.3 259.9 372.9 259.7 373.6 259.2ZM285.8 215 285.2 214.6 283.9 214.5 282.5 214.6 281.9 215 282.5 215.4 283.9 215.5 285.2 215.4 285.8 215ZM288.1 213.5 287.6 213.1 286.2 213 284.8 213.1 284.3 213.5 284.8 213.8 286.2 213.9 287.6 213.8 288.1 213.5ZM308.2 220 307.4 219.6 306.5 219.4 305.5 219.4 304.6 219.3 303.6 219.6 302.8 220 303.6 220.5 304.6 220.7 305.5 220.7 306.5 220.7 307.4 220.5 308.2 220Z"/><path fill="#000" stroke="#000" stroke-width="1.2" stroke-linejoin="round" d="M446.3 31.1 447.3 30.7 448.3 30.3 449.4 30.3 450.4 30.7 451.5 30.9 452.5 31.4 451.8 32.3 451 33 450.7 33.9 450.3 34.8 450.2 35.7 449.5 34.9 448.6 34.1 447.9 33.4 447.3 32.6 447 31.7 446.3 31.1ZM493.5 42.3 494.7 42.6 495.8 43.1 495.4 44 494.8 44.9 494.3 45.8 493.7 46.7 493.3 47.6 492.7 48.5 492.3 47.6 492.3 46.6 491.9 45.8 491.2 45 492.1 44.2 492.9 43.3 493.5 42.3ZM477.2 55.1 478.2 54.6 479.1 54.1 480.1 53.9 481.1 53.5 482.1 54.2 483.2 54.8 484.2 55.5 483.3 56 482.3 56.4 481.4 57 480.3 57.4 479.3 57.1 478.3 56.7 477.2 56.6 477.2 55.1ZM454.8 59.7 454.7 61 454 62 453.4 62.9 452.5 63.6 451.7 64.4 450.6 64.5 449.6 64.9 448.6 65.5 448.3 64.5 447.9 63.6 448.4 62.4 449.4 61.7 450.3 61.3 451.1 60.7 452 60.4 453.1 60.5 453.8 59.8 454.8 59.7ZM447.1 65.9 446.2 66.6 445.5 67.5 444.8 68.2 445 69.6 445.1 70.9 446.3 71.3 446.6 70.3 446.7 69.2 447.1 68.2 446.9 67.1 447.1 65.9ZM455.6 65.9 456.1 66.7 456.7 67.5 457.4 68 458.2 68.6 458.7 69.4 458 70.3 457.1 70.9 456.2 70.7 455.2 70.3 454.3 70 453.3 69.8 452.6 69 451.7 68.5 451 67.8 451.9 67.6 452.8 67.1 453.7 66.6 454.6 66.1 455.6 65.9ZM454 75.2 455 75.2 456 75 456.9 74.9 457.9 74.8 458.7 76 457.8 76.1 456.8 76.3 455.9 76.3 455 76.7 454 76.8 454 75.2ZM454.8 79.9 455.5 80.6 456.4 81 455.2 81.6 454 82.2 453.2 81.7 452.5 81 453.6 80.3 454.8 79.9ZM467.2 94.2 468 93.4 468.3 92.3 469.1 91.5 468.7 93 467.8 93.4 467.2 94.2ZM383.8 296.3 383.3 295.2 382.1 294.8 380.9 295.2 380.4 296.3 380.9 297.4 382.1 297.9 383.3 297.4 383.8 296.3ZM370.5 295.2 370.3 294.7 369.7 294.5 369.2 294.7 369 295.2 369.2 295.6 369.7 295.8 370.3 295.6 370.5 295.2ZM365.5 290.5 365.3 289.7 364.7 289.4 364.2 289.7 363.9 290.5 364.2 291.3 364.7 291.7 365.3 291.3 365.5 290.5ZM364.3 297.9 364.1 297.4 363.5 297.3 363 297.4 362.8 297.9 363 298.3 363.5 298.5 364.1 298.3 364.3 297.9ZM376.9 256.7 376.7 256.3 376.3 256.2 375.9 256.3 375.7 256.7 375.9 257 376.3 257.1 376.7 257 376.9 256.7ZM262 207.3 261.8 206.7 261.4 206.5 261.1 206.7 260.9 207.3 261.1 207.8 261.4 208 261.8 207.8 262 207.3ZM281.6 214 281.3 213.6 280.8 213.5 280.2 213.6 280 214 280.2 214.4 280.8 214.5 281.3 214.4 281.6 214ZM286.7 210.4 286.5 210.1 286.2 210 285.9 210.1 285.7 210.4 285.9 210.6 286.2 210.7 286.5 210.6 286.7 210.4ZM293.8 213.1 293.4 212.6 292.4 212.4 291.4 212.6 291 213.1 291.4 213.5 292.4 213.7 293.4 213.5 293.8 213.1ZM309.2 226.6 309.1 226.3 308.6 226.2 308.2 226.3 308 226.6 308.2 227 308.6 227.1 309.1 227 309.2 226.6ZM309.9 380.7 309.5 380.2 308.6 380 307.8 380.2 307.4 380.7 307.8 381.3 308.6 381.5 309.5 381.3 309.9 380.7ZM310.6 382.3 310.3 382 309.8 381.8 309.2 382 309 382.3 309.2 382.6 309.8 382.8 310.3 382.6 310.6 382.3ZM316.4 384.2 315.9 383.9 314.8 383.8 313.7 383.9 313.3 384.2 313.7 384.6 314.8 384.7 315.9 384.6 316.4 384.2ZM325.7 383.5 325.6 382.9 325.3 382.7 324.9 382.9 324.8 383.5 324.9 384 325.3 384.2 325.6 384 325.7 383.5ZM327.1 388.1 326.8 387.4 326 387.2 325.3 387.4 324.9 388.1 325.3 388.8 326 389 326.8 388.8 327.1 388.1ZM323.9 395.1 323.7 394.7 323.3 394.5 322.9 394.7 322.8 395.1 322.9 395.5 323.3 395.6 323.7 395.5 323.9 395.1ZM321.3 395.9 321 394.8 320.2 394.3 319.5 394.8 319.1 395.9 319.5 396.9 320.2 397.4 321 396.9 321.3 395.9ZM314.8 397 314.6 396.5 314 396.2 313.5 396.5 313.3 397 313.5 397.6 314 397.8 314.6 397.6 314.8 397ZM312.1 397.8 312 397.5 311.7 397.4 311.4 397.5 311.3 397.8 311.4 398.1 311.7 398.2 312 398.1 312.1 397.8ZM3.5 370.7 3.1 370.4 2.3 370.3 1.5 370.4 1.2 370.7 1.5 371 2.3 371.1 3.1 371 3.5 370.7ZM15.7 372.2 15.5 371.9 15.1 371.8 14.6 371.9 14.5 372.2 14.6 372.6 15.1 372.7 15.5 372.6 15.7 372.2ZM17 374.2 16.9 373.9 16.6 373.9 16.4 373.9 16.2 374.2 16.4 374.4 16.6 374.5 16.9 374.4 17 374.2ZM14 376.3 13.9 376 13.7 375.9 13.5 376 13.4 376.3 13.5 376.5 13.7 376.6 13.9 376.5 14 376.3ZM18.2 378.8 18 378.4 17.4 378.3 16.9 378.4 16.6 378.8 16.9 379.2 17.4 379.4 18 379.2 18.2 378.8ZM22 383.1 21.9 382.7 21.7 382.6 21.4 382.7 21.3 383.1 21.4 383.4 21.7 383.5 21.9 383.4 22 383.1ZM25.3 376.3 25.1 375.9 24.8 375.7 24.4 375.9 24.2 376.3 24.4 376.6 24.8 376.8 25.1 376.6 25.3 376.3ZM25.4 380.5 25.2 380.1 24.8 380 24.3 380.1 24.1 380.5 24.3 380.9 24.8 381.1 25.2 380.9 25.4 380.5ZM27.8 387.3 27.5 386.5 26.7 386.2 25.9 386.5 25.5 387.3 25.9 388.2 26.7 388.5 27.5 388.2 27.8 387.3ZM29.5 386.6 29.3 386 28.6 385.8 28 386 27.7 386.6 28 387.1 28.6 387.3 29.3 387.1 29.5 386.6ZM29.2 389.7 29 389.3 28.6 389.2 28.2 389.3 28.1 389.7 28.2 390 28.6 390.1 29 390 29.2 389.7ZM28.9 393.5 28.7 392.7 28.2 392.4 27.8 392.7 27.6 393.5 27.8 394.3 28.2 394.7 28.7 394.3 28.9 393.5ZM31.9 399.3 31.6 398.5 30.9 398.2 30.3 398.5 30 399.3 30.3 400.2 30.9 400.5 31.6 400.2 31.9 399.3ZM31.7 405.1 31.6 404.5 31.2 404.2 30.8 404.5 30.6 405.1 30.8 405.8 31.2 406.1 31.6 405.8 31.7 405.1ZM29.9 410.2 29.7 409.6 29.4 409.4 29.1 409.6 28.9 410.2 29.1 410.7 29.4 411 29.7 410.7 29.9 410.2ZM26.2 418.9 26.1 418.5 25.7 418.3 25.3 418.5 25.1 418.9 25.3 419.4 25.7 419.6 26.1 419.4 26.2 418.9ZM42.7 411 42.5 410.5 42.2 410.3 41.8 410.5 41.6 411 41.8 411.4 42.2 411.7 42.5 411.4 42.7 411ZM28.9 415.2 28.8 414.7 28.6 414.4 28.4 414.7 28.3 415.2 28.4 415.8 28.6 416 28.8 415.8 28.9 415.2ZM2.4 262.6 2.3 262.4 1.9 262.3 1.6 262.4 1.5 262.6 1.6 262.9 1.9 262.9 2.3 262.9 2.4 262.6ZM614.8 234.8 614.6 234.5 614.2 234.4 613.7 234.5 613.5 234.8 613.7 235 614.2 235.1 614.6 235 614.8 234.8ZM588.2 251 587.9 250.5 587.1 250.2 586.3 250.5 585.9 251 586.3 251.6 587.1 251.8 587.9 251.6 588.2 251Z"/></g>
<path id="grid" fill="none" stroke="#000" stroke-width="1.1" d="M38.7 0V419.4M193.4 0V419.4M348.1 0V419.4M502.8 0V419.4M0 48.1H626.5M0 203H626.5M0 357.9H626.5"/>
<path id="arr0" fill="#4682b4" d="M25.2 26.6 24.6 27.4 23.6 27.3 23.2 26.4 23.8 25.6 24.8 25.7ZM68.6 26.8 67.9 27.5 67 27.2 66.7 26.2 67.5 25.5 68.4 25.8ZM112.2 26.8 111.4 27.5 110.5 27.2 110.2 26.2 111 25.5 111.9 25.8ZM154.6 26.8 154.8 26.8 154.3 27.6 156.8 27.1 155.1 25.3 155 26.3 154.8 26.2ZM198.3 26.9 198.6 26.8 198.4 28 201 26.1 198 25 198.4 26.1 198.2 26.1ZM241.9 27.4 242.6 27.3 242.3 30.2 248.4 25.4 241.1 22.8 242.3 25.5 241.6 25.6ZM285.3 27.5 289.4 27.4 288.7 30.6 296.2 26.1 288.4 22.2 289.3 25.4 285.2 25.5ZM328.8 27.5 339.5 27.2 338.8 30.4 346.2 26.1 338.5 22 339.4 25.2 328.7 25.5ZM372.5 27.5 383.8 24.9 383.7 28.2 390.2 22.4 381.9 20 383.4 23 372 25.5ZM416 27.5 427.2 25 427.1 28.3 433.7 22.6 425.4 20.1 426.8 23.1 415.5 25.5ZM459.4 27.5 470.3 25.6 470 28.9 476.8 23.5 468.6 20.6 469.9 23.6 459.1 25.5ZM503 27.5 509.1 26.4 508.9 29.6 515.6 24.2 507.4 21.4 508.7 24.4 502.6 25.5ZM546.5 27.5 548.7 27 548.5 30.3 555.2 24.8 546.9 22.1 548.3 25.1 546.1 25.5ZM589.9 27.5 592.4 27.1 592.1 30.4 599 25.2 590.9 22.1 592.1 25.2 589.7 25.5ZM24.2 70.2 24.6 70.1 24.4 71.6 27.7 69.4 24 67.8 24.5 69.2 24.1 69.3ZM67.6 70.3 68.1 70.4 67.4 72.2 72.2 70.2 67.9 67.2 68.2 69.2 67.7 69.1ZM111.2 70.6 111.9 70.5 111.4 73.3 117.7 69.3 111 66.1 111.8 68.8 111.1 68.8ZM154.8 70.7 157.6 70.4 157.2 73.6 164.2 68.6 156.2 65.3 157.4 68.4 154.6 68.7ZM198.3 70.7 203.6 70 203.2 73.3 210.2 68.1 202.1 64.9 203.3 68 198.1 68.7ZM241.9 70.7 251.7 69.3 251.3 72.6 258.3 67.4 250.2 64.3 251.4 67.3 241.6 68.7ZM285.4 70.7 300.2 68.1 300 71.3 306.7 65.9 298.5 63.1 299.8 66.1 285.1 68.7ZM328.9 70.7 348.4 67.1 348.2 70.3 354.9 64.8 346.6 62.1 348 65.1 328.6 68.7ZM372.4 70.7 393.8 67.6 393.5 70.9 400.4 65.6 392.3 62.6 393.5 65.6 372.1 68.7ZM415.9 70.7 438.5 67.4 438.2 70.7 445.1 65.4 437 62.3 438.3 65.4 415.6 68.7ZM459.4 70.7 486.1 66 485.9 69.3 492.7 63.8 484.5 61 485.8 64 459.1 68.7ZM502.9 70.7 523.4 67.2 523.2 70.5 529.9 65.1 521.7 62.2 523.1 65.2 502.6 68.7ZM546.5 70.7 553.5 69.3 553.3 72.6 560 67.1 551.7 64.4 553.1 67.4 546.1 68.7ZM589.9 70.7 594.4 70.1 594.1 73.3 601 68.1 592.9 65 594.1 68.1 589.7 68.7ZM24.4 113.9 26.4 113.4 26.4 116.7 32.8 110.9 24.4 108.6 25.9 111.5 23.9 112ZM68 113.9 71.7 112.8 71.9 116.1 77.9 109.9 69.4 108 71.1 110.8 67.4 112ZM111.5 113.9 117.9 111.8 118.2 115.1 124.1 108.7 115.6 107.1 117.3 109.9 110.9 112ZM155.1 113.8 164.5 109.9 165 113.1 170.4 106.3 161.8 105.4 163.8 108 154.3 112ZM198.5 113.9 211.5 109.8 211.7 113.1 217.7 106.8 209.2 105.1 210.9 107.9 197.9 112ZM242 113.9 259.6 109.2 259.6 112.5 265.9 106.5 257.5 104.4 259.1 107.3 241.5 112ZM285.5 113.9 305.9 108.2 306 111.5 312.2 105.4 303.7 103.4 305.4 106.2 285 112ZM329 113.9 349.3 108.8 349.3 112.1 355.7 106.2 347.3 104 348.8 106.9 328.5 112ZM372.4 113.9 394.9 110.1 394.6 113.4 401.4 108 393.2 105.1 394.5 108.1 372.1 111.9ZM415.9 113.9 440 110 439.8 113.3 446.6 107.9 438.4 105 439.7 108 415.6 111.9ZM459.4 113.9 478.3 110.5 478.1 113.8 484.8 108.3 476.6 105.5 478 108.5 459.1 111.9ZM502.9 113.9 511.3 112.8 510.9 116.1 517.9 110.9 509.8 107.7 511 110.8 502.6 111.9ZM546.2 113.9 548.1 114.2 546.9 117.2 555 114.1 548 108.9 548.4 112.2 546.4 111.9ZM589.7 113.9 590.5 114 589.5 117.1 597.4 113.5 590.1 108.7 590.7 112 589.9 111.9ZM24.5 157.1 25.3 156.8 25.8 160 31.3 153.3 22.6 152.2 24.6 154.9 23.8 155.2ZM68.3 156.9 72.9 153.5 74.2 156.6 77.8 148.7 69.2 149.8 71.7 151.9 67.1 155.3ZM111.7 157 121.7 151.7 122.5 154.9 127.2 147.7 118.6 147.5 120.8 150 110.7 155.3ZM155.1 157 165.7 151.9 166.4 155.1 171.4 148 162.7 147.6 164.8 150.1 154.3 155.2ZM198.7 157 208.1 151.4 209.1 154.5 213.5 147 204.8 147.3 207.1 149.6 197.7 155.3ZM242.3 157 250.7 151.3 251.8 154.4 255.8 146.6 247.1 147.4 249.6 149.6 241.2 155.3ZM285.5 157.1 293.1 154.6 293.3 157.9 299.2 151.5 290.7 149.9 292.4 152.7 284.9 155.2ZM329 157.1 336.2 155.4 336.2 158.7 342.6 152.9 334.2 150.5 335.7 153.5 328.5 155.2ZM372.4 157.1 379.1 156 378.9 159.3 385.6 153.8 377.4 151 378.8 154 372.1 155.2ZM415.9 157.1 422.2 156.2 421.9 159.5 428.8 154.2 420.7 151.2 421.9 154.2 415.6 155.2ZM459.3 157.1 465.3 156.7 464.7 160 472 155.2 464.1 151.6 465.2 154.7 459.2 155.1ZM502.8 157.1 505.8 157.1 505.1 160.3 512.6 156.1 505 151.9 505.8 155.1 502.8 155.1ZM546.1 157.1 549.7 157.8 548.3 160.8 556.6 158.2 549.9 152.6 550.1 155.9 546.5 155.2ZM589.6 157.1 594.7 158 593.4 161 601.6 158.1 594.8 152.7 595 156 590 155.2ZM24.6 200.3 26.7 199.3 27.4 202.5 32.3 195.3 23.6 195 25.8 197.5 23.7 198.5ZM68.4 200.1 72.8 195.6 74.5 198.4 76.8 190 68.5 192.5 71.4 194.2 67 198.7ZM111.9 200.2 117.5 195.1 119 198 121.8 189.8 113.4 191.8 116.1 193.6 110.5 198.7ZM155.3 200.2 160.9 195.5 162.4 198.5 165.5 190.3 157 192 159.6 194 154.1 198.7ZM198.9 200.2 204.8 195 206.3 198 209.2 189.8 200.7 191.6 203.4 193.5 197.6 198.7ZM242.2 200.3 254.6 193.4 255.4 196.6 260 189.2 251.3 189.2 253.6 191.6 241.2 198.6ZM285.4 200.4 286.3 200.2 286.3 203.5 292.8 197.7 284.4 195.3 285.9 198.3 285 198.5ZM328.6 198.4 321.4 199.4 321.8 196.1 314.8 201.2 322.9 204.4 321.7 201.4 328.9 200.4ZM372.1 198.4 361 200 361.4 196.7 354.4 202 362.6 205.1 361.3 202 372.4 200.4ZM415.6 198.4 404.3 200.1 404.6 196.8 397.7 202 405.8 205.1 404.5 202.1 415.9 200.4ZM459 198.5 447.3 201.1 447.4 197.8 440.9 203.6 449.2 206 447.7 203.1 459.5 200.4ZM502.5 198.5 491 201.6 490.9 198.3 484.7 204.4 493.1 206.4 491.5 203.6 503 200.4ZM545.8 198.6 538.2 202.7 537.4 199.5 532.7 206.8 541.4 206.9 539.2 204.4 546.8 200.3ZM589.2 198.6 584.8 201.7 583.6 198.6 579.8 206.4 588.5 205.5 586 203.4 590.4 200.3ZM24.4 241.7 22.8 241.3 24.3 238.4 15.9 240.6 22.3 246.5 22.3 243.2 23.9 243.6ZM68.1 241.7 63.6 239.7 65.7 237.1 57 237.7 62.2 244.7 62.8 241.5 67.3 243.6ZM111.5 241.7 103.8 239.1 105.6 236.3 97 237.9 102.9 244.3 103.1 241 110.9 243.6ZM155 241.7 143.2 238.1 144.9 235.2 136.4 237 142.4 243.3 142.6 240 154.4 243.6ZM198.1 241.7 182.9 242.9 183.5 239.6 176.2 244.4 184.1 248 183.1 244.9 198.3 243.7ZM241.6 241.7 222.7 243.9 223.1 240.6 216 245.6 224.1 248.9 222.9 245.8 241.8 243.6ZM285.1 241.7 265.4 243.2 265.9 240 258.7 244.8 266.6 248.3 265.5 245.2 285.3 243.7ZM328.7 241.7 314.2 242.9 314.8 239.6 307.5 244.4 315.5 248 314.4 244.8 328.8 243.7ZM372.1 241.7 358.9 243.7 359.2 240.4 352.3 245.7 360.4 248.7 359.2 245.7 372.4 243.6ZM415.6 241.7 401.8 244 402.1 240.7 395.3 246.1 403.5 249 402.1 245.9 415.9 243.6ZM459 241.7 445 244.9 445.1 241.6 438.6 247.4 446.9 249.8 445.4 246.8 459.5 243.6ZM502.5 241.7 489 244.9 489 241.6 482.6 247.5 491 249.8 489.5 246.9 503 243.6ZM546 241.7 534.5 244.8 534.5 241.5 528.2 247.5 536.6 249.6 535 246.7 546.5 243.6ZM589.4 241.8 580.5 246.1 579.8 242.8 574.8 250 583.5 250.4 581.4 247.9 590.2 243.6ZM24.3 284.9 21.5 284.5 22.8 281.4 14.7 284.5 21.6 289.7 21.2 286.5 24 286.9ZM68 284.9 63.3 283.3 65.1 280.5 56.6 281.9 62.3 288.4 62.7 285.1 67.3 286.8ZM111.3 284.9 104.2 283.8 105.5 280.8 97.3 283.8 104.2 289.1 103.9 285.8 111 286.9ZM154.7 284.9 138.8 284.9 139.6 281.7 132 285.9 139.6 290.1 138.8 286.9 154.7 286.9ZM198.1 284.9 177.4 288 177.7 284.7 170.8 290 179 293 177.7 290 198.4 286.9ZM241.5 284.9 221.9 288.5 222.2 285.2 215.4 290.7 223.7 293.4 222.3 290.4 241.9 286.9ZM285.1 284.9 265.1 287.2 265.5 283.9 258.4 289 266.5 292.3 265.3 289.2 285.3 286.9ZM328.6 284.9 301.6 287.4 302.1 284.2 294.9 289 302.9 292.5 301.8 289.4 328.8 286.9ZM372.2 284.9 343 286.5 343.6 283.3 336.3 287.9 344.1 291.7 343.1 288.5 372.3 286.9ZM415.7 284.9 394 287 394.5 283.8 387.3 288.7 395.3 292.1 394.2 289 415.9 286.9ZM459.1 284.9 439.4 288.1 439.6 284.8 432.8 290.2 441 293.1 439.7 290.1 459.4 286.9ZM502.6 284.9 485.9 287.8 486.1 284.5 479.4 289.9 487.6 292.7 486.2 289.7 502.9 286.9ZM546.1 284.9 531.6 287.6 531.8 284.3 525.1 289.8 533.3 292.5 532 289.5 546.5 286.9ZM589.5 284.9 578.8 288.3 578.6 285 572.6 291.3 581.1 293 579.4 290.2 590.1 286.8ZM24.2 328.1 20.4 327.9 21.4 324.7 13.6 328.6 21 333.1 20.3 329.9 24.1 330.1ZM67.8 328.1 61.3 327.1 62.6 324.1 54.4 327.1 61.3 332.4 61 329.1 67.5 330.1ZM111.2 328.1 101.9 327.5 102.9 324.4 95.1 328.1 102.4 332.8 101.8 329.5 111.1 330.1ZM154.7 328.1 145.4 327.7 146.4 324.5 138.6 328.4 146 332.9 145.3 329.7 154.7 330.1ZM198.1 328.1 189.5 329.4 189.8 326.1 182.9 331.5 191.1 334.4 189.8 331.4 198.4 330.1ZM241.5 328.1 232.7 329.8 232.9 326.6 226.2 332.1 234.5 334.8 233.1 331.8 241.9 330.1ZM285.1 328.1 276 329.3 276.4 326.1 269.4 331.3 277.5 334.4 276.3 331.3 285.4 330.1ZM328.6 328.1 318.9 329.4 319.2 326.1 312.2 331.2 320.3 334.4 319.1 331.3 328.9 330.1ZM372.2 328.1 361.6 328.3 362.4 325.1 354.9 329.5 362.5 333.5 361.7 330.3 372.3 330.1ZM415.7 328.1 406.6 328.2 407.4 325 399.9 329.4 407.5 333.4 406.7 330.2 415.8 330.1ZM459.2 328.1 453.1 328.4 453.8 325.1 446.4 329.7 454.2 333.5 453.2 330.4 459.3 330.1ZM502.7 328.1 499.2 328.5 499.6 325.2 492.5 330.2 500.6 333.6 499.4 330.5 502.9 330.1ZM546.2 328.1 543.8 328.4 544.2 325.1 537.2 330.2 545.2 333.5 544 330.4 546.4 330.1ZM589.5 328.1 587.6 328.6 587.6 325.3 581.3 331.3 589.7 333.5 588.1 330.6 590 330.1ZM24.2 371.4 23.5 371.4 24.4 368.4 17.2 372 24 376.2 23.4 373.2 24.1 373.2ZM67.7 371.3 65.7 371.3 66.5 368.1 59 372.5 66.6 376.5 65.8 373.3 67.7 373.3ZM111.2 371.3 105.5 371.5 106.2 368.2 98.7 372.6 106.5 376.6 105.6 373.5 111.2 373.3ZM154.8 371.3 148.1 370.9 149.1 367.8 141.2 371.5 148.6 376.1 148 372.9 154.6 373.3ZM198.1 371.3 192.3 372.2 192.6 368.9 185.8 374.2 193.9 377.2 192.6 374.2 198.4 373.3ZM241.5 371.3 235.7 372.5 235.8 369.2 229.3 374.9 237.6 377.5 236.1 374.5 241.9 373.3ZM285.1 371.3 278.7 372.4 279 369.1 272.2 374.4 280.4 377.4 279.1 374.3 285.4 373.3ZM328.6 371.3 321.6 372.4 321.9 369.1 315.1 374.4 323.2 377.4 321.9 374.3 328.9 373.3ZM372.2 371.3 365.2 371.3 365.9 368.1 358.4 372.3 366 376.5 365.2 373.3 372.2 373.3ZM415.8 371.3 409.6 371 410.6 367.8 402.8 371.7 410.2 376.2 409.5 373 415.7 373.3ZM459.4 371.3 455.3 370.9 456.4 367.8 448.4 371.3 455.6 376.2 455.1 372.9 459.2 373.3ZM502.7 371.3 501.1 371.4 501.8 368.1 494.3 372.6 502.1 376.5 501.2 373.4 502.8 373.3ZM546.2 371.3 545.4 371.4 546 368.2 538.8 372.9 546.6 376.4 545.6 373.4 546.4 373.3ZM589.6 371.4 588.9 371.5 589 368.4 582.8 373.7 590.6 376.2 589.2 373.4 590 373.2ZM24.2 414.9 23.7 414.8 24.4 412.8 19.3 415.1 23.9 418.2 23.6 416.1 24.1 416.2ZM67.5 414.8 66.9 414.9 67 412.4 61.9 416.8 68.4 418.7 67.2 416.4 67.9 416.3ZM111 414.5 109.6 414.8 109.9 411.5 103 416.8 111.2 419.8 109.9 416.7 111.3 416.5ZM154.7 414.5 151.8 414.5 152.6 411.3 145 415.5 152.6 419.7 151.8 416.5 154.7 416.5ZM198.1 414.5 194.1 415.1 194.4 411.8 187.5 417.1 195.6 420.2 194.3 417.1 198.4 416.5ZM241.6 414.5 238.7 415 239 411.7 232.2 417.1 240.4 420 239.1 417 241.9 416.5ZM285.1 414.5 283 414.8 283.4 411.5 276.4 416.6 284.4 419.8 283.2 416.8 285.3 416.5ZM328.7 414.6 327.9 414.6 328.5 411.5 321.5 416 329 419.5 328 416.5 328.8 416.5ZM372.3 414.8 371.7 414.8 372.4 412.4 366.6 415.3 372.1 418.6 371.6 416.2 372.2 416.3ZM415.9 414.9 415.3 414.8 416.2 412.8 410.8 414.8 415.3 418.2 415.1 416.1 415.7 416.2ZM459.5 414.8 458.9 414.6 460.2 412.6 453.9 413.7 458.3 418.5 458.5 416 459 416.2ZM502.8 414.8 502.2 414.7 502.9 412.3 497 415.4 502.7 418.7 502.1 416.3 502.8 416.3ZM546.3 414.8 545.7 414.9 546.2 412.7 541.1 415.7 546.4 418.4 545.8 416.2 546.3 416.2ZM589.7 414.9 589.2 415 589.4 412.8 584.9 416.2 590.2 418.2 589.4 416.2 589.9 416.2Z"/>
<path id="arr1" fill="#4682b4" d="M9.4 5.7 9.5 5.9 8.6 6.1 10.7 7.4 10.7 5 10 5.6 9.9 5.4ZM38.4 5.7 38.6 5.9 37.7 6.3 40 7.3 39.6 4.8 39 5.5 38.9 5.4ZM67.5 5.8 67.7 5.9 66.8 6.5 69.5 7.1 68.6 4.5 68.1 5.5 67.9 5.3ZM96.5 5.9 96.8 6 95.9 7 99.3 7 97.5 4.1 97.2 5.3 96.9 5.2ZM125.5 6.1 125.9 6.2 124.9 7.8 129.8 7 126.5 3.2 126.3 5.1 125.9 5ZM154.4 6.4 155.1 6.7 153.4 9.3 161.6 7.9 156 1.7 155.7 4.9 155 4.6ZM183.6 6.5 186 6.8 184.9 9.9 192.9 6.5 185.8 1.5 186.2 4.8 183.8 4.5ZM212.8 6.5 217.2 6.3 216.6 9.5 223.9 4.9 216.1 1.1 217.1 4.3 212.7 4.5ZM241.8 6.5 247.6 6 247.1 9.3 254.3 4.4 246.4 0.9 247.4 4 241.6 4.5ZM270.8 6.5 276.6 5.8 276.2 9.1 283.2 4 275.2 0.8 276.4 3.8 270.6 4.5ZM300.4 6.2 307.1 -0.4 308.8 2.4 311.2 -5.9 302.8 -3.5 305.7 -1.8 299 4.8ZM329.5 6.2 337.8 -3 339.6 -0.3 341.6 -8.7 333.4 -5.9 336.3 -4.3 328 4.9ZM357.6 6.5 366.4 8.2 365 11.2 373.3 8.5 366.6 2.9 366.8 6.2 357.9 4.5ZM386.2 6.3 393.7 11.8 391.2 13.9 399.8 15 396.1 7.1 394.9 10.2 387.3 4.7ZM415.6 6.5 420.9 7.2 419.7 10.3 427.7 7.1 420.7 1.9 421.1 5.2 415.9 4.5ZM444.8 6.5 454.3 6 453.7 9.3 461.1 4.7 453.3 0.9 454.2 4.1 444.7 4.5ZM473.9 6.5 486.6 5.3 486.2 8.5 493.3 3.6 485.3 0.2 486.4 3.3 473.7 4.5ZM502.9 6.5 517.9 4.4 517.5 7.7 524.5 2.5 516.4 -0.6 517.6 2.4 502.6 4.5ZM531.9 6.5 550.9 3.6 550.6 6.8 557.5 1.5 549.3 -1.5 550.6 1.6 531.6 4.5ZM560.9 6.5 584.4 3 584.1 6.3 591 1.1 582.8 -2 584.1 1.1 560.6 4.5ZM589.9 6.5 614 3.1 613.6 6.4 620.6 1.2 612.5 -1.9 613.7 1.2 589.7 4.5ZM618.9 6.5 643 3.1 642.6 6.4 649.6 1.2 641.5 -1.9 642.7 1.2 618.7 4.5ZM9.2 27.7 9.5 28 7.9 28.6 11.7 30.6 11.4 26.3 10.3 27.5 10.1 27.1ZM38.3 27.8 38.6 28 37.2 28.8 41.2 30 40.1 26 39.3 27.4 39 27.1ZM67.4 27.9 67.8 28.1 66.7 29.4 71.2 29.3 68.7 25.5 68.3 27.1 67.9 27ZM96.6 28.1 97.1 28.2 96.2 30.2 101.8 28.4 97.2 24.6 97.3 26.9 96.8 26.8ZM125.6 28.4 126.4 28.5 125.3 31.5 133.1 28.2 126.1 23.3 126.6 26.5 125.8 26.5ZM154.6 28.4 160 28.8 159 31.9 166.9 28.2 159.5 23.5 160.1 26.8 154.8 26.4ZM183.8 28.4 195 27.8 194.4 31 201.7 26.4 193.9 22.6 194.9 25.8 183.6 26.4ZM212.8 28.4 230 26.4 229.5 29.7 236.6 24.7 228.6 21.4 229.7 24.5 212.6 26.4ZM241.8 28.4 264.5 25.6 264.1 28.9 271.1 23.7 263.1 20.5 264.3 23.6 241.6 26.4ZM270.9 28.4 296.7 24.9 296.3 28.2 303.3 23 295.2 19.9 296.4 22.9 270.6 26.4ZM300.1 28.3 325.6 17.2 326.1 20.4 331.4 13.5 322.7 12.7 324.8 15.3 299.3 26.5ZM329.3 28.3 347.5 16.6 348.5 19.7 352.7 12.1 344 12.7 346.4 14.9 328.2 26.6ZM357.7 28.4 374.8 29.8 373.7 32.9 381.7 29.3 374.4 24.5 375 27.8 357.8 26.4ZM386.5 28.4 408.8 33.7 407.3 36.7 415.7 34.3 409.3 28.5 409.3 31.8 387 26.4ZM415.9 28.4 440 26.1 439.5 29.4 446.6 24.5 438.7 21 439.8 24.1 415.7 26.4ZM445 28.4 469.4 23.4 469.2 26.7 475.8 21.1 467.6 18.5 469 21.5 444.6 26.4ZM474 28.4 499.1 23.1 498.9 26.4 505.5 20.7 497.2 18.2 498.6 21.1 473.6 26.4ZM502.9 28.4 526.8 24.4 526.6 27.6 533.4 22.2 525.2 19.4 526.5 22.4 502.6 26.4ZM531.9 28.4 552.5 25 552.2 28.3 559.1 22.9 550.9 20 552.2 23 531.6 26.4ZM560.9 28.4 579 25.7 578.7 29 585.6 23.7 577.5 20.7 578.7 23.7 560.6 26.4ZM589.9 28.4 607.8 25.9 607.4 29.2 614.4 24 606.3 20.9 607.5 23.9 589.7 26.4ZM618.9 28.4 636.8 25.9 636.4 29.2 643.4 24 635.3 20.9 636.5 23.9 618.7 26.4ZM9.5 50.3 15.2 51.5 13.8 54.5 22.1 51.9 15.5 46.2 15.6 49.5 9.9 48.3ZM38.6 50.3 46.5 51.2 45.4 54.3 53.4 50.9 46.3 45.9 46.7 49.2 38.8 48.3ZM67.7 50.3 78 50.6 77.1 53.8 84.8 49.8 77.4 45.4 78.1 48.6 67.7 48.3ZM96.7 50.3 110.1 50.3 109.3 53.5 116.9 49.3 109.3 45.1 110.1 48.3 96.7 48.3ZM125.8 50.3 141.1 48.3 140.7 51.5 147.7 46.4 139.6 43.2 140.8 46.3 125.6 48.3ZM155 50.3 175.7 44.8 175.7 48.1 182 42.1 173.6 40 175.2 42.9 154.4 48.4ZM183.9 50.3 214.5 43.1 214.4 46.4 220.9 40.6 212.5 38.3 214 41.2 183.5 48.3ZM212.9 50.3 247.1 43.4 247 46.7 253.6 41.1 245.3 38.5 246.7 41.5 212.5 48.3ZM241.9 50.3 276 43.5 275.8 46.8 282.4 41.2 274.2 38.5 275.6 41.5 241.5 48.3ZM270.9 50.3 303.6 43.4 303.5 46.7 310 41 301.7 38.4 303.2 41.4 270.5 48.3ZM300 50.3 331.6 41.8 331.7 45.1 337.9 39 329.5 37 331.1 39.8 299.5 48.4ZM329 50.3 359.3 42.7 359.3 46 365.7 40.1 357.3 37.8 358.8 40.8 328.5 48.3ZM357.8 50.3 388.9 47.9 388.3 51.2 395.6 46.4 387.7 42.8 388.7 46 357.7 48.3ZM386.8 50.3 422.1 50 421.3 53.2 428.9 49 421.3 44.8 422.1 48 386.7 48.3ZM415.8 50.3 451 47.3 450.5 50.6 457.7 45.8 449.8 42.2 450.9 45.4 415.7 48.3ZM444.9 50.3 474.4 47.3 473.9 50.5 481.1 45.6 473.1 42.2 474.2 45.3 444.7 48.3ZM473.9 50.3 498.6 47.6 498.1 50.9 505.2 45.9 497.2 42.5 498.3 45.6 473.7 48.3ZM502.9 50.3 524.6 47.8 524.2 51.1 531.2 46.1 523.2 42.7 524.4 45.8 502.7 48.3ZM531.9 50.3 552.7 47.8 552.3 51 559.3 45.9 551.3 42.7 552.5 45.8 531.7 48.3ZM560.9 50.3 581.4 47.8 581 51.1 588.1 46 580 42.8 581.2 45.9 560.7 48.3ZM589.9 50.3 609.5 48.1 609.1 51.4 616.2 46.3 608.2 43 609.3 46.1 589.7 48.3ZM618.9 50.3 636.8 48.4 636.4 51.7 643.5 46.7 635.5 43.3 636.6 46.4 618.7 48.3ZM9.8 72.2 16.1 71.5 15.7 74.8 22.8 69.7 14.7 66.4 15.9 69.5 9.6 70.2ZM38.8 72.2 52.4 70.5 52 73.8 59.1 68.7 51 65.5 52.2 68.5 38.6 70.2ZM67.8 72.2 86.7 69.8 86.3 73.1 93.3 68 85.2 64.8 86.4 67.8 67.6 70.2ZM96.8 72.2 119 69.4 118.6 72.7 125.6 67.6 117.5 64.4 118.7 67.5 96.6 70.2ZM125.8 72.2 149.9 68.7 149.6 72 156.5 66.8 148.4 63.7 149.6 66.8 125.6 70.2ZM155 72.2 176.7 65.6 176.8 68.9 182.9 62.7 174.4 60.9 176.1 63.7 154.4 70.3ZM184 72.2 202.5 66 202.8 69.3 208.7 62.9 200.1 61.3 201.9 64.1 183.4 70.3ZM213 72.2 230.9 66.9 231 70.2 237.1 64 228.6 62.1 230.3 65 212.4 70.3ZM242 72.2 260.8 66.7 260.9 70 267.1 63.9 258.6 62 260.2 64.8 241.4 70.3ZM271 72.2 291.1 66.4 291.2 69.7 297.4 63.6 288.9 61.6 290.6 64.5 270.4 70.3ZM300.1 72.2 320.7 65.2 320.9 68.5 326.8 62.1 318.3 60.5 320 63.3 299.4 70.3ZM329 72.2 349.7 66.2 349.8 69.5 356 63.4 347.5 61.4 349.2 64.3 328.5 70.3ZM357.9 72.2 380.8 69.1 380.5 72.4 387.4 67.2 379.3 64.1 380.6 67.1 357.6 70.2ZM386.9 72.2 415.2 68.7 414.8 71.9 421.8 66.8 413.8 63.6 414.9 66.7 386.6 70.2ZM415.9 72.2 451 68 450.6 71.3 457.6 66.2 449.6 62.9 450.8 66 415.6 70.2ZM444.8 72.2 483.3 71.2 482.6 74.4 490.1 70 482.4 66 483.3 69.2 444.7 70.2ZM473.8 72.2 510 71.4 509.3 74.6 516.8 70.2 509.1 66.2 510 69.4 473.7 70.2ZM502.9 72.2 536.6 67.6 536.2 70.9 543.2 65.7 535.1 62.6 536.3 65.7 502.6 70.2ZM531.9 72.2 563.4 67.1 563.1 70.4 569.9 65 561.7 62.1 563 65.1 531.6 70.2ZM560.9 72.2 589.3 67.8 589 71.1 595.8 65.8 587.7 62.8 589 65.9 560.6 70.2ZM589.9 72.2 618 69.2 617.6 72.5 624.7 67.5 616.7 64.1 617.8 67.2 589.7 70.2ZM618.9 72.2 647.8 70.2 647.2 73.4 654.5 68.7 646.6 65 647.6 68.2 618.7 70.2ZM10 94.1 19.2 91.3 19.4 94.5 25.4 88.3 16.9 86.5 18.6 89.3 9.4 92.2ZM39 94.1 44 92.4 44.3 95.7 50.2 89.4 41.7 87.7 43.4 90.5 38.4 92.2ZM68 94.1 72.2 92.9 72.3 96.1 78.5 90 70 88.1 71.7 90.9 67.4 92.2ZM96.9 94.1 104 92.6 103.9 95.9 110.5 90.3 102.2 87.7 103.6 90.7 96.5 92.1ZM125.9 94.1 137.3 91.4 137.2 94.7 143.7 88.9 135.3 86.6 136.8 89.5 125.5 92.1ZM155 94.1 170.8 88.9 171.1 92.2 177 85.8 168.5 84.2 170.2 87 154.4 92.2ZM184 94.1 203.3 87.9 203.5 91.2 209.5 84.9 200.9 83.2 202.7 86 183.4 92.2ZM213 94.1 234.6 87.5 234.8 90.8 240.8 84.5 232.3 82.7 234 85.5 212.4 92.2ZM242 94.1 264.5 87.1 264.7 90.4 270.7 84.2 262.2 82.4 263.9 85.2 241.4 92.2ZM271 94.1 293.8 87.1 293.9 90.4 300 84.2 291.5 82.4 293.2 85.2 270.4 92.2ZM300 94.1 323.1 86.9 323.3 90.2 329.3 84 320.8 82.2 322.5 85 299.4 92.2ZM329 94.1 352 87.3 352.2 90.6 358.3 84.5 349.8 82.6 351.5 85.4 328.5 92.2ZM358 94.1 383.1 87.9 383.1 91.2 389.5 85.3 381.1 83 382.6 85.9 357.5 92.1ZM387 94.1 416 87.8 415.9 91.1 422.4 85.4 414.1 82.9 415.5 85.8 386.5 92.1ZM415.9 94.1 447.4 89.5 447.1 92.8 454 87.6 445.9 84.5 447.1 87.5 415.6 92.1ZM444.8 94.1 476.4 93.2 475.7 96.4 483.1 92 475.4 88 476.3 91.2 444.7 92.1ZM473.8 94.1 504.4 93.9 503.6 97.1 511.2 92.8 503.6 88.7 504.4 91.9 473.8 92.1ZM502.9 94.1 532.5 91.5 532 94.7 539.2 89.9 531.2 86.4 532.3 89.5 502.7 92.1ZM531.9 94.1 561.5 90.7 561.1 94 568.1 89 560.1 85.6 561.3 88.7 531.7 92.1ZM560.9 94.1 590.6 90.9 590.1 94.2 597.2 89.2 589.2 85.8 590.3 88.9 560.7 92.1ZM589.9 94.1 618.8 91.7 618.3 95 625.5 90.2 617.6 86.6 618.7 89.8 589.7 92.1ZM618.9 94.1 645.4 92.6 644.8 95.8 652.1 91.2 644.3 87.4 645.3 90.6 618.7 92.1ZM10 115.8 10.6 115.5 11 118.3 15.7 112.6 8.4 111.7 10 114 9.4 114.2ZM39.1 115.9 39.8 115.6 40.3 118.8 45.6 112 37 111.2 39 113.8 38.3 114.1ZM68.1 115.9 70.4 115 70.9 118.2 76.3 111.5 67.7 110.5 69.6 113.1 67.3 114.1ZM97.1 115.9 102 113.9 102.5 117.2 107.9 110.5 99.3 109.4 101.3 112.1 96.3 114.1ZM126 115.9 134.2 112.9 134.5 116.2 140.2 109.6 131.6 108.3 133.5 111 125.3 114.1ZM155.1 115.9 163.1 112.7 163.6 116 169.1 109.2 160.5 108.2 162.4 110.8 154.3 114.1ZM184.1 115.9 192.6 112 193.2 115.2 198.3 108.2 189.7 107.6 191.7 110.2 183.3 114.1ZM213.2 115.9 224.7 110.1 225.5 113.3 230.4 106.1 221.7 105.8 223.8 108.3 212.3 114.1ZM242.1 115.9 259.7 108.1 260.2 111.3 265.5 104.4 256.8 103.6 258.9 106.2 241.3 114.1ZM271.1 115.9 293.6 107.7 294 110.9 299.6 104.4 291.1 103 292.9 105.8 270.4 114.1ZM300 116 325.1 108.2 325.3 111.5 331.3 105.3 322.8 103.5 324.5 106.3 299.4 114.1ZM329 116 355.1 108.5 355.2 111.8 361.3 105.7 352.9 103.7 354.5 106.6 328.5 114ZM358 116 384.2 108 384.3 111.3 390.4 105.1 381.9 103.3 383.6 106.1 357.5 114.1ZM387 116 412.6 108.4 412.7 111.7 418.8 105.6 410.4 103.7 412 106.5 386.5 114ZM415.9 116 441.4 112.1 441.1 115.4 448 110 439.8 107.1 441.1 110.1 415.6 114ZM444.8 116 472.6 115.6 471.9 118.8 479.4 114.5 471.8 110.5 472.6 113.6 444.7 114ZM473.8 116 505.1 116 504.3 119.2 511.9 114.9 504.3 110.8 505.1 114 473.8 114ZM502.9 116 535 113.4 534.4 116.7 541.7 111.9 533.8 108.3 534.8 111.4 502.7 114ZM531.9 116 562.7 112.7 562.2 116 569.3 111 561.3 107.6 562.4 110.7 531.7 114ZM560.9 116 590 113.3 589.5 116.6 596.7 111.7 588.7 108.2 589.8 111.4 560.7 114ZM589.8 116 615.2 115.3 614.5 118.6 621.9 114.2 614.2 110.2 615.1 113.3 589.8 114ZM618.7 116 635.5 117.3 634.5 120.4 642.4 116.8 635.1 112.1 635.7 115.3 618.9 114ZM10 137.5 10.5 137.3 11 139.4 14.2 134.6 8.4 134.4 9.8 136.1 9.4 136.3ZM39 137.7 39.6 137.4 40.1 140.1 44.4 134.2 37.2 133.7 38.9 135.9 38.3 136.2ZM68.1 137.7 68.7 137.4 69.3 140.3 73.9 134.1 66.1 133.5 68 135.8 67.3 136.1ZM97.1 137.7 97.7 137.4 98.3 140.1 102.5 134 95.1 133.7 96.9 135.8 96.3 136.1ZM126.1 137.5 126.6 137.2 127.4 139.5 130.4 133.8 124 134.3 125.8 136 125.3 136.3ZM155.2 137.7 155.8 137.3 156.8 140.2 160.6 133.1 152.6 133.7 154.8 135.7 154.2 136.1ZM184.2 137.8 190.1 134.5 191 137.7 195.6 130.3 186.9 130.3 189.2 132.7 183.2 136ZM213.3 137.7 224.5 130 225.7 133.1 229.6 125.4 221 126.2 223.4 128.4 212.1 136.1ZM242.3 137.7 255.2 127.9 256.5 130.9 260 123 251.4 124.2 254 126.3 241.1 136.1ZM271.2 137.8 282.4 131 283.3 134.1 287.6 126.6 279 126.9 281.3 129.3 270.2 136.1ZM300 137.9 310.6 134.4 310.9 137.7 316.8 131.4 308.3 129.7 310 132.5 299.4 136ZM329 137.9 339.4 134.8 339.5 138.1 345.6 131.9 337.1 130.1 338.8 132.9 328.5 135.9ZM358.2 137.8 370.1 132.1 370.7 135.3 375.7 128.2 367.1 127.7 369.2 130.3 357.3 136ZM387.2 137.8 405.7 129.6 406.3 132.9 411.6 126 402.9 125.2 404.9 127.8 386.3 136ZM415.9 137.9 440 133.9 439.7 137.2 446.5 131.8 438.3 128.9 439.6 131.9 415.6 135.9ZM444.7 137.9 468.1 138.2 467.3 141.4 474.9 137.3 467.4 133 468.1 136.2 444.8 135.9ZM473.7 137.9 493.5 139.4 492.5 142.6 500.4 139 493.1 134.2 493.7 137.4 473.8 135.9ZM502.8 137.9 517.6 137.9 516.8 141.1 524.4 136.9 516.8 132.7 517.6 135.9 502.8 135.9ZM531.8 137.9 542.4 137.5 541.7 140.7 549.1 136.2 541.4 132.3 542.3 135.5 531.7 135.9ZM560.7 137.9 567.1 138.3 566.1 141.5 574 137.8 566.7 133.1 567.3 136.3 560.9 135.9ZM589.2 137.7 593.1 140.6 590.6 142.7 599.2 143.9 595.6 136 594.3 139 590.4 136.1ZM618 137.6 623.5 144 620.6 145.5 628.7 148.6 627 140 625 142.7 619.6 136.3ZM10.2 159.6 10.9 159.2 12 162.2 15.8 154.6 7.4 155.4 9.8 157.6 9.1 158ZM39.2 159.6 39.9 159.2 41 162.3 45.2 154.7 36.5 155.2 38.9 157.5 38.1 158ZM68.2 159.7 69.1 159.1 70.1 162.3 74.5 154.8 65.8 155 68.1 157.4 67.2 157.9ZM97.1 159.7 98.2 159.2 98.9 162.4 103.8 155.2 95.1 154.9 97.3 157.4 96.2 157.9ZM126.2 159.6 127.7 158.7 128.8 161.8 132.9 154.2 124.2 154.8 126.6 157 125.2 158ZM155.4 159.5 157.5 157.7 159 160.6 161.9 152.4 153.4 154.3 156.2 156.2 154 158.1ZM184.4 159.5 188.3 156 189.9 158.9 192.6 150.6 184.2 152.7 186.9 154.5 183 158.1ZM213.4 159.5 218.7 154.3 220.4 157.2 222.9 148.9 214.5 151.2 217.3 152.9 212 158.1ZM242.4 159.5 248.2 153.5 249.9 156.3 252.1 147.9 243.9 150.5 246.7 152.1 241 158.1ZM271.4 159.5 276.1 154.8 277.8 157.6 280.2 149.3 271.9 151.7 274.7 153.4 270 158.1ZM300.4 159.6 304 156.5 305.5 159.5 308.6 151.4 300.1 153 302.8 155 299.1 158ZM329.4 159.6 332.7 157 334 160 337.4 152 328.9 153.4 331.5 155.4 328.1 158ZM358.6 159.3 360 156.9 362.4 159.2 362.6 150.5 355.1 154.9 358.3 155.9 356.9 158.3ZM387.5 158.2 386.2 156.5 389.2 155.1 381.2 151.9 382.7 160.4 384.6 157.8 386 159.4ZM415.7 157.8 410.8 158.2 411.4 154.9 404.1 159.7 412 163.3 410.9 160.2 415.8 159.8ZM444.3 157.9 440.9 159.9 440 156.7 435.6 164.2 444.3 164 442 161.6 445.3 159.7ZM472.9 158.2 472.1 159.5 469.9 157.1 469.1 165.7 476.8 161.8 473.7 160.7 474.6 159.4ZM501.9 158.6 501.8 159.3 499.2 157.9 501.1 165.2 506.3 159.7 503.4 159.7 503.6 159ZM530.9 158.3 529.3 161.4 526.8 159.3 527.1 168 534.3 163.1 531.1 162.4 532.7 159.3ZM560.1 158.1 555.3 163 553.5 160.2 551.2 168.6 559.5 166.1 556.7 164.4 561.5 159.5ZM589 158.2 586.7 161.2 584.6 158.7 583.4 167.3 591.3 163.8 588.3 162.5 590.6 159.4ZM617.9 159.2 618.2 159.9 615 160.5 621.9 165.6 622.6 157.1 620 159.1 619.7 158.4ZM10.4 181.4 12.6 179.3 14.3 182.1 16.8 173.8 8.4 176.1 11.2 177.8 9 180ZM39.3 181.5 42.8 178.9 44.1 181.9 47.7 174 39.1 175.2 41.7 177.2 38.1 179.9ZM68.2 181.5 72.8 178.7 73.8 181.8 78 174.3 69.4 174.7 71.7 177 67.2 179.8ZM97.1 181.6 102.2 179.1 102.9 182.3 107.8 175.1 99.1 174.8 101.3 177.3 96.2 179.8ZM126.2 181.5 131.6 178.1 132.7 181.2 136.8 173.6 128.2 174.1 130.6 176.4 125.2 179.9ZM155.3 181.5 162.3 175.5 163.8 178.5 166.8 170.4 158.3 172.1 161 174 154.1 179.9ZM184.3 181.5 191.8 175.9 193.1 178.9 196.7 171 188.1 172.2 190.6 174.3 183.1 179.9ZM213.4 181.4 217 178.1 218.6 181 221.3 172.7 212.9 174.8 215.7 176.6 212 180ZM242.5 180.9 242.7 180.2 245.2 181.5 243.2 174.4 238.2 179.9 241.1 179.8 240.9 180.5ZM271.2 179.9 270.5 179.5 272.6 177.3 264.5 177.3 268.8 184.1 269.6 181.2 270.3 181.5ZM299.8 179.7 293.6 179.6 294.4 176.4 286.8 180.4 294.3 184.8 293.5 181.6 299.7 181.7ZM328.7 179.7 317.1 180.1 317.8 176.9 310.4 181.4 318.1 185.3 317.2 182.1 328.8 181.7ZM357.8 179.7 339.8 178.6 340.8 175.4 333 179.2 340.3 183.8 339.7 180.6 357.7 181.7ZM386.8 179.7 363.5 178 364.6 174.8 356.7 178.4 364 183.2 363.4 180 386.7 181.7ZM415.6 179.7 390.9 182.6 391.3 179.3 384.3 184.4 392.3 187.7 391.1 184.6 415.9 181.7ZM444.6 179.7 423.1 183.7 423.3 180.4 416.6 186 424.9 188.7 423.5 185.7 444.9 181.7ZM473.5 179.7 460.3 183.1 460.3 179.8 454 185.8 462.4 188 460.8 185.1 474 181.7ZM502.3 179.8 499 181.4 498.3 178.2 493.3 185.3 502 185.7 499.9 183.2 503.2 181.6ZM530.9 180.2 528.5 184.6 526.1 182.4 526.2 191.1 533.5 186.4 530.3 185.6 532.7 181.2ZM560 180 556.1 184.5 554.2 181.8 552.4 190.3 560.6 187.3 557.6 185.8 561.5 181.4ZM589.1 180 587.5 181.5 585.9 178.6 583.2 186.9 591.6 184.7 588.9 182.9 590.5 181.4ZM618.2 180.3 617.9 180.7 616.4 178.9 615.5 185 621.2 182.5 619 181.6 619.4 181.1ZM10.4 203.3 14.7 198.8 16.4 201.6 18.6 193.2 10.3 195.8 13.2 197.4 8.9 201.9ZM39.3 203.4 45.8 198.6 47 201.7 50.6 193.8 42 194.9 44.6 197 38.1 201.8ZM68.2 203.5 75.6 199 76.5 202.2 80.9 194.7 72.2 195 74.5 197.3 67.2 201.7ZM97.1 203.5 103.9 200.1 104.6 203.3 109.5 196.1 100.8 195.8 103 198.3 96.2 201.7ZM126.2 203.4 131.1 200.4 132.1 203.5 136.3 195.9 127.6 196.4 130 198.7 125.2 201.7ZM155.5 203.2 156.3 201.9 158.6 204.4 159.3 195.7 151.6 199.7 154.7 200.8 153.9 202ZM184.3 202.2 183.9 201.7 186.2 200.8 180.4 198.1 181.2 204.4 182.8 202.6 183.1 203ZM212.9 201.6 208.2 200.5 209.7 197.6 201.4 200 207.8 205.8 207.8 202.5 212.5 203.6ZM241.8 201.6 228.6 201.1 229.5 198 221.8 201.9 229.2 206.4 228.5 203.1 241.7 203.6ZM270.6 201.6 251.6 203.1 252.1 199.9 244.9 204.7 252.8 208.3 251.8 205.1 270.8 203.6ZM299.5 201.6 278.1 205.7 278.3 202.4 271.6 207.9 279.9 210.6 278.5 207.6 299.9 203.6ZM328.6 201.6 298.7 207.3 298.9 204 292.2 209.5 300.4 212.2 299.1 209.2 328.9 203.6ZM357.7 201.6 324.3 204.3 324.8 201.1 317.6 205.9 325.5 209.5 324.5 206.3 357.8 203.6ZM386.7 201.6 353.9 201.6 354.7 198.4 347.1 202.6 354.7 206.8 353.9 203.6 386.8 203.6ZM415.7 201.6 387.1 203.4 387.7 200.1 380.4 204.8 388.2 208.5 387.2 205.3 415.8 203.6ZM444.7 201.6 423.4 203 424 199.7 416.7 204.4 424.5 208.1 423.5 204.9 444.8 203.6ZM473.7 201.6 459.6 202.6 460.2 199.4 452.9 204.1 460.8 207.8 459.8 204.6 473.8 203.6ZM502.6 201.6 491.9 203.4 492.2 200.1 485.4 205.4 493.6 208.4 492.3 205.3 502.9 203.6ZM531.2 201.8 522.2 208.7 520.9 205.7 517.4 213.6 526 212.3 523.4 210.3 532.4 203.4ZM560.1 201.8 554.8 206.2 553.4 203.3 550.2 211.4 558.8 209.7 556.1 207.8 561.4 203.4ZM589.3 201.8 588.4 202.3 587.3 199.2 583.2 206.8 591.8 206.3 589.4 204 590.3 203.4ZM618.5 202.2 618.2 202.4 617.6 200.9 615.7 204.7 620 204.3 618.8 203.2 619.1 203ZM10.6 224.8 12.1 220.2 14.9 221.9 13.1 213.4 6.8 219.4 10.1 219.6 8.7 224.2ZM39.6 224.9 40.8 222.1 43.4 224.2 42.6 215.5 35.7 220.8 38.9 221.4 37.8 224.1ZM68.5 225 69 224.4 71.2 226.8 71.9 218.2 64.2 222.2 67.3 223.3 66.9 223.9ZM97.3 225.3 97.9 224.8 99.2 227.8 102.6 219.9 94.2 221.2 96.7 223.2 96.1 223.7ZM126 225.1 126.5 224.8 127.2 227 130.3 221.8 124.2 221.9 125.8 223.6 125.3 223.9ZM154.8 223.5 153.7 223.4 154.7 220.3 146.8 223.9 154.1 228.7 153.5 225.4 154.6 225.5ZM183.6 223.5 172 224.7 172.5 221.5 165.4 226.5 173.4 229.8 172.2 226.7 183.8 225.5ZM212.6 223.5 197.9 225.5 198.3 222.3 191.3 227.5 199.4 230.6 198.2 227.5 212.8 225.5ZM241.6 223.5 224.2 226 224.6 222.7 217.6 227.9 225.8 231 224.5 227.9 241.9 225.5ZM270.6 223.5 250.4 226.4 250.7 223.2 243.8 228.4 251.9 231.5 250.7 228.4 270.9 225.5ZM299.4 223.5 278 229.9 277.8 226.6 271.7 232.8 280.2 234.6 278.5 231.8 300 225.5ZM328.4 223.6 311.3 229.9 311 226.6 305.3 233.2 313.9 234.5 312 231.7 329.1 225.4ZM357.7 223.5 341.1 224.8 341.6 221.6 334.4 226.3 342.3 229.9 341.2 226.8 357.8 225.5ZM386.7 223.5 360.5 223.8 361.2 220.6 353.7 224.8 361.3 229 360.5 225.8 386.8 225.5ZM415.7 223.5 378.7 224.4 379.4 221.2 371.9 225.6 379.6 229.6 378.8 226.4 415.8 225.5ZM444.9 223.5 415.7 218.3 417.1 215.3 408.9 218.1 415.6 223.6 415.4 220.3 444.6 225.5ZM474.5 223.8 470.3 219.8 473.1 218 464.8 215.8 467.3 224.1 468.9 221.2 473.1 225.2ZM502.9 225.5 504 225.4 503.6 228.6 510.6 223.5 502.6 220.3 503.7 223.4 502.7 223.5ZM530.9 224.9 532.8 229.4 529.5 229.9 536.4 235.2 537.3 226.6 534.6 228.6 532.7 224.1ZM559.8 224.2 559.5 225.3 556.7 223.6 558.5 232.1 564.7 226.1 561.4 225.9 561.7 224.8ZM589.6 224.1 589.3 224.3 589 223 587.2 225.9 590.6 225.9 589.7 225 590 224.8ZM617.9 224.9 618 223.9 618.9 223.5 619.7 224.1 619.6 225.1 618.7 225.5ZM9.9 245.4 2.7 243.4 4.4 240.5 -4.1 242.5 2.1 248.6 2.2 245.3 9.4 247.4ZM38.8 245.4 24.2 243.2 25.5 240.1 17.3 243.1 24.2 248.4 23.9 245.1 38.5 247.4ZM67.8 245.4 50.8 243.1 52.1 240 44 243.2 50.9 248.3 50.6 245.1 67.5 247.4ZM97 245.4 84.1 241 85.9 238.2 77.3 239.8 83.1 246.2 83.4 242.9 96.4 247.3ZM125.6 245.4 122.5 245.5 123.1 242.3 115.7 246.9 123.5 250.7 122.6 247.5 125.7 247.4ZM154.4 245.4 143.8 248.5 143.7 245.2 137.6 251.4 146.1 253.3 144.4 250.4 155 247.3ZM183.5 245.4 160.6 250.4 160.7 247.1 154.2 252.8 162.5 255.3 161.1 252.3 183.9 247.4ZM212.5 245.4 186.3 250.1 186.5 246.8 179.7 252.3 188 255.1 186.6 252.1 212.9 247.4ZM241.5 245.4 214.8 250 215.1 246.7 208.3 252.2 216.5 255 215.2 252 241.9 247.4ZM270.6 245.4 245.3 249.8 245.5 246.5 238.8 252 247 254.8 245.7 251.8 270.9 247.4ZM299.5 245.4 278.4 249.6 278.6 246.3 272 251.9 280.2 254.5 278.8 251.6 299.9 247.4ZM328.5 245.4 315.2 248.1 315.4 244.8 308.8 250.4 317 253 315.6 250.1 328.9 247.4ZM357.7 245.4 347.5 245.6 348.2 242.4 340.7 246.8 348.4 250.8 347.5 247.6 357.8 247.4ZM387.3 245.5 385.1 244.2 387.4 241.9 378.7 241.6 383.1 249.1 384.1 246 386.2 247.2ZM416.7 246.8 417.2 245.6 419.8 247.6 419 238.9 412.1 244.2 415.4 244.8 414.8 246ZM445.8 246.4 446 238 449.2 238.9 445.2 231.2 440.8 238.7 444 238 443.8 246.4ZM474.4 245.6 466.8 238.8 469.6 236.9 461.1 235 464 243.2 465.5 240.3 473.1 247.1ZM502.6 245.4 490.3 247.2 490.6 243.9 483.7 249.2 491.9 252.3 490.6 249.2 502.9 247.4ZM531 245.8 524.1 255.7 521.9 253.2 521 261.8 528.8 258 525.7 256.8 532.6 247ZM559.8 246.1 558.9 248.6 556.2 246.8 557.6 255.3 564.1 249.6 560.8 249.3 561.7 246.7ZM589.6 245.7 589 245.8 589 243.4 584.5 247.9 590.6 249.3 589.4 247.2 590 247.1ZM618.6 245.5 617.9 245.6 618.1 242.6 611.9 247.6 619.5 250.2 618.2 247.4 619 247.3ZM9.9 267.3 3.6 265.7 5.2 262.8 -3.2 264.9 3.1 270.9 3.1 267.6 9.4 269.3ZM38.9 267.3 33 265.7 34.6 262.8 26.2 264.8 32.4 270.9 32.5 267.6 38.4 269.2ZM67.9 267.3 59 265.5 60.4 262.6 52.1 265.2 58.8 270.8 58.6 267.5 67.5 269.3ZM96.8 267.3 79.4 264.7 80.6 261.6 72.5 264.7 79.4 269.9 79.1 266.6 96.5 269.3ZM125.6 267.3 100 270.5 100.4 267.2 93.3 272.3 101.4 275.5 100.2 272.4 125.8 269.3ZM154.4 267.3 128.5 275.2 128.3 271.9 122.2 278.1 130.7 279.9 129 277.1 155 269.2ZM183.5 267.3 156.3 274.1 156.3 270.8 149.9 276.8 158.3 279 156.8 276.1 183.9 269.3ZM212.5 267.3 185.5 272.3 185.7 269 179 274.5 187.2 277.3 185.8 274.3 212.9 269.3ZM241.5 267.3 215 271.9 215.2 268.6 208.5 274 216.7 276.9 215.3 273.9 241.9 269.3ZM270.6 267.3 244.3 271.3 244.6 268 237.8 273.3 245.9 276.3 244.6 273.3 270.9 269.3ZM299.6 267.3 274.4 269.9 274.9 266.6 267.8 271.6 275.8 275 274.6 271.9 299.8 269.3ZM328.7 267.3 311.2 267.7 311.9 264.5 304.4 268.8 312.1 272.8 311.2 269.7 328.8 269.3ZM358 267.3 349.7 265.1 351.3 262.2 342.8 264.3 349.1 270.3 349.2 267 357.5 269.3ZM387.5 267.6 383.2 263.3 386 261.6 377.7 259.3 380.1 267.6 381.8 264.8 386 269ZM416.5 267.6 414 264.7 417 263.3 408.8 260.2 410.6 268.7 412.5 266 415 268.9ZM445.4 267.5 439 262.2 441.6 260.3 433.1 258.7 436.3 266.8 437.7 263.8 444.1 269.1ZM474 267.3 460.8 263.5 462.5 260.7 454 262.6 460.1 268.7 460.3 265.4 473.5 269.2ZM502.6 267.3 486.2 269.7 486.5 266.4 479.6 271.6 487.8 274.7 486.5 271.7 502.9 269.3ZM531.2 267.5 522.2 274.4 520.9 271.4 517.4 279.3 526 278 523.4 276 532.4 269.1ZM559.9 267.8 559.2 269 556.8 266.7 556.5 275.4 564 271 560.9 270.1 561.6 268.8ZM589.4 267.6 588.9 267.9 588.3 265.4 584.5 270.9 591.2 271.2 589.6 269.3 590.1 269ZM618.6 267.3 617.8 267.5 617.8 264.2 611.5 270.1 619.8 272.3 618.3 269.4 619 269.2ZM10 289.2 1.9 286.5 3.7 283.7 -4.8 285.2 1 291.7 1.3 288.4 9.3 291.1ZM38.9 289.2 32.9 287.6 34.5 284.7 26 286.8 32.3 292.8 32.4 289.5 38.4 291.1ZM67.7 289.2 58.4 289.1 59.2 285.9 51.6 290.1 59.2 294.3 58.4 291.1 67.7 291.2ZM96.6 289.2 76.2 291.3 76.7 288.1 69.6 293 77.6 296.4 76.4 293.3 96.8 291.2ZM125.6 289.2 98.7 293 99 289.7 92.1 295 100.2 298.1 99 295 125.8 291.2ZM154.4 289.2 135.1 294.5 135 291.2 128.8 297.2 137.2 299.3 135.6 296.4 155 291.1ZM183.4 289.2 174.9 291.6 174.8 288.3 168.7 294.4 177.1 296.4 175.5 293.5 184 291.1ZM212.5 289.2 205.6 290.4 205.8 287.1 199.1 292.6 207.3 295.4 205.9 292.4 212.9 291.2ZM241.6 289.2 234.9 290.3 235.2 287 228.3 292.4 236.5 295.3 235.2 292.3 241.9 291.2ZM270.6 289.2 264 290.2 264.3 286.9 257.4 292.2 265.5 295.2 264.3 292.2 270.9 291.2ZM299.7 289.2 292.6 289.3 293.3 286.1 285.8 290.4 293.4 294.5 292.6 291.3 299.7 291.2ZM328.8 289.2 318.7 288.2 319.8 285.1 311.8 288.5 319 293.4 318.5 290.2 328.6 291.2ZM357.9 289.2 343.5 286.3 344.9 283.3 336.6 286 343.2 291.6 343.1 288.3 357.5 291.2ZM387 289.2 365.5 283.7 367.1 280.8 358.7 283 365 288.9 365 285.6 386.5 291.2ZM415.9 289.2 390.4 285.7 391.6 282.6 383.5 285.7 390.5 290.9 390.1 287.6 415.6 291.2ZM444.9 289.2 420.1 284.7 421.5 281.7 413.3 284.4 420 289.9 419.8 286.6 444.6 291.2ZM473.9 289.2 452.6 286.6 453.8 283.5 445.7 286.7 452.8 291.8 452.4 288.5 473.6 291.2ZM502.6 289.2 484.1 291.7 484.5 288.5 477.5 293.7 485.7 296.8 484.4 293.7 502.9 291.2ZM531.4 289.2 516.3 294.9 515.9 291.6 510.3 298.2 518.9 299.5 517 296.8 532.1 291.1ZM560.4 289.3 550.7 293 550.3 289.8 544.8 296.4 553.4 297.6 551.5 294.9 561.2 291.1ZM589.5 289.2 583.8 290.8 583.7 287.5 577.5 293.6 586 295.6 584.3 292.8 590.1 291.1ZM618.6 289.2 615.8 289.8 615.9 286.5 609.4 292.4 617.8 294.7 616.3 291.8 619 291.2ZM9.8 311.1 -4.3 309.4 -3.1 306.4 -11.1 309.6 -4.1 314.7 -4.5 311.4 9.6 313.1ZM38.7 311.1 20.2 310.9 21 307.7 13.4 311.8 20.9 316.1 20.2 312.9 38.7 313.1ZM67.6 311.1 46.8 313.1 47.3 309.9 40.2 314.8 48.1 318.2 47 315.1 67.8 313.1ZM96.5 311.1 75.7 314 76.1 310.7 69.1 316 77.2 319.1 76 316 96.8 313.1ZM125.6 311.1 104.7 314 105.1 310.7 98.1 315.9 106.2 319 105 316 125.8 313.1ZM154.6 311.1 138 313.2 138.4 309.9 131.4 315 139.5 318.2 138.3 315.2 154.8 313.1ZM183.6 311.1 173.9 312.3 174.3 309.1 167.3 314.2 175.4 317.4 174.2 314.3 183.8 313.1ZM212.6 311.1 204.6 312.3 204.9 309 198 314.4 206.2 317.3 204.9 314.3 212.9 313.1ZM241.6 311.1 233.9 312.3 234.2 309.1 227.3 314.4 235.5 317.3 234.2 314.3 241.9 313.1ZM270.6 311.1 262.8 312.3 263.1 309 256.2 314.3 264.4 317.3 263.1 314.3 270.9 313.1ZM299.7 311.1 291.4 311.6 291.9 308.4 284.6 313.1 292.5 316.8 291.5 313.6 299.8 313.1ZM328.7 311.1 317.7 311 318.5 307.8 310.9 311.9 318.5 316.2 317.7 313 328.7 313.1ZM357.8 311.1 342.6 309.7 343.7 306.6 335.7 310.1 342.9 315 342.4 311.7 357.7 313.1ZM386.9 311.1 364.4 307.7 365.7 304.7 357.5 307.7 364.4 313 364.1 309.7 386.6 313.1ZM415.9 311.1 387.7 308.3 388.8 305.1 380.8 308.6 388 313.5 387.5 310.2 415.7 313.1ZM445 311.1 416.3 305.3 417.7 302.3 409.4 304.9 416 310.5 415.9 307.2 444.6 313.1ZM473.9 311.1 449.5 307 450.8 304 442.6 306.9 449.4 312.3 449.1 309 473.6 313.1ZM502.6 311.1 481.9 313.8 482.3 310.5 475.3 315.7 483.4 318.8 482.2 315.8 502.9 313.1ZM531.5 311.1 513.9 315.6 513.9 312.4 507.5 318.3 515.9 320.5 514.4 317.6 532 313ZM560.6 311.1 547.4 314 547.5 310.7 541 316.5 549.3 318.9 547.8 316 561 313.1ZM589.7 311.1 578.2 312.7 578.5 309.4 571.6 314.6 579.7 317.7 578.5 314.7 589.9 313.1ZM618.7 311.1 608.5 312.5 608.9 309.2 601.9 314.4 610 317.5 608.8 314.5 618.9 313.1ZM9.7 333 -0.4 333 0.4 329.8 -7.2 334.1 0.5 338.2 -0.4 335 9.7 335ZM38.6 333 24.8 333.8 25.4 330.6 18 335.2 25.9 339 24.9 335.8 38.7 335ZM67.6 333 51.7 334.9 52.1 331.6 45.1 336.7 53.1 339.9 51.9 336.9 67.8 335ZM96.5 333 80.6 335.2 80.9 332 74 337.2 82.1 340.3 80.9 337.2 96.8 335ZM125.6 333 109.6 335.1 109.9 331.9 103 337 111.1 340.2 109.8 337.1 125.8 335ZM154.7 333 142.2 332.7 143.1 329.5 135.4 333.5 142.9 337.9 142.1 334.7 154.7 335ZM183.7 333 177 333.1 177.8 329.9 170.3 334.3 177.9 338.3 177.1 335.1 183.7 335ZM212.6 333 206.7 333.8 207.1 330.6 200.2 335.8 208.3 338.9 207 335.8 212.9 335ZM241.6 333 236 333.8 236.3 330.5 229.4 335.8 237.6 338.8 236.3 335.8 241.9 335ZM270.6 333 265.3 333.8 265.6 330.5 258.7 335.7 266.8 338.8 265.6 335.7 270.9 335ZM299.6 333 294 333.6 294.5 330.3 287.4 335.4 295.4 338.7 294.3 335.6 299.8 335ZM328.7 333 320.9 333.6 321.5 330.3 314.2 335.1 322.1 338.7 321.1 335.6 328.8 335ZM357.8 333 347.4 332.8 348.3 329.6 340.6 333.7 348.1 338 347.4 334.8 357.7 335ZM387 333 378.7 331 380.2 328.1 371.8 330.4 378.2 336.3 378.2 333 386.5 334.9ZM416.1 333 411 331 412.9 328.3 404.3 329.5 409.8 336.2 410.3 332.9 415.4 334.9ZM445.3 333.1 438 328.2 440.5 326 431.8 325.3 435.8 333 436.9 329.9 444.2 334.8ZM474.1 333 464.3 329.1 466.3 326.5 457.6 327.5 463.1 334.3 463.6 331 473.4 334.9ZM502.7 333 492.4 334.2 492.8 331 485.8 336.1 493.8 339.3 492.6 336.2 502.9 335ZM531.5 333 521.6 335.4 521.6 332.1 515.2 338 523.6 340.3 522.1 337.4 532 334.9ZM560.6 333 550.9 334.9 551 331.6 544.4 337.2 552.7 339.9 551.3 336.9 561 335ZM589.7 333 580 334.3 580.4 331 573.4 336.2 581.5 339.3 580.3 336.3 589.9 335ZM618.7 333 609.7 333.9 610.1 330.6 603 335.6 611 339 609.9 335.9 618.9 335ZM9.6 354.9 6.5 355.1 7 351.9 -0.2 356.6 7.7 360.2 6.6 357.1 9.7 356.9ZM38.6 354.9 36.9 355 37.4 351.8 30.2 356.6 38.1 360.1 37 357 38.8 356.9ZM67.6 354.9 66.6 355 67 351.7 60 356.8 68 360.1 66.8 357 67.8 356.9ZM96.5 354.9 95.6 355 96 351.7 89.1 356.9 97.2 360 95.9 357 96.8 356.9ZM125.6 354.9 124.7 355 125.1 351.7 118 356.8 126.1 360.1 124.9 357 125.8 356.9ZM155 354.9 152.9 354.3 154.5 351.5 146.1 353.5 152.3 359.5 152.3 356.3 154.4 356.8ZM183.8 354.9 181.5 354.7 182.5 351.6 174.7 355.3 182 360 181.4 356.7 183.6 356.9ZM212.6 354.9 210.6 355.2 211 351.9 204 357.1 212.1 360.2 210.9 357.1 212.9 356.9ZM241.6 354.9 239.8 355.1 240.1 351.9 233.2 357.1 241.3 360.2 240.1 357.1 241.9 356.9ZM270.6 354.9 268.9 355.1 269.3 351.8 262.3 357.1 270.4 360.2 269.2 357.1 270.9 356.9ZM299.6 354.9 297.6 355.2 297.9 351.9 291 357.3 299.2 360.2 297.9 357.2 299.9 356.9ZM328.6 354.9 324.6 355.5 324.9 352.2 318.1 357.6 326.3 360.5 325 357.5 328.9 356.9ZM357.8 354.9 353.1 354.7 354 351.6 346.3 355.6 353.8 360 353.1 356.7 357.7 356.9ZM387.1 354.9 383.6 353.6 385.5 350.9 376.9 352.1 382.5 358.7 382.9 355.5 386.4 356.8ZM416.2 355 414.4 354.2 416.4 351.6 407.7 352.4 413 359.3 413.6 356 415.4 356.8ZM445.2 355 442.1 353.3 444.3 350.8 435.7 350.8 440.3 358.2 441.1 355 444.3 356.7ZM474.1 354.9 469.4 353.5 471 350.7 462.5 352.5 468.6 358.7 468.8 355.4 473.5 356.8ZM502.6 354.9 497.5 355.5 497.9 352.3 490.9 357.4 499 360.6 497.8 357.5 502.9 356.9ZM531.6 354.9 526.6 356 526.7 352.7 520.2 358.6 528.6 360.9 527.1 358 532 356.8ZM560.6 354.9 555.8 355.8 556 352.5 549.3 358.1 557.6 360.8 556.2 357.8 561 356.9ZM589.7 354.9 585 355.4 585.4 352.2 578.4 357.3 586.4 360.5 585.3 357.4 589.9 356.9ZM618.7 354.9 614.6 355.2 615.1 351.9 607.9 356.7 615.8 360.3 614.7 357.2 618.9 356.9ZM8.7 377.6 9.3 376.8 10.3 377 10.7 378 10 378.7 9 378.5ZM38.7 377.4 38.3 377.4 38.7 376.1 35.6 377.8 38.7 379.5 38.4 378.2 38.7 378.2ZM67.6 377.3 67.2 377.3 67.5 375.7 63.9 378.2 67.9 379.9 67.3 378.3 67.7 378.3ZM96.6 377.3 96.2 377.3 96.4 375.6 92.8 378.3 97 379.9 96.4 378.3 96.8 378.3ZM125.6 377.3 125.2 377.3 125.4 375.6 121.8 378.2 126 379.9 125.3 378.3 125.8 378.3ZM154.8 377.2 154.4 377.1 155.3 375.3 150.2 376.7 154.1 380.2 154.1 378.3 154.6 378.4ZM183.7 377.1 183.2 377.1 183.8 375.1 178.8 377.6 183.6 380.5 183.2 378.4 183.7 378.4ZM212.6 377.2 212.1 377.2 212.4 375.2 208 378.4 213 380.4 212.3 378.5 212.8 378.4ZM241.6 377.2 241.2 377.2 241.4 375.2 237.1 378.4 242.1 380.3 241.3 378.4 241.8 378.4ZM270.6 377.2 270.2 377.2 270.4 375.3 266.2 378.4 271.1 380.3 270.3 378.4 270.8 378.4ZM299.6 377.2 299.1 377.3 299.1 375.3 295.2 378.8 300.3 380.3 299.4 378.5 299.9 378.4ZM328.6 377.1 328 377.2 328.1 374.9 323.6 379 329.4 380.6 328.4 378.6 328.9 378.4ZM357.8 377 357.2 377 358 374.7 352.3 377.3 357.5 380.8 357.1 378.4 357.7 378.5ZM387.1 377.1 386.6 376.8 388.2 375 381.8 375.2 385.3 380.5 385.9 378.1 386.4 378.4ZM416 377.2 415.6 377 416.8 375.4 411.5 375.8 414.7 380.1 415.1 378.1 415.5 378.3ZM445 377.1 444.5 376.9 446 375 439.8 375.6 443.6 380.5 444 378.2 444.5 378.4ZM473.9 377 473.3 376.8 474.5 374.4 467.7 376.5 473.1 381.1 473 378.4 473.6 378.6ZM502.7 376.9 502 377 502.3 374.2 496.4 378.6 503.2 381.3 502.2 378.7 502.9 378.6ZM531.6 376.9 530.9 377.1 531 374.3 525.5 379.2 532.5 381.2 531.3 378.7 532 378.6ZM560.6 377 560 377.1 560.1 374.4 554.6 378.9 561.4 381.2 560.3 378.7 560.9 378.6ZM589.7 377 589.1 377 589.4 374.4 583.6 378.4 590.2 381.2 589.2 378.6 589.9 378.6ZM618.8 377 618.1 377 618.6 374.5 612.9 378.1 619 381 618.2 378.6 618.8 378.5ZM8.7 399.7 9.1 398.8 10.1 398.8 10.7 399.6 10.2 400.5 9.2 400.5ZM37.7 399.7 38.1 398.8 39.1 398.8 39.7 399.6 39.2 400.5 38.2 400.6ZM66.7 399.8 67.1 398.9 68.1 398.7 68.7 399.5 68.3 400.5 67.3 400.6ZM95.7 399.8 96.1 398.9 97.1 398.7 97.7 399.5 97.3 400.5 96.3 400.6ZM124.7 399.8 125.1 398.9 126.1 398.7 126.7 399.5 126.3 400.5 125.3 400.6ZM154.7 399.3 154.4 399.3 154.7 398.3 152.1 399.6 154.7 401.1 154.4 400 154.7 400ZM183.7 399.1 183.2 399.1 183.5 397.1 179 400.1 183.9 402.2 183.3 400.3 183.8 400.3ZM212.6 399 212.1 399.1 212.3 396.9 207.6 400.4 213.1 402.5 212.3 400.4 212.8 400.3ZM241.6 399 241.1 399.1 241.3 396.8 236.5 400.4 242.1 402.6 241.3 400.4 241.8 400.4ZM270.6 399 270.1 399 270.3 396.7 265.4 400.4 271.1 402.6 270.3 400.4 270.8 400.4ZM299.6 399 299.1 399.1 299.3 396.9 294.6 400.5 300.2 402.5 299.3 400.4 299.8 400.3ZM328.7 399.1 328.2 399.2 328.4 397.5 324.8 400.3 329.1 401.9 328.4 400.3 328.8 400.2ZM357.8 399.2 357.4 399.1 358 397.6 354.1 399.1 357.5 401.7 357.3 400.1 357.7 400.1ZM387 399.3 386.7 399 387.9 397.9 383.6 397.5 385.6 401.4 386.1 399.9 386.5 400.1ZM415.9 399.3 415.7 399.2 416.5 398.3 413.3 398.3 415 401 415.3 399.8 415.6 400ZM444.9 399.3 444.7 399.2 445.5 398.2 442.2 398.4 444 401.1 444.3 399.9 444.6 400ZM473.9 399.3 473.6 399.2 474.2 398.1 470.9 398.9 473.3 401.2 473.4 400 473.7 400ZM502.7 399.3 502.4 399.3 502.6 398.1 499.9 400 503 401.3 502.5 400.1 502.8 400ZM531.7 399.3 531.4 399.4 531.5 398.2 529.2 400.2 532.1 401.1 531.6 400.1 531.8 400ZM560.7 399.4 560.5 399.4 560.6 398.4 558.5 400.1 561 400.9 560.6 400 560.8 400ZM589.8 399.4 589.5 399.4 589.7 398.4 587.5 399.9 589.9 400.9 589.6 400 589.8 400ZM618.8 399.3 618.5 399.3 618.7 398.2 616.1 399.8 618.9 401.2 618.5 400 618.8 400Z"/>
<path id="arr2" fill="#4682b4" d="M38.3 7.4 39.2 7.8 37.3 10.5 45.9 9.3 40.4 2.7 40 5.9 39 5.6ZM96.1 7.3 96.8 7.7 94.4 9.8 102.7 10.7 99 3.2 97.9 6.2 97.2 5.7ZM154.1 7.3 159.4 10.9 156.9 13.1 165.5 13.9 161.6 6.1 160.5 9.2 155.3 5.7ZM212.6 7.5 222 8.2 220.9 11.3 228.8 7.6 221.5 2.9 222.1 6.2 212.8 5.5ZM270.9 7.5 281.3 6.1 280.9 9.3 287.9 4.2 279.8 1 281 4.1 270.6 5.5ZM328.9 7.5 333.5 6.7 333.3 10 340 4.5 331.8 1.7 333.2 4.7 328.6 5.5ZM386.9 7.5 390.4 7 390.1 10.3 397 5.1 388.9 2 390.2 5 386.6 5.5ZM444.9 7.5 448.3 7 448 10.3 454.9 5 446.8 2 448 5 444.6 5.5ZM502.9 7.5 504.8 7.2 504.5 10.5 511.3 5 503.1 2.2 504.4 5.2 502.6 5.5ZM561.1 7.5 563.4 6.7 563.7 10 569.6 3.7 561.1 2 562.8 4.8 560.5 5.6ZM618.9 7.5 621.5 7.1 621.1 10.4 628.1 5.2 620 2.1 621.2 5.2 618.7 5.5ZM38.6 36.9 43.4 37.1 42.5 40.3 50.3 36.5 42.9 31.9 43.6 35.1 38.7 34.9ZM96.6 36.8 105.1 38 103.9 41.1 112 38 105 32.8 105.4 36.1 96.8 34.9ZM154.7 36.9 172.1 36.8 171.3 40 178.9 35.8 171.2 31.6 172.1 34.8 154.7 34.9ZM212.9 36.8 234.8 33.7 234.5 37 241.4 31.7 233.3 28.7 234.6 31.7 212.6 34.9ZM270.9 36.8 297 32.9 296.6 36.2 303.5 30.9 295.4 27.9 296.7 31 270.6 34.9ZM328.9 36.8 352.8 32.8 352.6 36.1 359.3 30.6 351.1 27.8 352.5 30.8 328.6 34.9ZM386.9 36.8 410.3 33.6 409.9 36.8 416.9 31.6 408.7 28.5 410 31.6 386.6 34.9ZM444.9 36.8 468.3 33.6 467.9 36.8 474.9 31.6 466.8 28.5 468 31.6 444.6 34.9ZM502.9 36.8 526.3 33.6 525.9 36.8 532.9 31.6 524.8 28.5 526 31.6 502.6 34.9ZM560.9 36.8 584.3 33.6 584 36.8 590.9 31.6 582.8 28.5 584 31.6 560.6 34.9ZM618.9 36.8 642.3 33.6 642 36.8 648.9 31.6 640.8 28.5 642 31.6 618.7 34.9ZM38.8 66.2 47.6 65.4 47.1 68.7 54.3 63.9 46.4 60.3 47.5 63.4 38.6 64.2ZM96.8 66.2 110.6 65.1 110 68.4 117.3 63.6 109.4 60 110.4 63.1 96.6 64.2ZM154.9 66.2 170.1 63.4 169.9 66.7 176.6 61.2 168.4 58.4 169.7 61.4 154.5 64.2ZM212.9 66.2 229.5 63.1 229.3 66.4 236 60.9 227.8 58.1 229.2 61.1 212.5 64.2ZM270.9 66.2 285.5 63 285.4 66.3 291.9 60.5 283.6 58.1 285 61 270.5 64.2ZM328.9 66.2 355.4 60.7 355.2 64 361.8 58.4 353.5 55.8 355 58.8 328.5 64.2ZM386.9 66.2 415.7 62.1 415.3 65.4 422.3 60.2 414.1 57.1 415.4 60.2 386.6 64.2ZM444.8 66.2 471.5 64.6 470.9 67.8 478.3 63.1 470.4 59.4 471.4 62.6 444.7 64.2ZM502.9 66.2 516.5 64.4 516.1 67.7 523.1 62.5 515 59.3 516.2 62.4 502.6 64.2ZM560.9 66.2 574.5 64.3 574.1 67.6 581.1 62.3 573 59.2 574.2 62.3 560.6 64.2ZM618.9 66.2 632.5 64.3 632.2 67.6 639.1 62.3 631 59.2 632.2 62.3 618.7 64.2ZM38.8 95.5 54.1 93.4 53.8 96.6 60.7 91.4 52.6 88.3 53.8 91.4 38.5 93.6ZM96.9 95.5 113.4 92.3 113.2 95.6 119.9 90 111.6 87.4 113 90.3 96.5 93.6ZM154.9 95.5 177.5 90.4 177.5 93.7 184 87.9 175.6 85.5 177.1 88.4 154.5 93.6ZM212.9 95.5 240.7 90.3 240.5 93.6 247.2 88.1 239 85.3 240.3 88.3 212.5 93.6ZM271 95.5 296 89.4 296 92.7 302.3 86.8 293.9 84.5 295.5 87.4 270.5 93.6ZM329 95.5 369.6 83.2 369.8 86.5 375.9 80.3 367.4 78.5 369.1 81.3 328.4 93.6ZM386.9 95.5 427 88.4 426.7 91.7 433.5 86.2 425.3 83.4 426.6 86.5 386.6 93.6ZM444.8 95.5 485.1 94.5 484.4 97.7 491.9 93.3 484.2 89.3 485.1 92.5 444.7 93.5ZM502.8 95.5 545.1 93.1 544.5 96.3 551.8 91.7 544 87.9 545 91.1 502.7 93.5ZM560.9 95.5 595.6 92.7 595.1 96 602.3 91.2 594.4 87.6 595.5 90.7 560.7 93.5ZM618.9 95.5 642.9 94 642.3 97.2 649.6 92.5 641.7 88.8 642.7 92 618.7 93.5ZM38.8 124.9 40.8 124.6 40.5 127.9 47.4 122.6 39.3 119.6 40.5 122.6 38.5 122.9ZM97 124.8 104.2 122.4 104.5 125.6 110.3 119.2 101.8 117.7 103.6 120.5 96.4 122.9ZM155 124.8 176.9 117.1 177.2 120.4 182.9 113.9 174.4 112.5 176.2 115.2 154.4 122.9ZM212.9 124.9 248.1 116.5 248.1 119.8 254.5 113.9 246.1 111.6 247.7 114.5 212.5 122.9ZM271 124.8 306 114.1 306.2 117.4 312.2 111.2 303.7 109.4 305.4 112.2 270.4 122.9ZM329.2 124.8 351.1 113.6 351.8 116.8 356.7 109.6 348 109.3 350.2 111.8 328.3 123ZM386.9 124.9 406 122.5 405.6 125.7 412.6 120.6 404.5 117.4 405.7 120.5 386.6 122.9ZM444.7 124.9 461.9 126.7 460.8 129.8 468.8 126.4 461.7 121.4 462.1 124.7 444.9 122.9ZM502.8 124.9 530.1 125 529.3 128.2 536.9 124 529.4 119.8 530.1 123 502.8 122.9ZM560.8 124.9 586.3 124.2 585.6 127.4 593.1 123.1 585.4 119.1 586.3 122.2 560.8 122.9ZM618.6 124.9 633.2 127.6 631.9 130.6 640.1 127.8 633.4 122.3 633.6 125.6 619 122.9ZM38.8 154.2 42.1 153.7 41.9 157 48.7 151.6 40.5 148.7 41.8 151.7 38.5 152.3ZM97.3 154.1 102.6 150.3 103.8 153.4 107.6 145.5 98.9 146.5 101.4 148.7 96.1 152.4ZM155.4 153.9 161.4 147.5 163.2 150.2 165.3 141.8 157 144.5 159.9 146.1 154 152.6ZM213.3 154.1 220.1 149.2 221.3 152.3 225.1 144.4 216.5 145.4 219 147.6 212.1 152.4ZM271.2 154.1 282.9 146.9 283.9 150.1 288.2 142.5 279.5 142.9 281.9 145.2 270.2 152.4ZM329.2 154.1 344.2 146.4 344.9 149.6 349.8 142.4 341.1 142.2 343.3 144.7 328.3 152.3ZM386.8 154.2 401.3 153.3 400.7 156.5 408 151.8 400.2 148.1 401.2 151.3 386.7 152.2ZM444.6 154.2 456.8 155.7 455.6 158.8 463.7 155.5 456.6 150.4 457 153.7 444.9 152.2ZM502.6 154.2 515.7 157.2 514.2 160.2 522.5 157.8 516 152 516.1 155.3 503 152.3ZM560.1 152.5 552.3 159 550.8 156.1 547.7 164.2 556.2 162.5 553.5 160.6 561.4 154ZM618.3 152.4 612.2 155.9 611.3 152.8 606.9 160.2 615.5 160 613.2 157.7 619.3 154.1ZM38.9 183.3 39.5 183.1 39.7 185.6 44.1 180.8 37.7 179.6 39 181.7 38.4 181.9ZM97.4 183.3 103 178.1 104.6 181 107.3 172.8 98.9 174.8 101.6 176.7 96 181.8ZM155.3 183.4 164.5 175.9 165.9 178.9 169.2 170.9 160.7 172.4 163.3 174.4 154.1 181.8ZM213.5 183.1 217.4 177.4 219.6 179.9 220.3 171.2 212.6 175.2 215.7 176.3 211.9 182ZM270.9 181.6 266.1 181 267.3 177.9 259.2 181.1 266.2 186.2 265.8 183 270.6 183.6ZM328.6 181.6 303.2 184.3 303.7 181.1 296.6 186.1 304.6 189.4 303.4 186.3 328.8 183.6ZM386.6 181.6 358.1 187.1 358.3 183.9 351.6 189.4 359.9 192.1 358.5 189.1 386.9 183.6ZM444.5 181.6 417.1 188 417.1 184.7 410.7 190.5 419 192.9 417.5 190 445 183.6ZM502.3 181.7 490.7 187.7 490 184.5 485.1 191.7 493.8 191.9 491.6 189.5 503.2 183.5ZM560 182 553.7 190.6 551.6 188.1 550.5 196.7 558.4 193 555.3 191.8 561.6 183.2ZM618.4 181.7 617.7 182 617.3 178.9 612.2 185.3 620.3 186.2 618.5 183.7 619.2 183.5ZM38.7 211.2 38.1 211.1 38.9 208.8 33 211.5 38.4 215.1 38 212.6 38.6 212.7ZM97.4 211.3 93.7 207.3 96.6 205.7 88.4 202.9 90.5 211.4 92.3 208.6 96 212.6ZM155 211 148 208.6 149.8 205.9 141.3 207.4 147.1 213.8 147.4 210.5 154.4 212.9ZM212.9 211 201.6 208.5 203 205.6 194.7 208.1 201.2 213.8 201.1 210.5 212.5 212.9ZM270.6 210.9 259.9 212.4 260.3 209.2 253.4 214.4 261.5 217.5 260.2 214.4 270.9 212.9ZM328.4 211 309.5 217.2 309.3 213.9 303.4 220.3 311.9 221.9 310.1 219.1 329.1 212.9ZM386.5 211 357.7 217 357.8 213.7 351.2 219.3 359.5 221.9 358.1 218.9 387 212.9ZM444.6 210.9 414.7 215.6 414.9 212.3 408.1 217.6 416.2 220.6 415 217.6 444.9 212.9ZM502.6 210.9 477.7 215.7 477.9 212.4 471.2 218 479.5 220.7 478.1 217.7 503 212.9ZM559.8 212.1 559.9 212.9 556.6 212.6 561.9 219.5 565 211.4 561.9 212.7 561.8 211.8ZM619.7 212.4 618.8 212.9 618 212.5 617.9 211.5 618.8 210.9 619.6 211.4ZM38.6 240.3 35.6 240.6 36.1 237.3 28.9 242.2 36.9 245.7 35.8 242.6 38.8 242.3ZM97.2 240.4 89.1 236 91.4 233.6 82.7 233.6 87.3 240.9 88.2 237.7 96.2 242.2ZM154.8 240.3 146.1 239.2 147.3 236.1 139.2 239.3 146.2 244.4 145.8 241.2 154.6 242.3ZM212.7 240.3 197.1 240 198 236.8 190.3 240.9 197.8 245.2 197.1 242 212.7 242.3ZM270.6 240.3 245.3 244.1 245.6 240.8 238.7 246.1 246.9 249.1 245.6 246.1 270.9 242.3ZM328.5 240.3 294 250.6 293.8 247.3 287.7 253.5 296.2 255.4 294.5 252.5 329 242.2ZM386.6 240.3 365.8 243.2 366.2 239.9 359.2 245.1 367.3 248.2 366.1 245.2 386.9 242.3ZM445.3 240.5 444.1 239.6 446.6 237.5 438 236.5 441.8 244.3 443 241.3 444.2 242.1ZM502.9 242.3 513.4 240.8 513.1 244.1 520 238.8 511.9 235.7 513.1 238.8 502.6 240.3ZM560.2 242.1 562.9 243.9 560.4 246.1 569.1 247 565.2 239.2 564 242.3 561.4 240.5ZM619.4 242.1 618.4 242.2 617.8 241.4 618.2 240.5 619.2 240.4 619.8 241.2ZM38.6 269.6 29.4 270.7 29.8 267.4 22.7 272.5 30.8 275.8 29.6 272.7 38.8 271.6ZM96.8 269.6 70.9 267.1 72 264 64 267.5 71.2 272.4 70.7 269.1 96.6 271.6ZM154.6 269.6 126.2 272 126.7 268.7 119.5 273.5 127.4 277.1 126.4 274 154.8 271.6ZM212.6 269.6 183.8 271.9 184.4 268.7 177.1 273.4 185 277 184 273.9 212.8 271.6ZM270.6 269.6 240 274.2 240.3 270.9 233.4 276.2 241.5 279.3 240.3 276.2 270.9 271.6ZM328.4 269.7 309.3 277.5 308.8 274.2 303.4 281 312 282 310 279.3 329.1 271.5ZM387 269.6 374.3 267 375.8 264.1 367.5 266.6 374.1 272.3 373.9 269 386.5 271.6ZM444.9 269.6 431.2 267.5 432.5 264.4 424.4 267.4 431.2 272.7 430.9 269.4 444.6 271.6ZM502.6 269.6 471.9 274 472.2 270.7 465.3 275.9 473.4 279 472.2 276 502.9 271.6ZM560.4 269.7 545.9 275.3 545.5 272 539.9 278.6 548.5 279.8 546.6 277.1 561.1 271.6ZM618.6 269.6 612.5 271 612.6 267.7 606.1 273.4 614.4 275.9 613 272.9 619 271.6ZM38.5 299 26.3 300.7 26.6 297.4 19.7 302.6 27.8 305.7 26.6 302.7 38.8 301ZM96.6 299 83.6 300.2 84.1 296.9 76.9 301.8 84.9 305.3 83.8 302.2 96.8 301ZM154.6 299 129.5 300.4 130.1 297.1 122.8 301.8 130.6 305.5 129.6 302.4 154.8 301ZM212.6 299 172 303.4 172.5 300.1 165.4 305.1 173.4 308.5 172.2 305.4 212.8 301ZM270.6 299 225.8 305.3 226.1 302.1 219.2 307.3 227.3 310.4 226.1 307.3 270.9 301ZM328.5 299 305 303.7 305.1 300.4 298.5 306 306.8 308.6 305.4 305.6 328.9 300.9ZM387 299 363.5 293.4 365 290.5 356.6 292.8 363.1 298.7 363 295.4 386.5 300.9ZM444.6 299 420.8 302.3 421.2 299 414.3 304.3 422.4 307.4 421.1 304.3 444.9 301ZM502.6 299 478.9 302.3 479.2 299 472.3 304.2 480.4 307.3 479.1 304.3 502.9 301ZM560.7 299 540 301.7 540.3 298.4 533.4 303.6 541.4 306.8 540.2 303.7 560.9 301ZM618.7 299 598.6 301.8 598.9 298.5 592 303.7 600.1 306.8 598.8 303.8 618.9 301ZM38.5 328.3 25.1 330.2 25.5 326.9 18.5 332.1 26.6 335.2 25.4 332.2 38.8 330.3ZM96.6 328.3 82.1 330.1 82.5 326.8 75.5 331.9 83.5 335.1 82.3 332.1 96.8 330.3ZM154.6 328.3 137.4 330.1 137.9 326.8 130.8 331.8 138.8 335.2 137.6 332.1 154.8 330.3ZM212.6 328.3 193 330.9 193.4 327.6 186.4 332.8 194.5 335.9 193.3 332.9 212.8 330.3ZM270.6 328.3 250.2 331 250.6 327.7 243.6 332.8 251.7 336 250.5 332.9 270.9 330.3ZM328.6 328.3 310.9 330.4 311.3 327.1 304.3 332.2 312.3 335.5 311.2 332.4 328.9 330.3ZM386.9 328.3 367.3 324.9 368.6 321.9 360.4 324.7 367.2 330.1 366.9 326.9 386.6 330.3ZM444.6 328.3 421.7 331.5 422.1 328.3 415.1 333.5 423.2 336.6 422 333.5 444.9 330.3ZM502.6 328.3 479.7 331.5 480.1 328.2 473.1 333.4 481.2 336.5 480 333.5 502.9 330.3ZM560.7 328.3 538.6 330.5 539.1 327.2 532 332.1 539.9 335.6 538.8 332.5 560.9 330.3ZM618.7 328.3 596.9 331.4 597.3 328.1 590.3 333.3 598.4 336.4 597.2 333.4 618.9 330.3ZM38.5 357.7 29.2 359 29.6 355.7 22.7 360.9 30.8 364 29.5 361 38.8 359.6ZM96.5 357.7 87.3 359 87.6 355.7 80.7 360.9 88.8 364 87.5 361 96.8 359.6ZM154.6 357.7 145.3 359 145.6 355.7 138.7 360.9 146.8 364 145.6 361 154.8 359.6ZM212.6 357.7 203.3 359 203.6 355.7 196.7 360.9 204.8 364 203.6 361 212.9 359.6ZM270.6 357.7 261.3 359 261.6 355.7 254.7 360.9 262.8 364 261.6 360.9 270.9 359.6ZM328.7 357.7 317.7 358.4 318.3 355.1 311 359.8 318.8 363.5 317.8 360.4 328.8 359.7ZM387.2 357.8 377.7 353.1 379.8 350.6 371.1 351 376.1 358.1 376.8 354.9 386.3 359.6ZM444.6 357.7 442.1 358 442.4 354.7 435.5 360 443.6 363.1 442.4 360 444.9 359.6ZM502.6 357.7 500.1 358 500.5 354.7 493.5 359.9 501.6 363.1 500.4 360 502.9 359.6ZM560.7 357.7 557.6 358 558.1 354.7 551 359.7 559 363.1 557.8 360 560.9 359.7ZM618.7 357.7 615.5 358.1 615.9 354.8 608.9 360 617 363.1 615.8 360.1 618.9 359.6ZM38.6 387.7 38.4 387.7 38.5 386.7 36.3 388.3 38.9 389.3 38.5 388.4 38.7 388.3ZM96.6 387.7 96.4 387.7 96.5 386.7 94.3 388.3 96.9 389.3 96.5 388.4 96.7 388.3ZM154.7 387.7 154.4 387.7 154.5 386.7 152.3 388.3 154.9 389.3 154.5 388.4 154.7 388.3ZM212.7 387.7 212.4 387.7 212.5 386.7 210.3 388.3 212.9 389.3 212.5 388.4 212.8 388.3ZM270.7 387.7 270.4 387.7 270.5 386.7 268.3 388.3 270.9 389.3 270.5 388.4 270.8 388.3ZM328.7 387.2 328 387.2 328.4 384.6 322.5 388.6 329.1 391.4 328.2 388.9 328.8 388.8ZM387.3 387.2 381.8 383.1 384.4 381 375.8 379.8 379.4 387.7 380.6 384.7 386.2 388.8ZM444.6 387 443.8 387.1 444.2 383.9 437.3 389.1 445.3 392.1 444.1 389.1 444.9 389ZM502.6 387 501.9 387.1 502.2 383.9 495.3 389 503.3 392.1 502.1 389.1 502.9 389ZM560.7 387 559.5 387.2 559.9 383.9 552.9 389 561 392.2 559.8 389.1 560.9 389ZM618.7 387 617.5 387.2 617.8 383.9 610.9 389.1 619 392.2 617.7 389.2 618.9 389ZM37.7 417.5 38.1 416.6 39 416.4 39.7 417.2 39.3 418.1 38.3 418.3ZM95.7 417.5 96.1 416.6 97.1 416.4 97.7 417.2 97.3 418.1 96.3 418.3ZM153.7 417.5 154.1 416.6 155.1 416.4 155.7 417.2 155.3 418.1 154.3 418.3ZM211.7 417.5 212.1 416.6 213.1 416.4 213.7 417.2 213.3 418.1 212.3 418.3ZM269.7 417.5 270.1 416.6 271.1 416.4 271.7 417.2 271.3 418.1 270.4 418.3ZM327.7 417.5 328.1 416.6 329.1 416.4 329.7 417.2 329.3 418.1 328.4 418.3ZM387.5 416.8 387.1 416.2 389.9 415 382.5 411.7 383.6 419.7 385.6 417.3 386 417.9ZM444.7 416.7 444.2 416.8 444.4 414.8 440.1 418 445.1 419.9 444.4 418 444.8 418ZM502.7 416.7 502.2 416.8 502.4 414.8 498.1 418 503.1 419.9 502.4 418 502.9 418ZM560.7 416.7 560.2 416.8 560.4 414.6 555.9 418 561.2 420.1 560.4 418.1 560.9 418ZM618.7 416.7 618.2 416.8 618.4 414.6 613.9 418 619.2 420.1 618.4 418.1 618.9 418Z"/>
<path id="arr3" fill="#4682b4" d="M23.8 27.4 39.9 32.9 38.1 35.7 46.6 34.2 40.8 27.8 40.5 31 24.5 25.5ZM67.4 27.5 85.5 32.3 83.9 35.2 92.4 33.1 86.1 27.1 86.1 30.4 67.9 25.5ZM111.3 27.5 128.6 26.2 128 29.5 135.3 24.7 127.4 21.1 128.4 24.2 111.1 25.5ZM154.9 27.5 171 23.7 171 27 177.4 21.1 169 18.8 170.6 21.7 154.5 25.5ZM198.3 27.5 213.9 26.7 213.3 29.9 220.7 25.3 212.9 21.5 213.8 24.7 198.2 25.5ZM241.6 27.5 262 30.7 260.7 33.7 268.8 30.8 262 25.4 262.3 28.7 241.9 25.5ZM285.6 27.4 306.7 19.7 307.1 23 312.8 16.4 304.2 15.1 306 17.8 284.9 25.6ZM329.2 27.4 354.3 15.3 355 18.5 360 11.5 351.4 11 353.5 13.5 328.3 25.6ZM372.5 27.5 397.4 21 397.4 24.3 403.7 18.3 395.3 16.1 396.9 19 372 25.5ZM416.1 27.4 438 20.5 438.2 23.8 444.1 17.5 435.6 15.8 437.4 18.6 415.5 25.5ZM459.8 27.3 479.7 14.2 480.8 17.3 484.8 9.6 476.2 10.3 478.6 12.5 458.7 25.7ZM503 27.5 523 21.9 523.1 25.2 529.3 19.1 520.9 17.1 522.5 20 502.5 25.5ZM546.5 27.5 566.1 23.6 566 26.9 572.6 21.3 564.3 18.6 565.7 21.6 546.1 25.5ZM590 27.5 607.9 23.5 607.9 26.8 614.4 21 606 18.6 607.5 21.5 589.6 25.5ZM24.1 70.7 54.1 72.5 53.1 75.6 60.9 71.9 53.6 67.2 54.2 70.5 24.2 68.7ZM67.7 70.7 105.9 69.3 105.2 72.5 112.7 68 104.9 64.1 105.8 67.3 67.6 68.7ZM111.3 70.7 153.3 65.4 152.9 68.7 159.9 63.5 151.9 60.3 153.1 63.4 111.1 68.7ZM154.9 70.7 195.7 63.7 195.5 67 202.3 61.5 194.1 58.7 195.4 61.7 154.5 68.7ZM198.3 70.7 238.5 65.8 238.1 69 245.1 63.9 237.1 60.7 238.3 63.8 198.1 68.7ZM241.8 70.7 281.6 67.9 281 71.2 288.3 66.5 280.5 62.8 281.5 65.9 241.6 68.7ZM285.5 70.7 323.8 59.2 324 62.5 330 56.3 321.6 54.5 323.2 57.3 284.9 68.8ZM329.1 70.6 365.9 57 366.2 60.3 371.9 53.7 363.3 52.4 365.2 55.1 328.4 68.8ZM372.4 70.7 407.5 64.9 407.2 68.2 414 62.8 405.8 59.9 407.1 62.9 372.1 68.7ZM415.9 70.7 449 64.7 448.8 68 455.5 62.5 447.3 59.7 448.6 62.7 415.6 68.7ZM459.7 70.6 486.3 59.2 486.8 62.4 492.1 55.6 483.5 54.7 485.5 57.3 458.9 68.8ZM503 70.7 523.5 64.9 523.6 68.2 529.8 62.1 521.3 60.1 522.9 63 502.5 68.7ZM546.5 70.7 564.6 66.4 564.6 69.7 571 63.9 562.6 61.5 564.2 64.5 546.1 68.7ZM589.9 70.7 607.5 68.2 607.1 71.5 614.1 66.3 606 63.2 607.2 66.3 589.7 68.7ZM24.4 113.9 57.6 106.8 57.5 110.1 64 104.4 55.7 101.9 57.2 104.9 24 111.9ZM67.8 113.9 99.2 108.9 98.9 112.2 105.8 106.9 97.6 103.9 98.9 107 67.5 111.9ZM111.4 113.9 138.4 109.5 138.1 112.7 145 107.4 136.8 104.5 138.1 107.5 111 111.9ZM154.9 113.9 184.8 108.5 184.6 111.8 191.3 106.3 183.1 103.5 184.5 106.5 154.5 111.9ZM198.4 113.9 236.7 107.6 236.5 110.8 243.3 105.5 235.1 102.6 236.4 105.6 198 111.9ZM241.9 113.9 289.6 106.3 289.3 109.5 296.1 104.2 288 101.3 289.3 104.3 241.6 111.9ZM285.4 113.9 338.4 103.2 338.3 106.5 344.9 100.9 336.6 98.3 338 101.2 285 111.9ZM329 113.9 363.6 105.9 363.6 109.2 370 103.3 361.7 101 363.2 103.9 328.5 112ZM372.4 113.9 401.5 109.4 401.2 112.7 408 107.4 399.9 104.4 401.2 107.4 372.1 111.9ZM415.9 113.9 444 109.5 443.7 112.8 450.5 107.4 442.4 104.5 443.7 107.5 415.6 111.9ZM459.5 113.9 487.8 108.3 487.6 111.6 494.3 106 486 103.4 487.4 106.4 459.1 111.9ZM502.9 113.9 533 109.6 532.7 112.9 539.6 107.7 531.5 104.6 532.8 107.7 502.6 111.9ZM546.4 113.9 572.1 111.1 571.7 114.4 578.8 109.4 570.8 106.1 571.9 109.1 546.2 111.9ZM589.9 113.9 608.6 112.4 608.1 115.6 615.3 110.8 607.4 107.3 608.5 110.4 589.7 111.9ZM24.5 157.1 33.7 154.4 33.8 157.7 40 151.5 31.5 149.6 33.2 152.5 23.9 155.2ZM68 157.1 79.9 152.4 80.3 155.7 85.8 149 77.2 147.9 79.1 150.6 67.3 155.2ZM111.6 157.1 127.5 150.8 127.9 154.1 133.4 147.4 124.8 146.3 126.7 148.9 110.8 155.2ZM155.1 157 171.8 149.3 172.4 152.5 177.6 145.5 168.9 144.9 171 147.5 154.3 155.2ZM198.6 157.1 216.2 150 216.6 153.3 222.1 146.5 213.5 145.5 215.4 148.1 197.8 155.2ZM242 157.1 264.9 149.5 265.1 152.8 271 146.4 262.5 144.8 264.3 147.6 241.4 155.2ZM285.5 157.1 309.3 149.3 309.5 152.6 315.4 146.2 306.9 144.6 308.7 147.4 284.9 155.2ZM329 157.1 347.7 152 347.8 155.3 354 149.3 345.6 147.2 347.2 150.1 328.5 155.2ZM372.4 157.1 389.7 155.2 389.2 158.5 396.3 153.4 388.3 150.1 389.4 153.2 372.1 155.1ZM415.8 157.1 429.1 156.3 428.5 159.5 435.9 154.8 428 151.1 429 154.3 415.7 155.1ZM458.9 157.1 469.3 160.9 467.4 163.6 476 162.3 470.3 155.8 470 159 459.6 155.2ZM502.6 157.1 511.1 158.3 509.9 161.3 518 158.2 511 153 511.4 156.3 502.9 155.2ZM546.3 157.1 556 157.2 555.2 160.4 562.8 156.2 555.2 152 556 155.2 546.3 155.1ZM589.7 157.1 600.2 157.9 599.1 161.1 607 157.4 599.8 152.7 600.3 155.9 589.9 155.1ZM24.7 200 25.2 199.6 26.4 202 28.8 195.5 22 196.9 24.1 198.4 23.7 198.8ZM68.5 200.1 72.1 195.3 74.2 197.9 75.5 189.4 67.5 192.8 70.6 194.1 66.9 198.8ZM111.8 200.3 121.8 193.1 123 196.2 126.7 188.4 118.1 189.3 120.6 191.5 110.6 198.6ZM155.3 200.2 163.3 194.4 164.6 197.4 168.2 189.5 159.6 190.6 162.1 192.7 154.1 198.6ZM198.9 200.2 205.5 193.8 207.1 196.6 209.6 188.3 201.3 190.6 204.1 192.4 197.5 198.7ZM242.2 200.3 261 190.4 261.8 193.6 266.5 186.4 257.9 186.2 260.1 188.7 241.3 198.6ZM285.4 200.4 297.3 198.8 296.9 202.1 303.9 196.9 295.8 193.8 297 196.8 285.1 198.4ZM328.6 198.6 327.9 198.8 328.1 196 322.5 200.7 329.4 202.9 328.2 200.4 328.9 200.3ZM371.9 198.5 357.4 204.1 357 200.8 351.4 207.5 360 208.6 358.1 206 372.6 200.4ZM415.2 198.6 406.2 204 405.2 200.8 400.8 208.3 409.5 208 407.2 205.7 416.3 200.3ZM458.3 199.1 457.8 200.7 455 198.9 456.5 207.5 462.9 201.7 459.7 201.4 460.2 199.8ZM502.4 200.3 503.1 200.5 501.3 202.9 509.1 202 504.2 195.9 503.8 198.9 503.1 198.6ZM546.2 200.4 545.4 199.9 545.5 198.9 546.3 198.4 547.2 199 547.1 200ZM589.2 198.7 588.6 199.2 587.2 196.5 584.5 204.2 592.4 202.4 589.9 200.6 590.4 200.1ZM24.2 242.1 23.8 242 24.4 240.3 19.9 242.2 23.9 245 23.7 243.2 24.1 243.2ZM67.8 241.7 67 241.6 68.2 238.7 60.6 241.8 67.2 246.6 66.8 243.5 67.6 243.6ZM111.2 241.7 97.9 241 98.8 237.9 91 241.7 98.4 246.3 97.8 243 111.1 243.7ZM155.3 241.9 139.2 229.9 141.7 227.8 133.1 226.7 136.7 234.6 138 231.5 154.1 243.5ZM198.3 241.7 189 240.5 190.2 237.5 182.1 240.7 189.2 245.8 188.7 242.5 198.1 243.6ZM241.7 241.7 223.3 242.6 223.9 239.4 216.6 244 224.4 247.8 223.4 244.6 241.8 243.7ZM285.1 241.7 266.8 243.7 267.2 240.4 260.1 245.4 268.1 248.7 267 245.7 285.3 243.6ZM328.6 241.7 313.6 243.6 314 240.3 307 245.4 315 248.6 313.8 245.5 328.9 243.6ZM372 241.7 361.4 244.9 361.2 241.6 355.1 247.9 363.6 249.7 361.9 246.8 372.5 243.6ZM415.5 241.9 414.9 242.1 414.5 239.5 410.1 244.9 417 245.8 415.5 243.6 416 243.4ZM459.3 242 458.8 241.9 459.6 239.7 454 242 458.9 245.6 458.6 243.3 459.2 243.3ZM502.6 242 502.1 242.1 502.1 239.9 497.8 243.9 503.5 245.4 502.4 243.4 502.9 243.3ZM545.6 241.9 533 253.9 531.4 251.1 528.8 259.4 537.2 257.1 534.4 255.4 547 243.4ZM589.5 241.7 572.2 247.2 572 243.9 566.1 250.2 574.6 251.9 572.8 249.1 590.1 243.6ZM24.1 284.9 13.4 286 13.8 282.7 6.7 287.6 14.7 291.1 13.6 287.9 24.3 286.9ZM67.5 284.9 57.3 286.6 57.6 283.3 50.8 288.7 58.9 291.6 57.6 288.6 67.8 286.9ZM111 284.9 101.9 286.2 102.2 283 95.3 288.2 103.4 291.3 102.2 288.2 111.3 286.9ZM154.9 284.9 132.4 280.1 133.9 277.1 125.6 279.7 132.1 285.3 132 282 154.5 286.8ZM198.1 284.9 161.1 288.3 161.6 285.1 154.4 290 162.4 293.4 161.3 290.3 198.3 286.9ZM241.6 284.9 200.5 289.8 201 286.5 193.9 291.5 201.9 294.8 200.8 291.7 241.8 286.9ZM285.1 284.9 238.7 290.6 239.1 287.3 232 292.4 240.1 295.7 238.9 292.6 285.4 286.9ZM328.6 284.9 275.3 292 275.6 288.7 268.6 293.8 276.7 297 275.5 293.9 328.9 286.9ZM372.1 284.9 315.5 294.3 315.8 291.1 309 296.5 317.2 299.3 315.9 296.3 372.4 286.9ZM415.6 284.9 351.9 296 352.2 292.7 345.4 298.2 353.6 301 352.3 298 415.9 286.9ZM459.1 284.9 407.6 295 407.7 291.7 401.1 297.3 409.3 299.9 407.9 297 459.5 286.9ZM502.6 284.9 474.5 291 474.6 287.7 468 293.4 476.3 295.9 474.9 292.9 503 286.8ZM546.1 284.9 526 289.7 526 286.4 519.6 292.3 527.9 294.6 526.4 291.7 546.5 286.8ZM589.7 284.9 571 287.5 571.4 284.2 564.4 289.4 572.5 292.5 571.3 289.4 589.9 286.9ZM24 328.1 11.2 329.7 11.6 326.4 4.6 331.5 12.6 334.8 11.4 331.7 24.3 330.1ZM67.5 328.1 54.6 330 55 326.7 48.1 331.9 56.2 335 54.9 331.9 67.8 330.1ZM111.1 328.1 98.3 329.9 98.7 326.6 91.7 331.8 99.8 334.9 98.6 331.9 111.3 330.1ZM154.7 328.1 135.6 327.9 136.5 324.7 128.8 328.9 136.4 333.1 135.6 329.9 154.7 330.1ZM198.1 328.1 173.1 331.2 173.5 327.9 166.4 333 174.5 336.2 173.3 333.1 198.3 330.1ZM241.6 328.1 216 331.5 216.4 328.2 209.4 333.4 217.5 336.5 216.3 333.5 241.8 330.1ZM285.1 328.1 259.6 331.2 260 327.9 253 333 261 336.3 259.8 333.2 285.3 330.1ZM328.6 328.1 304.5 331.1 304.9 327.9 297.9 333 305.9 336.2 304.8 333.1 328.9 330.1ZM372.1 328.1 348.4 332.2 348.7 328.9 341.9 334.3 350.1 337.1 348.8 334.1 372.4 330.1ZM415.6 328.1 392 332.7 392.2 329.4 385.5 334.9 393.8 337.6 392.4 334.6 415.9 330.1ZM459 328.1 434.2 334 434.2 330.7 427.8 336.5 436.2 338.8 434.6 335.9 459.5 330.1ZM502.6 328.1 476.7 333 476.9 329.7 470.2 335.2 478.5 337.9 477.1 335 503 330.1ZM546.1 328.1 523.5 332.1 523.7 328.9 516.9 334.3 525.2 337.1 523.8 334.1 546.5 330.1ZM589.7 328.1 567.5 331.3 567.8 328 560.9 333.2 569 336.3 567.8 333.3 589.9 330.1ZM24 371.3 9.4 373.4 9.8 370.1 2.8 375.3 10.9 378.4 9.7 375.4 24.3 373.3ZM67.5 371.3 52.9 373.4 53.3 370.1 46.3 375.3 54.4 378.4 53.2 375.4 67.8 373.3ZM111.1 371.3 96.4 373.4 96.8 370.1 89.8 375.3 97.9 378.4 96.7 375.4 111.3 373.3ZM154.6 371.3 139.9 373.4 140.3 370.1 133.3 375.3 141.5 378.4 140.2 375.4 154.8 373.3ZM198.1 371.3 183.4 373.4 183.8 370.1 176.9 375.3 185 378.4 183.7 375.3 198.3 373.3ZM241.6 371.3 226.7 373.3 227.1 370.1 220.1 375.3 228.2 378.4 227 375.3 241.9 373.3ZM285.1 371.3 269.5 373.2 269.9 370 262.9 375 270.9 378.3 269.8 375.2 285.3 373.3ZM328.6 371.3 310.7 373.5 311.1 370.3 304.1 375.4 312.2 378.6 311 375.5 328.9 373.3ZM372.1 371.3 354.4 374.1 354.7 370.8 347.8 376.1 356 379.1 354.7 376 372.4 373.3ZM415.6 371.3 400.4 373.9 400.7 370.6 393.9 376.1 402.1 378.9 400.8 375.9 415.9 373.3ZM459 371.3 445.9 374.5 445.9 371.2 439.5 377 447.9 379.3 446.4 376.4 459.5 373.3ZM502.6 371.3 490.3 373.2 490.7 369.9 483.8 375.2 491.9 378.2 490.6 375.2 502.9 373.3ZM546.1 371.3 534.7 373 535 369.7 528.1 374.9 536.2 378 535 374.9 546.4 373.3ZM589.7 371.3 578.6 372.9 578.9 369.6 572 374.8 580.1 377.9 578.9 374.9 589.9 373.3ZM24.1 415 23.7 415.1 23.9 413.5 20.4 416 24.5 417.6 23.8 416.1 24.2 416ZM67.6 415 67.2 415.1 67.4 413.5 63.9 416 68 417.6 67.4 416.1 67.8 416ZM111.1 415 110.7 415.1 110.9 413.5 107.5 416 111.5 417.6 110.9 416.1 111.3 416ZM154.6 415 154.2 415.1 154.4 413.5 151 416 155 417.6 154.4 416.1 154.8 416ZM198.1 415 197.7 415.1 197.9 413.5 194.5 416 198.5 417.6 197.9 416.1 198.3 416ZM241.6 415 241.3 415.1 241.4 413.5 238 416 242 417.6 241.4 416.1 241.8 416ZM285.2 415 284.8 415.1 284.9 413.5 281.5 416 285.5 417.6 284.9 416.1 285.3 416ZM328.7 415 328.3 415.1 328.4 413.5 325 416 329 417.6 328.4 416.1 328.8 416ZM372.2 415 371.8 415.1 372 413.5 368.5 416 372.5 417.6 371.9 416.1 372.3 416ZM415.7 415 415.3 415.1 415.5 413.5 412 416 416 417.6 415.4 416.1 415.8 416ZM459.2 415.1 458.8 415.1 459 413.6 455.8 416 459.6 417.4 459 416 459.3 416ZM502.7 415.1 502.4 415.2 502.5 413.9 499.8 415.9 503 417.2 502.5 416 502.8 415.9ZM546.2 415.1 545.9 415.2 546.1 413.9 543.3 415.9 546.5 417.2 546 416 546.3 415.9ZM589.7 415.1 589.4 415.2 589.6 413.9 586.8 415.9 590 417.2 589.5 416 589.8 415.9Z"/>
<path id="arr4" fill="#4682b4" d="M9.8 15.4 12.6 15 12.3 18.3 19.2 13 11.1 10 12.3 13 9.5 13.4ZM38.8 15.4 46 14.8 45.5 18 52.7 13.2 44.7 9.7 45.8 12.8 38.6 13.4ZM67.4 15.4 75.9 18.1 74.2 20.9 82.7 19.2 76.7 12.9 76.5 16.2 68 13.5ZM96.2 15.3 102 18.9 99.6 21.2 108.3 21.6 104 14 103 17.2 97.2 13.6ZM125.1 15.2 129.9 18.4 127.4 20.6 136.1 21.3 132.1 13.6 131 16.7 126.2 13.6ZM154.2 15.3 161.5 19.3 159.3 21.8 167.9 21.8 163.3 14.4 162.5 17.6 155.2 13.5ZM183.4 15.4 193.1 18.8 191.3 21.5 199.8 20.1 194.1 13.6 193.7 16.9 184 13.5ZM212.4 15.4 222.7 18.8 221 21.6 229.5 20 223.6 13.6 223.4 16.9 213 13.5ZM241.5 15.4 251 17.6 249.5 20.5 257.9 18.2 251.4 12.3 251.5 15.6 241.9 13.4ZM270.9 15.4 279.1 14.3 278.8 17.6 285.8 12.4 277.7 9.2 278.9 12.3 270.6 13.4ZM300.1 15.4 311 11.6 311.3 14.9 317.1 8.5 308.6 7 310.4 9.7 299.4 13.5ZM329 15.4 344.3 11.3 344.4 14.6 350.6 8.6 342.2 6.5 343.8 9.3 328.5 13.4ZM357.9 15.4 373.8 13.2 373.4 16.4 380.3 11.2 372.2 8.1 373.5 11.2 357.6 13.4ZM386.9 15.4 402.1 13.3 401.7 16.5 408.7 11.3 400.5 8.2 401.8 11.3 386.6 13.4ZM415.9 15.4 430.3 13.4 429.9 16.7 436.9 11.4 428.8 8.3 430 11.4 415.6 13.4ZM445.2 15.3 457.6 9.2 458.3 12.4 463.2 5.3 454.6 4.9 456.7 7.4 444.3 13.5ZM474.3 15.3 484.8 8.5 485.9 11.6 490 4 481.3 4.6 483.7 6.8 473.2 13.6ZM502.9 15.4 512.5 13.8 512.2 17.1 519.1 11.7 510.9 8.8 512.2 11.8 502.6 13.4ZM531.9 15.4 539.7 14.7 539.2 17.9 546.4 13 538.4 9.6 539.5 12.7 531.7 13.4ZM560.9 15.4 565.6 15 565.1 18.2 572.3 13.3 564.3 9.9 565.4 13 560.7 13.4ZM590 15.4 593.8 14.4 593.8 17.7 600.1 11.8 591.7 9.6 593.3 12.5 589.6 13.4ZM619.2 15.3 623.2 13.5 623.8 16.7 629 9.7 620.3 9.1 622.4 11.7 618.4 13.5ZM10 44.3 14.9 42.7 15.1 45.9 21.1 39.6 12.6 38 14.3 40.8 9.4 42.3ZM38.8 44.3 42 43.9 41.6 47.2 48.7 42.2 40.6 38.9 41.8 41.9 38.6 42.3ZM67.3 44.2 73 46.5 71.1 49.2 79.7 48.1 74.2 41.4 73.7 44.6 68.1 42.4ZM96.3 44.2 104.6 47.5 102.6 50.2 111.2 49.1 105.7 42.4 105.3 45.6 97.1 42.4ZM125.5 44.3 135.2 46.4 133.7 49.3 142 46.9 135.5 41.1 135.6 44.4 125.9 42.3ZM154.5 44.3 166 46.3 164.6 49.3 172.9 46.5 166.1 41.1 166.4 44.4 154.9 42.3ZM183.6 44.3 196.5 46.2 195.3 49.3 203.4 46.2 196.5 40.9 196.8 44.2 183.9 42.3ZM212.5 44.3 226.5 47.2 225 50.2 233.3 47.6 226.8 42 226.9 45.3 212.9 42.3ZM241.6 44.3 255.4 46.3 254.1 49.3 262.3 46.3 255.3 41 255.7 44.3 241.9 42.3ZM270.9 44.3 283.8 42.4 283.5 45.7 290.4 40.5 282.3 37.4 283.5 40.5 270.6 42.3ZM300.1 44.2 313.5 38.1 314.1 41.4 319.3 34.4 310.7 33.7 312.7 36.3 299.3 42.4ZM329.1 44.2 343.8 38.7 344.1 42 349.8 35.4 341.2 34.1 343.1 36.9 328.4 42.4ZM357.9 44.3 373.2 42.1 372.9 45.4 379.8 40.2 371.7 37.1 373 40.1 357.6 42.3ZM386.9 44.3 402.2 42.1 401.9 45.4 408.8 40.2 400.7 37.1 402 40.1 386.6 42.3ZM415.9 44.3 431.3 42.1 430.9 45.4 437.8 40.2 429.7 37.1 431 40.1 415.6 42.3ZM445.1 44.2 460.3 39.1 460.6 42.3 466.4 35.9 457.9 34.4 459.6 37.2 444.4 42.4ZM474.1 44.2 489.8 38.2 490.2 41.4 495.8 34.8 487.2 33.6 489.1 36.3 473.4 42.4ZM502.9 44.3 519.2 41.9 518.9 45.2 525.8 39.9 517.7 36.8 518.9 39.9 502.6 42.3ZM531.8 44.3 547.5 43.5 546.8 46.8 554.2 42.2 546.4 38.4 547.4 41.5 531.7 42.3ZM560.8 44.3 575 43.4 574.4 46.7 581.7 42 573.9 38.3 574.9 41.4 560.7 42.3ZM589.9 44.3 603.3 42.3 603 45.6 609.8 40.3 601.7 37.3 603 40.3 589.6 42.3ZM619 44.3 630.1 42.1 629.9 45.4 636.5 39.8 628.3 37.2 629.7 40.1 618.6 42.3ZM9.7 73.2 12.4 73 11.8 76.2 19.1 71.5 11.2 67.9 12.2 71 9.6 71.2ZM38.7 73.2 42.1 73.2 41.2 76.4 48.9 72.3 41.3 68 42.1 71.2 38.7 71.2ZM67.5 73.2 73.4 74.1 72.1 77.1 80.3 74.2 73.5 68.9 73.8 72.1 67.8 71.2ZM96.6 73.2 106.1 74.2 105 77.3 113 73.9 105.9 68.9 106.3 72.2 96.8 71.2ZM125.7 73.2 138.6 73 137.8 76.2 145.4 72 137.7 67.8 138.6 71 125.7 71.2ZM154.7 73.2 171 72.4 170.3 75.7 177.7 71.1 169.9 67.3 170.9 70.4 154.7 71.2ZM183.7 73.2 203.5 72.6 202.8 75.8 210.3 71.4 202.5 67.4 203.4 70.6 183.7 71.2ZM212.6 73.2 236.1 75.3 235 78.4 242.9 74.9 235.8 70.1 236.3 73.3 212.8 71.2ZM241.6 73.2 266.6 75 265.6 78.1 273.5 74.5 266.2 69.8 266.8 73 241.8 71.2ZM270.9 73.2 295.4 69.7 295 72.9 301.9 67.7 293.8 64.6 295.1 67.7 270.6 71.2ZM300.1 73.1 325.2 63 325.6 66.2 331.1 59.5 322.5 58.4 324.4 61.1 299.4 71.3ZM329.1 73.1 356.3 63.9 356.6 67.2 362.4 60.8 353.9 59.3 355.7 62 328.4 71.2ZM357.9 73.2 386.4 69.2 386 72.5 393 67.2 384.8 64.1 386.1 67.2 357.6 71.2ZM386.9 73.2 415.4 69.2 415 72.5 422 67.2 413.9 64.1 415.1 67.2 386.6 71.2ZM415.9 73.2 444.4 69.2 444 72.5 451 67.2 442.9 64.1 444.1 67.2 415.6 71.2ZM445 73.2 472.4 66 472.5 69.3 478.8 63.3 470.4 61.1 471.9 64 444.5 71.2ZM474.1 73.1 499.3 65.5 499.4 68.8 505.5 62.6 497 60.8 498.7 63.6 473.5 71.2ZM502.9 73.2 527.3 69.6 527 72.9 533.9 67.6 525.7 64.5 527 67.6 502.6 71.2ZM531.9 73.2 559.3 70 558.9 73.3 565.9 68.2 557.9 64.9 559 68 531.7 71.2ZM560.9 73.2 593.1 69.2 592.7 72.5 599.7 67.4 591.6 64.1 592.8 67.2 560.7 71.2ZM589.9 73.2 623.5 68.5 623.1 71.7 630 66.5 621.9 63.4 623.2 66.5 589.7 71.2ZM618.9 73.2 652.5 68.5 652.1 71.7 659.1 66.5 650.9 63.4 652.2 66.5 618.7 71.2ZM9.7 102.1 17.6 101.6 17 104.8 24.3 100.1 16.5 96.4 17.5 99.6 9.6 100.1ZM38.8 102.1 50.1 100.5 49.8 103.8 56.7 98.6 48.6 95.5 49.8 98.5 38.5 100.1ZM67.8 102.1 81.7 99.9 81.4 103.2 88.2 97.9 80.1 94.9 81.4 98 67.5 100.1ZM96.8 102.1 114.2 99.5 113.9 102.7 120.8 97.5 112.7 94.4 113.9 97.5 96.5 100.1ZM125.8 102.1 144.9 99.7 144.5 103 151.5 97.9 143.4 94.7 144.6 97.7 125.6 100.1ZM154.8 102.1 173.4 100.4 172.9 103.7 180.1 98.8 172.2 95.3 173.3 98.4 154.6 100.1ZM183.8 102.1 201.6 100.7 201.1 103.9 208.3 99.2 200.4 95.6 201.5 98.7 183.6 100.1ZM212.8 102.1 231.8 101.3 231.1 104.5 238.5 100 230.8 96.2 231.7 99.3 212.7 100.1ZM241.8 102.1 264.5 100.7 263.9 104 271.3 99.3 263.4 95.6 264.4 98.7 241.7 100.1ZM270.9 102.1 295.6 98.4 295.3 101.7 302.2 96.4 294 93.4 295.3 96.4 270.6 100.1ZM300.1 102 325.1 92.7 325.5 96 331.1 89.5 322.5 88.1 324.4 90.9 299.4 100.1ZM329 102 355.7 93.6 355.9 96.9 361.9 90.6 353.4 88.9 355.1 91.7 328.4 100.1ZM357.9 102.1 385.5 98.2 385.2 101.5 392.1 96.2 384 93.1 385.3 96.2 357.6 100.1ZM386.9 102.1 414.5 98.2 414.2 101.5 421.1 96.2 413 93.1 414.3 96.2 386.6 100.1ZM415.9 102.1 443.6 98.2 443.2 101.5 450.2 96.2 442 93.1 443.3 96.2 415.6 100.1ZM445 102 470.4 95.8 470.4 99.1 476.8 93.2 468.4 90.9 469.9 93.9 444.5 100.1ZM474.1 102 493.4 96 493.6 99.3 499.6 93 491.1 91.3 492.8 94.1 473.5 100.1ZM503 102.1 520.3 98.9 520.1 102.2 526.8 96.7 518.6 94 520 97 502.6 100.1ZM531.9 102.1 551.7 98.9 551.4 102.2 558.3 96.8 550.1 93.9 551.4 96.9 531.6 100.1ZM560.9 102.1 582.5 98.8 582.1 102.1 589 96.9 580.9 93.8 582.2 96.9 560.6 100.1ZM589.9 102.1 611.6 99.4 611.2 102.6 618.2 97.5 610.2 94.3 611.4 97.4 589.7 100.1ZM618.9 102.1 637 100.5 636.5 103.7 643.7 98.9 635.8 95.4 636.9 98.5 618.7 100.1ZM9.9 130.9 14.2 129.7 14.3 133 20.4 126.9 12 125 13.6 127.8 9.4 129ZM39 130.9 45.3 128.8 45.5 132.1 51.4 125.7 42.9 124.1 44.7 126.9 38.4 129ZM68.1 130.9 79.7 126 80.2 129.3 85.6 122.4 77 121.5 78.9 124.2 67.3 129ZM97 130.9 115.3 125.8 115.4 129.1 121.6 123 113.1 121 114.8 123.9 96.4 129ZM125.8 131 146.4 128.2 146.1 131.5 153 126.3 145 123.1 146.2 126.2 125.6 129ZM154.8 131 176.3 128.2 175.9 131.5 182.9 126.4 174.8 123.2 176 126.3 154.6 129ZM183.8 131 206.4 127.9 206 131.2 213 126 204.9 122.9 206.1 125.9 183.6 129ZM212.9 131 237 127.3 236.7 130.6 243.6 125.3 235.5 122.3 236.7 125.3 212.6 129ZM241.9 131 271.2 126.2 270.9 129.5 277.8 124.1 269.6 121.2 270.9 124.2 241.6 129ZM270.9 130.9 307.9 124.3 307.7 127.6 314.4 122.1 306.2 119.3 307.6 122.3 270.5 129ZM300.1 130.9 346.6 113 347 116.2 352.6 109.6 344 108.4 345.9 111.1 299.4 129ZM329 130.9 385.7 113.9 385.8 117.2 391.9 111 383.4 109.1 385.1 112 328.4 129ZM357.9 131 418.4 122.4 418.1 125.7 425 120.5 416.9 117.4 418.2 120.5 357.6 129ZM386.9 131 447.6 122.4 447.3 125.7 454.2 120.5 446.1 117.4 447.3 120.4 386.6 129ZM415.9 131 476.7 122.4 476.4 125.7 483.3 120.5 475.2 117.4 476.4 120.4 415.6 129ZM444.9 131 503 122.1 502.7 125.4 509.6 120.1 501.4 117.1 502.7 120.2 444.6 129ZM473.9 131 523 123.3 522.7 126.5 529.5 121.2 521.4 118.2 522.7 121.3 473.6 129ZM502.9 131 546.4 124.9 546 128.2 553 123 544.8 119.9 546.1 122.9 502.6 129ZM531.9 131 570.1 127.6 569.6 130.9 576.8 126 568.8 122.5 569.9 125.6 531.7 129ZM560.8 131 588.2 129.8 587.5 133.1 594.9 128.5 587.2 124.7 588.1 127.8 560.7 129ZM589.8 131 607.4 131.4 606.5 134.5 614.2 130.5 606.7 126.1 607.4 129.4 589.8 129ZM618.7 131 631.5 132.7 630.3 135.7 638.4 132.6 631.4 127.4 631.8 130.7 618.9 129ZM10 159.8 19.8 155.9 20.2 159.2 25.7 152.5 17.1 151.4 19 154.1 9.3 157.9ZM39.1 159.8 51.2 154.3 51.8 157.6 57 150.7 48.4 149.9 50.4 152.5 38.3 157.9ZM68.2 159.7 80 152.8 80.9 155.9 85.3 148.5 76.7 148.7 79 151 67.2 158ZM97.2 159.7 108.1 153 109.1 156.1 113.4 148.6 104.7 149 107.1 151.3 96.2 158ZM126.1 159.8 142.6 152.2 143.2 155.5 148.4 148.5 139.7 147.8 141.8 150.4 125.3 157.9ZM155 159.8 186.3 149.7 186.5 153 192.5 146.7 184 145 185.7 147.8 154.4 157.9ZM183.9 159.8 226.6 150.5 226.5 153.8 233 148.1 224.7 145.6 226.1 148.6 183.5 157.9ZM212.9 159.8 254.1 153 253.8 156.3 260.6 150.9 252.4 148 253.7 151 212.5 157.9ZM241.9 159.8 280.7 153.5 280.4 156.8 287.2 151.4 279 148.5 280.3 151.6 241.6 157.9ZM270.9 159.8 305.9 152.7 305.8 156 312.4 150.3 304.1 147.7 305.5 150.7 270.5 157.9ZM300.1 159.8 327.2 147.4 327.8 150.7 333 143.7 324.3 143 326.4 145.6 299.3 157.9ZM329.2 159.8 349.5 149.8 350.2 153 355.2 145.9 346.5 145.5 348.6 148 328.3 158ZM358 159.8 379.3 154.5 379.3 157.8 385.7 151.9 377.3 149.7 378.9 152.6 357.5 157.9ZM387 159.8 412 154.6 411.8 157.9 418.4 152.3 410.1 149.7 411.6 152.7 386.5 157.9ZM415.9 159.8 443.5 155.5 443.2 158.7 450 153.4 441.9 150.5 443.1 153.5 415.6 157.9ZM444.8 159.9 470.8 159.7 470 162.9 477.6 158.7 469.9 154.5 470.7 157.7 444.8 157.9ZM473.6 159.8 491.3 162.2 490 165.3 498.1 162.2 491.2 157 491.5 160.3 473.9 157.9ZM502.7 159.8 512 160.9 510.9 164 518.9 160.6 511.8 155.6 512.2 158.9 502.9 157.9ZM531.7 159.8 536.8 160.3 535.7 163.4 543.7 160 536.5 155.1 537 158.3 531.9 157.9ZM560.6 159.8 562.7 160.3 561.3 163.3 569.6 160.8 563.1 155.1 563.2 158.4 561 157.9ZM589.2 159.7 589.8 160.1 587.3 162.2 595.9 163.4 592.3 155.5 591 158.5 590.4 158.1ZM618 159.5 619.4 161 616.4 162.5 624.5 165.5 622.8 157 620.9 159.7 619.6 158.2ZM10.3 188.5 11.3 187.7 12.7 190.7 16.1 182.7 7.5 184.1 10.1 186.1 9 187ZM39.5 188.4 41.4 186 43.4 188.6 44.9 180.1 36.8 183.3 39.8 184.7 37.9 187.1ZM68.6 188.2 72.3 181.4 74.7 183.6 74.6 174.9 67.3 179.6 70.5 180.4 66.8 187.3ZM97.5 188.3 103.3 180.5 105.4 183 106.5 174.4 98.6 178.1 101.6 179.3 95.9 187.2ZM126.3 188.5 134.5 181.5 136 184.4 139 176.3 130.5 178 133.2 180 125 187ZM155.2 188.6 166.7 181.1 167.8 184.2 171.8 176.5 163.2 177.2 165.6 179.4 154.2 186.9ZM184.1 188.7 198.9 183.2 199.2 186.5 204.9 179.9 196.3 178.6 198.2 181.3 183.4 186.8ZM212.9 188.7 230.9 184.9 230.7 188.2 237.3 182.5 229 180 230.4 182.9 212.5 186.8ZM241.9 188.7 262.5 184.8 262.4 188.1 269 182.5 260.8 179.8 262.2 182.8 241.5 186.8ZM271 188.7 291.7 183.9 291.7 187.2 298.1 181.4 289.8 179 291.3 181.9 270.5 186.8ZM300.1 188.7 308.1 185 308.7 188.3 313.9 181.3 305.3 180.6 307.3 183.2 299.3 186.8ZM329.1 186.8 327.7 186.2 329.8 183.6 321.1 184.4 326.4 191.3 326.9 188 328.3 188.7ZM357.8 186.7 345.1 186.1 346.1 183 338.3 186.8 345.7 191.3 345 188.1 357.7 188.7ZM386.8 186.7 370.3 186.6 371.1 183.4 363.5 187.6 371 191.8 370.3 188.6 386.7 188.7ZM415.7 186.7 398.5 188.3 399 185 391.8 189.9 399.8 193.4 398.7 190.3 415.8 188.7ZM444.2 186.9 429.4 197.2 428.3 194.1 424.4 201.9 433.1 201 430.6 198.8 445.3 188.6ZM473 187.2 464.1 199.3 462 196.8 460.9 205.4 468.7 201.7 465.7 200.5 474.6 188.3ZM502.1 187 498.6 190 497.1 187 494 195.1 502.5 193.4 499.8 191.5 503.4 188.5ZM531.2 186.9 529.7 187.9 528.7 184.8 524.5 192.4 533.2 191.8 530.8 189.6 532.3 188.6ZM560.3 187 559.6 187.4 558.6 184.4 554.8 191.7 563 191.1 560.7 188.9 561.3 188.5ZM589.2 187.2 588.8 187.7 587.5 185.6 585.9 191.9 592.1 189.9 589.9 188.7 590.3 188.3ZM618.3 187.6 618.2 188 616.7 187.1 617.6 191.5 620.9 188.4 619.2 188.3 619.3 187.9ZM10.3 217.2 10.7 216.7 12.3 218.9 13.7 211.8 7 214.4 9.5 215.6 9 216.1ZM39.6 217.1 40.2 215.8 42.7 217.9 42.3 209.2 35.2 214.2 38.4 214.9 37.8 216.2ZM68.7 216.8 69.8 211.5 72.8 212.9 70.2 204.6 64.5 211.2 67.8 211.1 66.7 216.4ZM97.7 216.7 98.3 211.3 101.4 212.5 98 204.5 93 211.5 96.3 211.1 95.7 216.5ZM126.7 216.5 126.3 213.3 129.6 213.8 124.6 206.7 121.3 214.7 124.4 213.5 124.7 216.7ZM155.5 216.1 153.5 213 156.6 211.9 148.8 207.9 149.6 216.6 151.8 214.1 153.9 217.2ZM184.1 215.7 180.9 214.2 183 211.6 174.4 212.1 179.4 219.2 180.1 216 183.3 217.5ZM212.9 215.7 209.9 214.9 211.4 212 203.1 214.4 209.5 220.2 209.5 216.9 212.5 217.6ZM241.8 215.6 239.2 215.4 240.3 212.3 232.3 215.6 239.4 220.6 239 217.3 241.6 217.6ZM270.6 215.6 268.3 216 268.6 212.7 261.7 218 269.9 221 268.6 218 270.9 217.6ZM299.2 215.8 298.1 216.5 297 213.4 292.9 221 301.5 220.5 299.1 218.2 300.3 217.5ZM328.2 215.9 327.6 216.3 326.6 213.4 322.8 220.5 330.9 219.9 328.6 217.8 329.2 217.4ZM357.6 215.6 353.1 216.5 353.3 213.2 346.6 218.7 354.8 221.4 353.4 218.4 357.9 217.6ZM386.6 215.6 376.2 217.3 376.5 214 369.6 219.3 377.8 222.3 376.5 219.2 386.9 217.6ZM415.6 215.6 398.7 218.4 399 215.1 392.2 220.5 400.4 223.4 399.1 220.4 415.9 217.6ZM444.4 215.7 425.3 224.1 424.8 220.8 419.5 227.8 428.2 228.5 426.2 225.9 445.2 217.5ZM473.1 215.9 465.7 222.8 464.1 219.9 461.4 228.2 469.8 226.1 467.1 224.3 474.5 217.4ZM502.4 216.2 502 216.6 501 214.9 499.6 219.8 504.5 218.4 502.9 217.4 503.2 217ZM531.6 216.4 531.4 216.6 531 215.7 530.1 218 532.6 217.5 531.8 217 532 216.8ZM560.4 217.5 559.8 216.7 560.2 215.8 561.2 215.7 561.8 216.6 561.4 217.5ZM589.5 216.7 589.6 217 588.4 217.1 590.6 219.1 591.1 216.2 590.2 216.8 590.1 216.5ZM618.4 216.9 618.6 217.3 617 217.9 621.2 220 620.6 215.3 619.5 216.7 619.2 216.3ZM10.2 244.8 9.6 244.4 11.9 242.6 4.4 241.5 7.5 248.4 8.6 245.8 9.1 246.2ZM39.4 244.8 38.4 243.8 41.2 242.1 32.9 239.7 35.3 248.1 37 245.2 38 246.2ZM68.4 244.8 64.8 241.3 67.6 239.6 59.3 237.2 61.7 245.6 63.4 242.7 67 246.2ZM97.2 244.7 90.3 240.4 92.7 238.1 84 237.6 88.3 245.2 89.3 242.1 96.2 246.4ZM126 244.6 114.7 240.3 116.6 237.6 108 238.8 113.6 245.4 114 242.2 125.3 246.5ZM154.9 244.6 138.9 240.4 140.5 237.5 132.1 239.7 138.4 245.7 138.4 242.4 154.5 246.5ZM183.7 244.5 161.5 244.4 162.3 241.2 154.7 245.4 162.3 249.6 161.5 246.4 183.7 246.5ZM212.6 244.5 180.8 247.9 181.2 244.6 174.1 249.6 182.1 253 181 249.9 212.8 246.5ZM241.6 244.5 202.2 249.4 202.6 246.2 195.5 251.3 203.6 254.5 202.4 251.4 241.8 246.5ZM270.6 244.5 228.2 250.5 228.6 247.2 221.6 252.5 229.7 255.6 228.5 252.5 270.9 246.5ZM299.6 244.5 262.7 250.8 262.9 247.5 256.1 252.9 264.3 255.8 263 252.8 299.9 246.5ZM328.6 244.5 300.7 249.3 300.9 246 294.1 251.4 302.3 254.3 301 251.2 328.9 246.5ZM357.6 244.5 333.9 247.5 334.3 244.2 327.3 249.3 335.4 252.5 334.2 249.5 357.9 246.5ZM386.7 244.5 374.2 245.5 374.7 242.3 367.5 247.1 375.4 250.7 374.3 247.5 386.8 246.5ZM415.7 244.5 414.5 244.6 415.1 241.4 407.8 246.1 415.7 249.7 414.7 246.6 415.8 246.5ZM444.5 244.6 443.8 244.9 443.5 241.9 438.1 247.8 446 249.2 444.4 246.6 445.1 246.4ZM473.4 244.6 471.2 245.6 470.6 242.3 465.3 249.2 474 250 471.9 247.4 474.2 246.4ZM502.4 244.6 499.5 245.8 499 242.5 493.5 249.2 502.1 250.3 500.2 247.6 503.1 246.4ZM531.3 245 530.9 245.4 529.8 243.2 527.6 249.1 533.8 247.8 531.8 246.5 532.3 246.1ZM560.4 246 560.8 246.3 559.3 247.6 564.6 248.2 562.3 243.4 561.5 245.3 561.1 245ZM589.5 246.5 590.4 246.7 588.7 249.6 597.2 247.7 591.1 241.5 591 244.8 590.1 244.6ZM618.5 246.3 619.1 246.5 617.4 248.7 624.5 248 620.2 242.4 619.7 245 619.1 244.8ZM10.3 273.7 9.7 273.2 12.4 271.4 4.3 269.5 7 277.4 8.5 274.6 9 275.1ZM39.3 273.6 38.4 272.9 41 270.9 32.4 269.5 35.8 277.5 37.2 274.5 38.1 275.2ZM67.9 273.4 59.9 271.3 61.5 268.4 53.1 270.5 59.3 276.5 59.4 273.2 67.4 275.4ZM96.8 273.4 77.6 271.8 78.7 268.7 70.8 272.3 78 277.1 77.5 273.8 96.6 275.4ZM125.7 273.4 100.1 272.3 101 269.1 93.2 273 100.6 277.5 100 274.3 125.6 275.4ZM154.7 273.4 126.2 272.7 127.1 269.5 119.4 273.5 126.9 277.9 126.2 274.7 154.7 275.4ZM183.6 273.4 156 275.3 156.6 272 149.3 276.7 157.2 280.4 156.2 277.3 183.8 275.4ZM212.6 273.4 188.6 276.5 189 273.2 182 278.3 190.1 281.5 188.9 278.5 212.8 275.4ZM241.6 273.4 219.9 276.3 220.2 273 213.2 278.1 221.3 281.3 220.1 278.3 241.8 275.4ZM270.6 273.4 250.8 275.9 251.2 272.6 244.1 277.7 252.2 280.9 251 277.9 270.8 275.4ZM299.6 273.4 280.8 275.7 281.3 272.4 274.2 277.5 282.3 280.7 281.1 277.7 299.9 275.4ZM328.6 273.4 309.7 275.5 310.1 272.2 303 277.2 311.1 280.6 309.9 277.5 328.8 275.4ZM357.7 273.4 338.4 274.2 339.1 271 331.7 275.5 339.4 279.4 338.5 276.2 357.8 275.4ZM386.8 273.4 365 273.2 365.8 270 358.2 274.1 365.7 278.4 364.9 275.2 386.7 275.4ZM415.7 273.4 392.3 275.3 392.8 272 385.6 276.8 393.5 280.4 392.4 277.3 415.8 275.4ZM444.6 273.4 422.5 276.5 422.9 273.2 415.9 278.4 424.1 281.5 422.8 278.5 444.9 275.4ZM473.6 273.4 453.4 276.2 453.8 273 446.8 278.2 454.9 281.3 453.7 278.2 473.9 275.4ZM502.6 273.4 484.4 276 484.7 272.7 477.8 278 485.9 281.1 484.7 278 502.9 275.4ZM531.6 273.4 516.5 276.6 516.7 273.3 510.1 279 518.4 281.5 517 278.6 532 275.4ZM560.5 273.4 549.9 276.4 549.8 273.1 543.6 279.1 552.1 281.2 550.4 278.3 561.1 275.4ZM589.4 273.5 582.8 275.9 582.5 272.6 576.8 279.2 585.4 280.5 583.5 277.8 590.1 275.3ZM618.4 273.5 612.3 276.5 611.6 273.3 606.7 280.4 615.3 280.8 613.2 278.3 619.2 275.3ZM9.8 302.3 -3.8 300.6 -2.6 297.5 -10.7 300.8 -3.7 305.9 -4.1 302.6 9.5 304.3ZM38.7 302.3 23.5 301.3 24.5 298.2 16.6 301.9 24 306.6 23.4 303.3 38.6 304.3ZM67.7 302.3 54 301.6 54.9 298.4 47.1 302.2 54.5 306.8 53.9 303.6 67.6 304.3ZM96.7 302.3 84.8 301.6 85.8 298.5 78 302.3 85.3 306.9 84.7 303.6 96.6 304.3ZM125.7 302.3 111.2 301.8 112.1 298.7 104.4 302.6 111.8 307.1 111.1 303.8 125.7 304.3ZM154.7 302.3 131.7 302.8 132.4 299.6 124.9 304 132.6 308 131.8 304.8 154.7 304.3ZM183.6 302.3 153.6 304.2 154.2 300.9 146.9 305.6 154.7 309.3 153.7 306.2 183.8 304.3ZM212.6 302.3 183 304.5 183.6 301.2 176.3 306 184.2 309.6 183.2 306.5 212.8 304.3ZM241.6 302.3 215.7 304.4 216.2 301.1 209 305.9 216.9 309.5 215.8 306.4 241.8 304.3ZM270.6 302.3 247.4 304.6 247.9 301.3 240.7 306.2 248.7 309.7 247.6 306.5 270.8 304.3ZM299.6 302.3 277.3 304.8 277.7 301.5 270.6 306.5 278.7 309.9 277.5 306.8 299.8 304.3ZM328.6 302.3 306.7 304.7 307.2 301.4 300.1 306.5 308.1 309.8 306.9 306.7 328.8 304.3ZM357.6 302.3 334.9 304.5 335.4 301.2 328.2 306.1 336.2 309.6 335.1 306.5 357.8 304.3ZM386.7 302.3 360 304.8 360.5 301.6 353.3 306.4 361.2 309.9 360.1 306.8 386.8 304.3ZM415.6 302.3 385.5 305.6 385.9 302.3 378.8 307.3 386.8 310.7 385.7 307.6 415.9 304.3ZM444.6 302.3 414.5 305.8 415 302.5 407.9 307.5 415.9 310.8 414.8 307.7 444.9 304.3ZM473.6 302.3 444.7 305.8 445.1 302.6 438 307.6 446.1 310.9 444.9 307.8 473.9 304.3ZM502.6 302.3 475.1 306.2 475.5 302.9 468.5 308.1 476.6 311.2 475.4 308.1 502.9 304.3ZM531.6 302.3 505.8 306 506.1 302.7 499.2 307.9 507.3 311 506.1 307.9 531.9 304.3ZM560.6 302.3 536.7 305.7 537.1 302.4 530.1 307.6 538.3 310.7 537 307.7 560.9 304.3ZM589.6 302.3 567.6 305.9 567.9 302.6 561 307.9 569.2 310.9 567.9 307.8 590 304.3ZM618.6 302.3 597.6 306.5 597.8 303.2 591.2 308.8 599.4 311.4 598 308.4 619 304.3ZM9.7 331.2 -4.3 330.7 -3.4 327.5 -11.1 331.4 -3.7 335.9 -4.4 332.7 9.6 333.2ZM38.7 331.2 22.8 330.5 23.7 327.4 15.9 331.3 23.4 335.8 22.7 332.5 38.6 333.2ZM67.8 331.2 52.1 329.9 53.2 326.8 45.3 330.4 52.5 335.2 52 331.9 67.6 333.2ZM96.8 331.2 82.8 330.3 83.8 327.1 76 330.8 83.3 335.5 82.7 332.3 96.6 333.2ZM125.7 331.2 112.1 331.3 112.9 328.1 105.3 332.4 113 336.5 112.1 333.3 125.7 333.2ZM154.7 331.2 140.3 331.8 140.9 328.6 133.5 333.1 141.3 337 140.3 333.8 154.7 333.2ZM183.7 331.2 168.5 332 169.1 328.8 161.7 333.4 169.5 337.2 168.6 334 183.8 333.2ZM212.7 331.2 197.8 331.7 198.5 328.5 191.1 333 198.8 336.9 197.9 333.7 212.7 333.2ZM241.7 331.2 228.3 331.9 228.9 328.6 221.5 333.2 229.3 337 228.4 333.9 241.8 333.2ZM270.6 331.2 255.8 333 256.2 329.7 249.2 334.8 257.3 338.1 256.1 335 270.8 333.2ZM299.6 331.2 280.2 333.8 280.5 330.5 273.5 335.7 281.6 338.8 280.4 335.8 299.9 333.2ZM328.6 331.2 305.3 334.4 305.7 331.1 298.7 336.3 306.9 339.4 305.6 336.4 328.9 333.2ZM357.6 331.2 333.4 334.6 333.8 331.3 326.8 336.5 334.9 339.6 333.7 336.6 357.9 333.2ZM386.6 331.2 362.4 334.6 362.8 331.3 355.8 336.5 364 339.6 362.7 336.6 386.9 333.2ZM415.6 331.2 391.4 334.6 391.8 331.3 384.9 336.5 393 339.6 391.7 336.6 415.9 333.2ZM444.7 331.2 419.9 333.9 420.3 330.6 413.2 335.6 421.2 339 420.1 335.9 444.9 333.2ZM473.7 331.2 447.2 333.7 447.7 330.4 440.5 335.3 448.5 338.8 447.4 335.7 473.9 333.2ZM502.7 331.2 475.5 334.2 475.9 330.9 468.8 335.9 476.9 339.3 475.7 336.2 502.9 333.2ZM531.7 331.2 505.7 333.9 506.2 330.7 499.1 335.7 507.1 339 505.9 335.9 531.9 333.2ZM560.7 331.2 536.4 334.1 536.9 330.8 529.8 335.9 537.9 339.1 536.7 336.1 560.9 333.2ZM589.6 331.2 566.1 334.7 566.4 331.4 559.5 336.6 567.7 339.7 566.4 336.6 589.9 333.2ZM618.6 331.2 596.3 334.9 596.6 331.7 589.8 337.1 598 339.9 596.6 336.9 619 333.2ZM9.6 360.1 3.1 360.4 3.7 357.2 -3.7 361.7 4.1 365.5 3.2 362.4 9.7 362.1ZM38.7 360.1 32.9 360 33.8 356.8 26.1 360.9 33.6 365.2 32.9 362 38.7 362.1ZM67.7 360.1 57.5 359.5 58.4 356.4 50.6 360.2 58 364.8 57.3 361.5 67.6 362.1ZM96.7 360.1 78.8 360.1 79.6 356.9 72 361.1 79.6 365.3 78.8 362.1 96.7 362.1ZM125.7 360.1 105.2 360.7 105.9 357.4 98.4 361.9 106.1 365.8 105.3 362.7 125.7 362.1ZM154.7 360.1 137.3 360.4 138 357.2 130.5 361.5 138.2 365.6 137.3 362.4 154.7 362.1ZM183.7 360.1 170.1 360.4 170.8 357.2 163.3 361.6 171 365.6 170.1 362.4 183.7 362.1ZM212.7 360.1 200.1 360.4 200.8 357.2 193.3 361.6 201 365.6 200.1 362.4 212.7 362.1ZM241.7 360.1 229.2 360.8 229.8 357.6 222.4 362.2 230.3 365.9 229.3 362.8 241.8 362.1ZM270.6 360.1 258.2 361.9 258.5 358.6 251.6 363.8 259.7 366.9 258.5 363.8 270.9 362.1ZM299.5 360.1 284.6 363.9 284.6 360.6 278.2 366.5 286.6 368.7 285.1 365.8 300 362ZM328.5 360.1 309.2 364.3 309.3 361 302.8 366.7 311.1 369.2 309.6 366.2 328.9 362.1ZM357.6 360.1 336.8 363 337.1 359.7 330.2 364.9 338.3 368.1 337.1 365 357.9 362.1ZM386.6 360.1 365.8 363 366.1 359.7 359.2 364.9 367.3 368.1 366.1 365 386.9 362.1ZM415.6 360.1 394.8 363 395.1 359.7 388.2 364.9 396.3 368.1 395.1 365 415.9 362.1ZM444.7 360.1 425.9 362.2 426.3 358.9 419.2 363.9 427.3 367.3 426.1 364.2 444.9 362.1ZM473.7 360.1 462.8 360.8 463.3 357.6 456 362.3 463.9 366 462.9 362.8 473.8 362.1ZM502.7 360.1 499 360.2 499.7 357 492.2 361.4 499.9 365.4 499 362.2 502.8 362.1ZM531.8 360.1 529.7 359.9 530.7 356.8 522.9 360.5 530.2 365.2 529.6 361.9 531.7 362.1ZM560.8 360.1 557.8 360.1 558.5 356.9 551 361.3 558.7 365.3 557.8 362.1 560.8 362.1ZM589.7 360.1 586.2 360.6 586.6 357.3 579.6 362.5 587.8 365.6 586.5 362.5 589.9 362.1ZM618.7 360.1 615.3 360.6 615.6 357.3 608.7 362.5 616.8 365.6 615.6 362.5 618.9 362.1ZM9.9 389.1 9.1 388.9 10.4 386.1 2.8 388.6 8.9 393.8 8.8 390.7 9.5 390.9ZM38.8 389.1 38.1 389.1 39 386.4 32.3 389.4 38.3 393.5 37.9 390.7 38.6 390.8ZM67.7 389 66.9 389 67.6 385.9 60.3 390.1 67.7 394 66.9 390.9 67.7 390.9ZM96.7 389 94.8 389 95.5 385.8 88 390.2 95.7 394.2 94.8 391 96.7 391ZM125.7 389 122 388.8 123 385.7 115.2 389.6 122.7 394.1 122 390.8 125.7 391ZM154.7 389 148.2 388.7 149.2 385.5 141.4 389.4 148.8 393.9 148.2 390.7 154.7 391ZM183.7 389 174.9 389.1 175.7 385.9 168.1 390.1 175.8 394.3 174.9 391.1 183.7 391ZM212.7 389 203.4 389.2 204.1 386 196.6 390.4 204.3 394.4 203.4 391.2 212.7 391ZM241.7 389 232.6 389.5 233.3 386.2 225.9 390.9 233.7 394.6 232.8 391.5 241.8 391ZM270.6 389 261.9 390.3 262.2 387 255.3 392.3 263.5 395.3 262.2 392.2 270.9 391ZM299.4 389 291 392.3 290.5 389.1 285 395.7 293.6 396.9 291.7 394.2 300.1 390.9ZM328.4 389 320.2 391.8 319.9 388.5 314.1 395 322.7 396.5 320.9 393.7 329.1 390.9ZM357.6 389 349.4 390.1 349.8 386.8 342.8 392 350.9 395.1 349.7 392.1 357.9 391ZM386.6 389 379.3 390 379.6 386.7 372.7 391.9 380.8 395 379.5 391.9 386.9 391ZM415.6 389 410 389.7 410.4 386.4 403.4 391.6 411.5 394.7 410.3 391.7 415.9 391ZM445 389 441.1 388.1 442.6 385.2 434.3 387.6 440.8 393.4 440.7 390.1 444.5 390.9ZM474.2 389.1 471.8 388 473.9 385.4 465.2 386 470.4 393 471 389.8 473.3 390.9ZM502.9 389 502.1 388.9 503.2 386.1 495.7 389.1 502.3 393.9 501.9 390.8 502.7 390.9ZM531.8 389.1 531.1 389 532 386.1 524.8 389.6 531.6 393.8 531 390.8 531.7 390.9ZM560.7 389.1 560 389.1 560.6 386.2 553.9 390.3 561 393.8 560.1 390.9 560.8 390.9ZM589.7 389.1 589 389.2 589.3 386.2 583 390.9 590.3 393.7 589.2 391 589.9 390.9ZM618.7 389.1 618 389.2 618.3 386.2 612 390.9 619.3 393.7 618.2 391 618.9 390.9ZM9.9 418.6 9.7 418.4 10.7 417.6 7.4 417 8.7 420.1 9.2 419 9.4 419.2ZM38.7 418.6 38.4 418.6 38.6 417.6 36.5 419 38.7 420.1 38.5 419.2 38.7 419.1ZM67.6 418.4 67.3 418.5 67.4 417.1 64.5 419.3 67.9 420.6 67.4 419.3 67.7 419.3ZM96.6 418.4 96.2 418.4 96.4 416.8 93 419.3 97 420.9 96.4 419.4 96.8 419.3ZM125.7 418.2 125.2 418.2 125.8 416.2 120.9 418.6 125.6 421.5 125.2 419.5 125.7 419.5ZM154.9 418.3 154.4 418.1 155.5 416.4 150.2 417.3 153.9 421.3 154 419.3 154.5 419.4ZM183.8 418.4 183.5 418.3 184.2 416.9 180.2 418 183.2 420.8 183.2 419.2 183.6 419.3ZM212.7 418.4 212.4 418.4 212.8 417 209.3 418.8 212.7 420.7 212.3 419.3 212.7 419.3ZM241.7 418.4 241.3 418.4 241.6 416.9 238.2 419 241.8 420.8 241.4 419.3 241.7 419.3ZM270.6 418.4 270.3 418.4 270.4 416.9 267.1 419.5 271.1 420.8 270.4 419.4 270.8 419.3ZM299.3 418.3 298.9 418.7 297.9 416.6 295.7 422.1 301.5 421.1 299.7 419.7 300.2 419.4ZM328.4 418.1 327.8 418.4 327.1 415.8 323.3 421.8 330.4 421.9 328.5 419.9 329.1 419.6ZM357.7 418 357 418.1 357.4 415.4 351.6 419.5 358.1 422.3 357.2 419.7 357.8 419.7ZM386.8 418.1 386.2 418.1 386.8 415.8 381.1 418.8 386.7 422 386.2 419.6 386.7 419.6ZM415.8 418.2 415.3 418.2 416 416.3 411.1 418.3 415.5 421.4 415.2 419.4 415.7 419.5ZM445.1 418.3 444.7 418 446.3 416.6 440.7 416.1 443.2 421.1 444 419.1 444.4 419.4ZM474.2 418.3 473.8 418 475.6 416.7 469.9 415.5 471.9 421 472.9 419 473.3 419.4ZM502.9 418.4 502.5 418.3 503.3 417 499.3 417.9 502.3 420.8 502.3 419.2 502.7 419.3ZM531.9 418.4 531.5 418.4 532.1 417 528.4 418.3 531.5 420.7 531.4 419.2 531.7 419.3ZM560.8 418.4 560.4 418.4 560.8 417 557.5 418.8 560.8 420.7 560.4 419.3 560.8 419.3ZM589.7 418.4 589.4 418.5 589.5 417.1 586.5 419.3 590 420.6 589.5 419.3 589.9 419.3ZM618.7 418.4 618.4 418.5 618.5 417.1 615.6 419.3 619.1 420.6 618.5 419.3 618.9 419.3Z"/>
</defs>
<rect width="1417" height="2705" fill="#fff"/>
<g transform="translate(78.9 89.6)"><g clip-path="url(#pc)">
<rect width="626.5" height="419.4" fill="#f4f5f5"/>
<path fill="#def0ed" d="M15.5 443.1 57.2 443.1 57.2 419.9 50.4 388.9 46.4 385.9 38.7 383.7 23.2 384.1 15.5 385.6 11.5 388.9 14.1 416 14.3 443.1 15.5 443.1ZM-19.3 361.8 0 361.8 4.5 342.4 0 325.6 -23.2 325.6 -23.2 361.8 -19.3 361.8ZM626.5 269.9 634.3 272.7 649.7 272.7 649.7 244.3 611.1 245.1 561.6 249.5 568.4 253.3 576.3 256.1 626.5 269.9ZM30.9 176.6 42.5 177.1 69.6 174.9 100.6 173.8 116 172 123.8 169.1 131.5 164.1 146.8 148.8 160.1 144.9 170.2 139.3 177.9 136.2 205 131.2 251.4 127.1 371.3 122.5 425.4 117.1 448.6 111.9 483.4 98.1 498.9 93.9 580.1 92.5 589.7 90.7 603.3 84.1 614.9 81.2 634.3 79.1 649.7 79.1 649.7 -21.6 314 -21.6 314 -6.1 310.6 9.4 310.2 17.1 303.8 32.6 302.5 40.4 293.9 50.7 282.3 60.4 270.7 65.6 247.5 70.6 174.5 79.1 147 83.8 131.5 88.2 108.3 97.5 77.4 106.7 73.5 108.8 69.6 112.6 64.2 121.7 59.4 133.3 50.3 146.3 42.5 152.3 19.3 162.5 16.6 164.3 13.7 168.1 23.2 174.5 30.9 176.6Z"/>
<path fill="#c9eae6" d="M321 96 336.5 98.1 363.5 98.1 425.4 93.7 437 91.5 448.6 87.2 463.2 79.1 498.9 49 527.2 32.6 518.2 19.8 514.4 16.6 506.6 13.5 382.9 13.7 359.7 15 344.2 17.8 336.5 21.3 328.1 28.7 324.9 32.8 322.3 40.4 318.4 48.1 312.6 55.8 308.9 75.2 309.8 83 313.3 91.4 317.1 94.5 321 96Z"/>
<path fill="#a8ddd5" d="M363.5 63.8 394.5 66.7 429.3 67.2 437 65.5 444.8 62.1 459.2 52 453.7 44.2 444.8 39.2 433.2 36.9 413.8 36.7 386.8 38.7 367.4 42.5 352.6 48.1 341.1 55.8 344.2 58.7 348.1 60.5 363.5 63.8Z"/>
<path fill="#f5efdc" d="M77.4 311.4 92.8 308.8 108.3 307.7 201.1 310.3 270.7 307.6 332.6 306.5 351.9 305 363.5 300.6 394.5 280.2 421.1 265 460.2 259 480.3 253.3 490.5 241.7 495 238 506.6 232.8 533.7 228.4 587.9 223.8 634.3 218.5 649.7 218.5 649.7 125.6 634.3 125.6 614.9 129.1 591.7 131 498.9 131.3 460.2 137.6 437 139.8 344.2 140.3 317.1 141.3 270.7 144.9 251.4 148 201.1 150.5 185.6 152.6 177.9 158.8 165.7 172 160.8 179.8 148.8 195.3 135.4 207.3 127.6 211.5 119.9 214 77.4 218.5 73.5 222.7 67.3 234 59.8 265 64.3 288.2 69.6 305.4 73.5 310.2 77.4 311.4ZM27.1 64.9 38.7 67.5 42.5 66.9 48.8 63.6 42.5 60.2 38.7 59.7 30.9 60.8 24.7 63.6 27.1 64.9ZM108.3 41.7 116 42.9 197.2 43.6 270.7 40.4 274.6 27.5 278.5 3.3 279.6 -6.1 279.6 -21.6 98.3 -21.6 98.3 -6.1 104.8 40.4 108.3 41.7Z"/>
<path fill="#f6e9c5" d="M270.7 276.6 286.2 275.2 301.7 271.4 319.9 265 340.3 254.5 344.2 253.6 425.4 253.3 429.3 252.2 433.2 248 436.4 241.7 444.8 233.4 463.7 210.7 474.6 203 477.6 195.3 473.6 183.6 468.8 175.9 465.1 172 431.9 160.4 398.9 156.5 367.4 154.6 344.2 154.3 328.7 156.2 313.3 161.3 301.9 168.1 286.9 187.5 278.5 202.1 274.6 204.8 270.7 205.7 193.4 206.2 185.6 208.6 174 218.3 150 241.7 147 249.3 142.3 257.2 170.2 266.9 189.5 271.1 235.9 275.1 270.7 276.6Z"/>
<path fill="#ecd8a5" d="M340.3 218.9 348.1 219.7 359.7 219 375.1 215.4 394.5 207.2 415.9 195.3 363.8 172 348.1 170 340.3 171.4 336.5 173.7 328.7 181.2 319.2 195.3 322.8 203 328.7 212.1 332.6 215.5 340.3 218.9Z"/>
<use href="#grid"/><use href="#coast"/><use href="#arr0"/>
</g>
<rect width="626.5" height="419.4" fill="none" stroke="#000" stroke-width="1.6"/>
<text x="20.5" y="41.7" font-size="36" font-weight="bold">a</text>
</g>
<g transform="translate(783.4 89.6)"><g clip-path="url(#pc)">
<rect width="626.5" height="419.4" fill="#fffefe"/>
<path fill="#ffe8e8" d="M452.5 443.1 649.7 443.1 649.7 81.9 576.3 81.5 526 79.5 495 79.2 429.3 83.7 336.5 86.5 193.4 94 177.9 96.3 135.4 106.5 23.2 128.8 3.9 131.2 -23.2 131.4 -23.2 342.4 0 342.4 19.3 346.7 38.7 351.9 73.5 364.1 123.8 375.3 170.2 391 185.6 394.4 205 394.5 263 388.5 317.1 385.9 348.1 385 359.7 386.2 375.1 390.6 406.1 402.1 425.4 408.2 429.3 410.6 450.7 427.6 450.7 443.1 452.5 443.1Z"/>
<path fill="#ffd2d2" d="M398.4 300.4 421.6 302.7 514.4 302.8 556.9 301.9 587.9 299.1 607.2 294.4 618.7 288.2 626.7 280.4 634.3 268.1 649.7 268.1 649.7 121.7 634.3 121.7 618.8 119.4 580.1 110.1 524.8 98.4 502.8 96.4 487.3 97.3 433.2 103.6 336.5 106.2 235.9 121.1 196.4 129.4 186.5 133.3 158.6 146.8 116 164.3 102.8 175.9 84.9 195.3 64.3 218.5 60.7 226.2 85.1 250.2 104.4 265.4 131.5 279.6 143.1 283.9 154.7 286.8 174 290 193.4 291.1 263 287.5 300.4 288.2 358.2 292.1 398.4 300.4Z"/>
<path fill="#ffbcbc" d="M317.1 250 348.1 253.3 433.2 250.5 464.1 247.3 537.6 236.5 560.8 231.3 580.1 224.4 589.9 218.5 621.3 195.3 580.1 164.3 553.1 153.3 512.2 133.3 502.8 131.8 460.2 128.9 425.4 128.2 394.5 128.9 336.5 133 305.5 139.7 266.9 146.1 247.5 155.3 212.7 176.7 193.4 187.5 175.4 203 158 214.6 158.5 218.5 174 231.1 181.8 236.5 189.5 239.7 208.8 242.1 278.5 245.3 317.1 250Z"/>
<path fill="#e8e8ff" d="M116 67.5 174 69.6 274.6 69.7 340.3 66.8 437 66.5 506.6 64.6 576.3 58.4 649.7 58.4 649.7 -21.6 -23.2 -21.6 -23.2 44.2 3.9 44.4 38.7 48.1 50.3 50.7 89 63.1 104.4 66.2 116 67.5Z"/>
<path fill="#d2d2ff" d="M270.7 48.1 367.4 48.6 502.8 44.2 568.5 39.8 649.7 39.6 649.7 -21.6 38.7 -21.6 38.7 -6.1 96.7 20.1 143.1 37.5 162.4 41.8 185.6 44.6 270.7 48.1Z"/>
<path fill="#bcbcff" d="M328.7 29 359.7 29.7 425.4 24.9 556.9 20.7 649.7 20.3 649.7 -21.6 123.8 -21.6 123.8 -6.1 177.9 21.6 193.4 23.8 278.5 23.2 328.7 29Z"/>
<path fill="#a6a6ff" d="M332.6 9.5 375.1 9.5 502.8 6.6 568.5 3.9 649.7 3.8 649.7 -21.6 207.4 -21.6 207.4 -6.1 243.7 2.1 263 5.4 332.6 9.5Z"/>
<use href="#grid"/><use href="#coast"/><use href="#arr0"/>
</g>
<rect width="626.5" height="419.4" fill="none" stroke="#000" stroke-width="1.6"/>
<text x="20.5" y="41.7" font-size="36" font-weight="bold">b</text>
</g>
<g transform="translate(78.9 594.4)"><g clip-path="url(#pc)">
<rect width="626.5" height="419.4" fill="#f4f5f5"/>
<path fill="#def0ed" d="M-19.3 443.1 85.3 443.1 85.3 419.9 91.9 396.6 97.3 373.4 95.3 365.6 91.8 357.9 85.1 351.2 77.4 345.5 69.6 341.2 58 337.1 42.5 334.1 15.5 331 0 329.7 -23.2 329.7 -23.2 443.1 -19.3 443.1ZM611.1 272.8 634.3 276.6 649.7 276.6 649.7 241.7 622.7 242.2 576.3 247.4 560.8 251.5 546.5 257.2 584 267.5 611.1 272.8ZM108.3 145.6 112.2 147.9 116 148.8 119.9 148.4 123.8 147.3 131.5 143.1 139.2 136.3 148 125.6 151.6 113.9 157.6 102.3 170.2 97.4 181.8 95.2 205 95 263 101.7 321 105.4 460.2 107 502.8 108.5 538.9 106.2 572.4 99.2 604.6 86.8 634.3 71.3 649.7 71.3 649.7 -21.6 313.4 -21.6 313.4 -6.1 306.3 13.2 301.7 17.3 286.2 24.4 270.7 28.7 239.8 39.8 205 48.3 185.6 57.6 177.9 59.5 170.2 58.7 166.3 57.3 154 48.1 142.6 32.6 139.2 22.6 135.4 16.8 131.5 12.4 123.8 7.8 116 6.3 100.6 6.8 85.1 8.2 73.5 10.5 69.6 12.7 65.7 16.6 61.1 24.9 69.4 48.1 79.3 55.8 85.1 65 87 71.3 88.4 86.8 93.9 125.6 100.6 136.8 108.3 145.6Z"/>
<path fill="#c9eae6" d="M-19.3 443.1 22.9 443.1 22.9 419.9 18.2 388.9 15.5 383.6 10.6 377.3 5.9 373.4 0 370.3 -23.2 370.3 -23.2 443.1 -19.3 443.1ZM386.8 90.9 425.4 93.3 452.5 91.1 470.7 86.8 498.9 74.3 510.5 71.6 526 72 553.1 77.3 560.8 76.8 565 75.2 568.5 73.1 574 67.5 587.9 46.3 598.6 32.6 592.8 9.4 586.1 -6.1 582.1 -21.6 348.1 -21.6 348.1 -6.1 344.2 -4.9 340.3 -2.1 324.9 18.6 290.1 43.5 282.3 47.4 269.8 52 259.1 58.5 247.5 62.6 228.2 65.8 204.3 67.5 220.4 70.3 235.9 75.4 259.1 84.9 266.9 86.6 351.9 86.9 386.8 90.9ZM112.2 75.3 116 77.1 123.8 76.7 151.5 71.3 147 68.3 143.1 67.7 116 67.5 112.2 68.7 109.4 71.3 112.2 75.3Z"/>
<path fill="#a8ddd5" d="M398.4 75.5 413.8 77.9 429.3 78.4 440.9 76.8 452.5 73.4 471.1 63.6 475.7 54.9 484.9 44.2 491.2 39.6 495 38.8 498.9 39.1 506.6 42.4 545.3 66.7 553.1 69.2 560.8 68.3 566.9 63.6 571.4 55.8 575 40.4 575.6 32.6 574.8 28.7 570.1 17.1 560.8 4.9 549.2 -2.9 545.3 -4.3 537.6 -5.2 533.7 -4.7 526 -1.5 502.8 14.3 491.2 19.3 479.6 21.1 417.7 24.2 386.8 27.2 359.7 33.1 348.1 36.5 339.4 40.4 356.1 63.6 398.4 75.5Z"/>
<path fill="#87d0c5" d="M553.1 64.1 556.9 64 560.8 62.5 566.5 55.8 569.3 44.2 568.9 32.6 564.5 21 556.9 10.6 553.1 7.3 545.3 3.3 537.6 2.9 531.8 5.5 527.6 9.4 522.8 17.1 519.6 24.9 523.6 36.5 530.7 48.1 541.5 58.7 545.3 61.4 553.1 64.1Z"/>
<path fill="#64b9ae" d="M553.1 60.3 556.9 59.9 560.8 57.7 564.4 52 566.1 44.2 565.2 32.6 560.2 21 553.1 12.6 545.3 8.3 541.5 7.8 537.6 8.6 531.8 13.2 528 21 527.2 24.9 528.4 32.6 531.3 40.4 539.1 52 545.3 57.4 553.1 60.3Z"/>
<path fill="#3e9d95" d="M549.2 56.1 553.1 57 556.9 56.2 560.8 52.7 563.4 44.2 563.3 36.5 559.4 24.9 553.5 17.1 549.2 13.8 545.3 12.2 541.5 12 537.6 13.5 534.2 17.1 532.3 21 531.3 24.9 532.1 32.6 534.8 40.4 539.4 48.1 545.3 53.9 549.2 56.1Z"/>
<path fill="#23867e" d="M549.2 53.1 553.1 53.9 556.9 52.5 560 48.1 561.3 40.4 560.1 32.6 556.9 25.3 553.1 20.2 549.2 17.2 545.3 15.7 541.5 15.8 537.6 18.5 535.9 21 534.6 24.9 534.9 32.6 539.6 44.2 545.3 50.8 549.2 53.1Z"/>
<path fill="#0a6f67" d="M549.2 50.2 553.1 50.7 556.9 48.3 558.6 44.2 558.8 36.5 556.9 30 554 24.9 549.2 20.3 545.3 18.9 541.5 19.7 537.6 24.7 537.4 32.6 541.5 42.9 545.3 47.7 549.2 50.2Z"/>
<path fill="#015a50" d="M545.3 44.4 549.2 47.1 553.1 47.3 555.8 44.2 556.9 40.4 555.7 32.6 553.1 27.4 549.2 23.5 545.3 22.3 541.5 24 539.8 28.7 540.7 36.5 545.3 44.4Z"/>
<path fill="#00463b" d="M545.3 40.4 549.2 43.6 553.1 42.4 554.1 36.5 553.3 32.6 550.6 28.7 549.2 27.2 545.3 26.3 543.2 28.7 542.5 32.6 545.3 40.4Z"/>
<path fill="#003c30" d="M549.2 37.2 549.2 33.5 548.5 36.5 549.2 37.2Z"/>
<path fill="#f5efdc" d="M-19.3 305.6 0 305.6 3.9 304.4 14.1 299.8 27.1 290.8 34.8 286.9 59.1 280.4 69.6 275.3 77.4 270.1 82.2 265 87.4 257.2 94.3 241.7 100.5 234 105.1 230.1 112.2 226.7 119.9 226.3 131.5 227.5 162.2 234 174 239.3 189.5 247.8 201.1 252.2 263 266.8 293.9 275.7 317.1 279.2 348.1 280.5 363.5 278.6 410 267.9 452.5 260.3 475.7 252.2 489.6 245.6 502.8 237.9 526 231.4 553.1 227.1 634.3 218.5 649.7 218.5 649.7 144.9 634.3 144.9 611.1 141.8 580.1 141 514.4 144.6 498.9 144.7 483.4 140.3 460.2 128.6 452.5 125.6 433.2 122 266.9 121.7 251.4 123.5 220.4 130.8 205 135.6 197.2 139 189.5 143.8 175.8 156.5 154.7 164.8 143.1 167.5 127.6 169.6 112.2 170 100.6 168.9 77.4 163.2 65.7 157.7 54.1 145.6 29.8 125.6 19.2 86.8 10.9 75.2 6.4 63.6 0 59.7 -23.2 59.7 -23.2 305.6 -19.3 305.6ZM174 52.1 181.8 51.2 185.6 49.3 191.8 44.2 202.6 32.6 206.6 17.1 208.8 12.8 212.7 9.1 216.6 8.8 247.4 13.2 274.6 12.9 278.5 9.8 282.3 4.8 288.4 -6.1 288.4 -21.6 159.2 -21.6 155.7 -13.9 152.8 -2.2 152.3 17.1 154.1 28.7 156.6 36.5 161.5 44.2 166.3 48.9 174 52.1Z"/>
<path fill="#f6e9c5" d="M-19.3 263.7 0 263.7 3.4 257.2 0 244.3 -23.2 244.3 -23.2 263.7 -19.3 263.7ZM348.1 241.9 375.1 244.3 425.4 245.3 437 244.8 448.6 242.7 460.2 238.2 472.1 230.1 486.6 218.5 491.2 209.5 495 204.4 498.9 201.9 502.8 201.1 584 202.9 634.3 197.4 649.7 197.4 649.7 163 634.3 163 614.9 159 595.6 157 576.3 156.6 564.7 157.6 549.9 160.4 537.1 164.3 520.4 172 510.5 181.1 506.6 183 502.8 183.6 498.9 181.9 492.3 172 487.3 168.6 468 151.8 456.4 144.2 440.9 137.9 425.4 135.7 348.1 136.5 337.9 137.2 332.6 139.1 282.3 166.4 270.7 171.1 254.5 175.9 258.1 179.8 270.7 184.9 278.5 189.6 291.5 203 324.9 231.2 336.5 238.1 348.1 241.9ZM170.2 45.3 174 46.7 177.9 46.7 181.8 45.4 185.6 42.8 193.4 32.6 195.4 24.9 196.2 9.4 195.3 1.6 193.2 -6.1 189.5 -13.6 186.2 -17.7 181.8 -21 179.5 -21.6 173.7 -21.6 170.2 -20.1 166.3 -16.7 160.2 -6.1 157.6 5.5 157.1 17.1 159.9 32.6 164.5 40.4 170.2 45.3Z"/>
<path fill="#ecd8a5" d="M421.6 230.2 437 231.7 444.8 230.4 452.5 227.5 464.7 218.5 469.9 206.9 473.3 195.3 473.1 187.5 470 175.9 463.2 164.3 456.4 158.8 448.6 154.6 437 151.4 425.4 151.1 394.5 155.5 377 160.4 368.3 164.3 359.4 175.9 340.8 195.3 359.7 207.1 375.3 218.5 379 220.1 394.5 224.9 421.6 230.2ZM174 42 177.9 42 181.8 40.4 186.1 36.5 188.8 32.6 190.2 28.7 192.1 17.1 191.4 5.5 187.5 -6.1 181.8 -12.9 177.9 -14.5 174 -14.4 170.2 -12.5 166.3 -8.3 163.3 -2.2 160.6 9.4 160.8 21 163.8 32.6 170.2 40.3 174 42Z"/>
<path fill="#e1c684" d="M425.4 219.2 437 222.2 448.6 220.2 452.5 218.1 456.1 214.6 461 206.9 464.6 195.3 463.6 183.6 458 172 452.5 166.3 448.6 163.8 437 161.2 429.3 161.9 422 164.3 414.6 172 405.8 187.5 408.3 195.3 414.3 206.9 419.9 214.6 425.4 219.2ZM174 37.7 177.9 37.7 181.8 35.8 184.8 32.6 187.8 24.9 188.9 17.1 188.6 9.4 186.8 1.6 182.2 -6.1 177.9 -8.8 174 -8.8 169.9 -6.1 165.4 1.6 163.6 9.4 163.6 21 165.6 28.7 170.2 35.6 174 37.7Z"/>
<path fill="#d3aa5f" d="M440.9 214.7 448.6 212.2 454 206.9 457.9 199.1 458.8 195.3 458.6 187.5 455.5 179.8 448.6 172.4 444.8 170.5 437 169.7 429.3 173.2 425.4 177.2 420.4 187.5 420.5 191.4 422.1 199.1 426.1 206.9 433.2 213.1 440.9 214.7ZM174 33.6 177.9 33.6 181.8 30.7 184.6 24.9 186.1 17.1 184.7 5.5 181.8 -0.4 177.9 -3.5 174 -3.6 170.2 -0.5 167.3 5.5 165.9 13.2 167.4 24.9 170.2 30.6 174 33.6Z"/>
<path fill="#c38936" d="M437 207 440.9 207.7 444.8 206.9 448.6 204.3 452.2 199.1 453.4 195.3 453.2 187.5 451.4 183.6 448 179.8 444.8 177.7 440.9 176.9 437 177.4 433.2 179.6 429.6 183.6 427.8 187.5 428.1 195.3 429.3 199.1 433.2 204.5 437 207ZM174 28.5 177.9 28.5 181 24.9 183.2 17.1 181.8 7 177.9 2 174 1.9 170.8 5.5 168.7 13.2 170.2 23.8 174 28.5Z"/>
<path fill="#ad7021" d="M440.9 199.5 444.8 197.9 446.5 195.3 447.1 191.4 444.8 186.1 440.9 184.8 435.9 187.5 435 191.4 437 197.4 440.9 199.5ZM174 21.4 178.1 21 179.2 17.1 177.9 9.4 173.9 9.4 172.6 17.1 174 21.4Z"/>
<use href="#grid"/><use href="#coast"/><use href="#arr1"/>
</g>
<rect width="626.5" height="419.4" fill="none" stroke="#000" stroke-width="1.6"/>
<text x="20.5" y="41.7" font-size="36" font-weight="bold">c</text>
</g>
<g transform="translate(783.4 594.4)"><g clip-path="url(#pc)">
<rect width="626.5" height="419.4" fill="#fffefe"/>
<path fill="#ffe8e8" d="M394.5 443.1 649.7 443.1 649.7 71.3 634.3 71.3 576.3 68.4 495 69.5 433.2 63.3 359.7 57.4 344.2 57 328.7 58.4 290.1 64.8 150.8 84.6 127.6 86.3 73.5 87 7.7 97.6 0 98.4 -23.2 98.4 -23.2 347.1 0 347.1 61.9 351.3 131.5 352 138.2 354 143.1 356.7 174 377.6 182 381.1 193.4 383.1 290.1 384.9 301.7 383.4 332.6 377 351.9 376.2 359.7 378.8 367.4 384 375.1 391.8 384.2 404.4 391.4 419.9 391.4 443.1 394.5 443.1Z"/>
<path fill="#ffd2d2" d="M491.2 393.9 502.8 395.5 518.2 395 564.7 389.3 576.3 388.9 591.7 390.3 634.3 396.6 649.7 396.6 649.7 90.7 634.3 90.7 572.4 86.8 498.9 84.6 421.6 77 351.9 78.2 324.9 81 201.4 102.3 127.6 124.3 104.4 136.4 72.7 148.8 43.8 164.3 30.9 172.8 19.3 182.1 7.7 193.4 0 203 -23.2 203 -23.2 253.3 0 253.3 15.5 261.9 50.3 285.2 61.9 291 77.4 293.3 135.4 293.7 158.6 290.5 185.6 282 193.4 280.4 278.5 276.7 290.1 276.7 297.8 277.9 313.3 282.7 351.9 297.4 390.6 316.5 417.7 326.9 425.4 335.3 448.6 365.5 460.2 377.2 475.7 387.9 491.2 393.9Z"/>
<path fill="#ffbcbc" d="M487.3 315.4 498.9 318.3 506.6 318.5 526 316.7 568.5 309.8 649.7 309.2 649.7 113.9 634.3 113.9 603.3 109.2 576.3 106.4 495 103.4 440.9 96 417.7 94.6 394.5 95.5 367.4 98.3 332.6 103 286.2 110.9 266.9 115.2 251.4 119.7 217.5 133.3 190.6 148.8 145.4 187.5 139.2 194 131.5 199.6 112.2 211.3 77.4 226.2 88.4 230.1 96.7 234.2 119.9 250 127.6 251.6 139.2 250 158.6 245.3 174 243.1 293.9 235.6 313.3 231.9 344.2 222.6 355.8 222.8 402.4 230.1 415.5 234 411.9 241.7 408.1 257.2 417.7 280.4 437 289.7 475.7 310.5 487.3 315.4Z"/>
<path fill="#ffa6a6" d="M491.2 258.9 502.8 261.1 510.5 259.7 518.2 255.7 527.9 245.6 530.4 241.7 523.8 214.6 525.7 210.7 537.6 201.8 548.2 191.4 556.9 179.6 568.5 166.7 592.4 144.9 585.8 137.2 580.1 132.2 574.7 129.4 498.9 124.2 429.3 114.5 406.1 114.5 362.6 121.7 324.9 130 283.8 137.2 274.6 145.1 261.3 160.4 255.6 164.3 258.6 179.8 262.4 187.5 270.7 192.9 277.6 195.3 359.7 195.8 410 204.2 452.5 209.6 468 213.8 469.7 214.6 472.7 218.5 477.8 230.1 477.1 234 473.5 241.7 479.6 251 483.4 254.6 491.2 258.9Z"/>
<path fill="#ff9090" d="M410 172.1 432.6 172 448.6 169.4 465 164.3 479.5 156.5 440.9 145.1 429.3 142.9 417.7 142.1 410 142.7 398.4 145.8 376.5 156.5 375 160.4 398.4 169.3 410 172.1Z"/>
<path fill="#e8e8ff" d="M77.4 63.6 135.4 64.6 150.8 62.5 189.5 54.5 293.9 47.5 348.1 41.6 417.7 49 649.7 55.8 649.7 -21.6 -23.2 -21.6 -23.2 49.1 0 49.1 15.5 54.6 30.9 58.3 54.1 61.7 77.4 63.6Z"/>
<path fill="#d2d2ff" d="M127.6 40.4 205 40.2 290.1 36.2 309.4 32.8 336.5 23 348.1 21 359.7 22.5 398.4 34.2 413.8 36.4 440.9 35.9 498.9 32.6 649.7 32.6 649.7 -21.6 34.8 -21.6 34.8 -6.1 49.6 13.2 58 21.2 65.7 26.8 77.4 32.6 116 39.4 127.6 40.4Z"/>
<path fill="#bcbcff" d="M228.2 21.1 286.2 22.3 295.2 21 305.5 14.6 324.9 -0.2 335.3 -6.1 335.3 -21.6 117.8 -21.6 117.8 -6.1 154.2 9.4 170.2 14.8 181.8 17.6 228.2 21.1ZM417.7 21 564.7 13.4 649.7 13.2 649.7 -21.6 365.1 -21.6 365.1 -6.1 379 0.4 402.2 16.3 410 19.7 417.7 21Z"/>
<path fill="#a6a6ff" d="M541.5 -2.1 649.7 -1.6 649.7 -21.6 475.8 -21.6 475.8 -6.1 541.5 -2.1Z"/>
<use href="#grid"/><use href="#coast"/><use href="#arr1"/>
</g>
<rect width="626.5" height="419.4" fill="none" stroke="#000" stroke-width="1.6"/>
<text x="20.5" y="41.7" font-size="36" font-weight="bold">d</text>
</g>
<g transform="translate(78.9 1099.2)"><g clip-path="url(#pc)">
<rect width="626.5" height="419.4" fill="#f4f5f5"/>
<path fill="#def0ed" d="M560.8 265.2 576.3 268.7 649.7 268.8 649.7 243.3 580.1 243.7 558.5 245.6 557.7 249.5 554.8 253.3 552.8 261.1 560.8 265.2ZM3.9 195.8 23.2 196.9 46.4 196.6 55.3 195.3 61.9 192.9 73.5 190.5 112.2 187.9 119.9 186.5 177.9 163.8 200.5 156.5 208.8 150.1 216.6 146.5 263.6 133.3 270.7 130.5 273.3 129.4 286.2 118.8 297.8 112.2 309.4 109 324.9 106.6 348.1 105.3 440.9 105.8 471.3 102.3 498.9 95.3 514.4 95.6 537.6 98.4 553.1 104.2 556.9 106.8 562.4 113.9 563.6 125.6 568.5 127.2 576.3 128.6 595.6 128.6 611.1 127.6 618.8 125.9 619.8 125.6 627.9 110.1 634.3 103.6 649.7 103.6 649.7 -21.6 238.8 -21.6 238.8 -6.1 233.1 5.5 226.6 32.6 213.2 44.2 201.1 52.3 193.4 55.5 181.8 57.5 174 57.2 162.4 54.3 150.8 48.1 139.2 43.9 136.6 40.4 132.7 17.1 129 5.5 123.8 -2.6 119.9 -5.3 116 -6.1 112.2 3.9 108 32.6 112.2 44.7 121.7 52 128.2 63.6 116 71.3 99.4 86.8 77.4 102.3 61.9 121.5 57.6 125.6 50.3 130.2 42.5 132.9 38.7 133.3 -23.2 133.3 -23.2 195.3 3.9 195.8Z"/>
<path fill="#c9eae6" d="M410 94.7 433.2 95 444.8 93.4 456.4 90.2 465 86.8 479.6 73.5 483.4 70.7 491.2 67.5 498.9 67 518.2 69.7 529.8 70.1 541.5 68.8 553.1 65.3 564.7 58.9 572 52 574.8 48.1 577.5 36.5 574.9 24.9 568.5 15.4 556.9 6.2 541.5 -0.3 529.8 -2.2 518.2 -2.5 506.6 -1.1 491.2 3.6 464.1 13.6 452.5 15.9 440.9 16.8 417.7 16.7 367.4 7.7 344.2 6.4 328.7 9.2 313.3 14.8 282.3 30.4 263 37.1 244.8 48.1 245 59.7 247.5 68.7 251.4 73.6 259.1 77.6 266.9 78.9 274.6 78.9 317.1 71 348.1 68.8 351.9 69.2 359.7 72.6 376.4 86.8 379 88 394.5 92.6 410 94.7Z"/>
<path fill="#a8ddd5" d="M425.4 79.1 429.3 78.7 437 75.7 448 67.5 444.8 61.2 440.9 56.8 433.2 52.4 421.6 51.7 413.8 54.2 406.1 60 401.1 67.5 413.8 76.2 425.4 79.1ZM518.2 60.2 529.8 61.9 541.5 60.2 551.2 55.8 559.7 48.1 563 40.4 563.2 32.6 560.3 24.9 553.1 17.2 545.3 12.7 537.6 10.2 529.8 9.5 522.1 10 514.4 11.9 506.6 15.7 496.4 24.9 493.3 32.6 492.9 36.5 493.3 40.4 497 48.1 507.6 55.8 518.2 60.2Z"/>
<path fill="#87d0c5" d="M522.1 56.3 533.7 57.3 541.5 55.4 549.2 50.9 554.7 44.2 556.5 36.5 555 28.7 552.7 24.9 545.3 18.5 537.6 15.4 526 14.7 514.4 18.7 507.1 24.9 503.7 32.6 504 40.4 505.4 44.2 508 48.1 512.6 52 522.1 56.3Z"/>
<path fill="#64b9ae" d="M522.1 52.9 529.8 54.3 537.6 53.3 545.3 49.4 549.2 45.3 551.7 40.4 551.8 32.6 550.3 28.7 545.3 23 537.6 19 529.8 18 522.1 19.3 513 24.9 508.9 32.6 509.1 40.4 513.9 48.1 522.1 52.9Z"/>
<path fill="#3e9d95" d="M522.1 50 526 51.2 533.7 51.4 541.5 48.6 546.2 44.2 548.2 40.4 548.3 32.6 546.5 28.7 542.9 24.9 537.6 22 533.7 21.1 526 21.3 518.2 24.6 514.4 28.7 512.6 32.6 512.8 40.4 514.8 44.2 518.2 47.7 522.1 50Z"/>
<path fill="#23867e" d="M526 48.7 533.7 49.1 537.6 47.9 542.7 44.2 545.1 40.4 545.9 36.5 545.2 32.6 543 28.7 537.6 24.7 533.7 23.5 526 23.7 522.1 25.3 518.2 28.4 515.8 32.6 515.2 36.5 516 40.4 518.2 44 522.1 47.1 526 48.7Z"/>
<path fill="#0a6f67" d="M522.1 44.2 529.8 47 537.6 45.2 542.2 40.4 543.1 36.5 542.3 32.6 539.3 28.7 533.7 25.9 526 26.3 522.1 28.3 518.8 32.6 518 36.5 519 40.4 522.1 44.2Z"/>
<path fill="#015a50" d="M529.8 44.6 533.7 44.3 537.6 41.9 539 40.4 540.2 36.5 539.2 32.6 533.7 28.4 529.8 28 526 29 521.9 32.6 520.9 36.5 522.1 40.4 526 43.6 529.8 44.6Z"/>
<path fill="#00463b" d="M529.8 41.7 534.8 40.4 537 36.5 535.1 32.6 533.7 31.7 529.8 31 525.8 32.6 524.3 36.5 526 40.2 529.8 41.7Z"/>
<path fill="#f5efdc" d="M189.5 323.3 201.1 322.8 235.9 310.3 259.1 305.6 348.1 304.9 359.7 303.1 366.1 299.8 371.1 295.9 377.9 288.2 385.9 272.7 389 261.1 392.4 257.2 412.4 249.5 442.6 245.6 468 243.9 479.6 242.1 487.3 239.1 502.8 230.1 526 225.4 591.7 220.4 649.7 218.5 649.7 148.8 634.3 148.8 614.9 151.3 587.9 152.6 564.7 152.2 545.3 150.1 527.2 144.9 510.5 131.8 499.2 125.6 485.8 121.7 468 119.3 444.8 118.1 413.8 117.9 344.2 122 324.9 126.2 292.6 141 255.3 148.1 237.4 152.7 234.4 156.5 228.2 161.5 211.2 172 177.9 183.4 143.2 199.1 119.9 207.9 38.7 220.3 7.7 222.8 -23.2 223 -23.2 272.7 38.7 272.7 50.3 274.4 89 284.4 112.2 293.3 139.2 301.4 145.4 303.7 158.4 311.4 174 318.8 181.8 321.7 189.5 323.3ZM38.7 94.6 42.5 93.5 46.4 90.6 56.3 79.1 64.8 63.6 71.1 48.1 71.1 28.7 74.1 5.5 77.4 -6.1 77.4 -21.6 -23.2 -21.6 -23.2 73.9 0 73.9 3.9 83 7 86.8 11.6 89.7 23.2 93.6 38.7 94.6ZM174 45 181.8 46.8 193.4 45.3 201.1 41.1 205.8 36.5 208.4 32.6 208.2 24.9 205 17.2 201.1 12.8 193.4 8.3 189.5 7.3 181.8 7.1 174 9.4 166.3 15 162.5 21 161.1 24.9 160.9 32.6 166.5 40.4 174 45Z"/>
<path fill="#f6e9c5" d="M108.3 261.5 123.8 262.2 147 259.7 157.6 257.2 175.9 249.5 185.6 248.2 270.7 249.5 293.9 248.3 311.9 245.6 316.3 241.7 323.1 237.9 336.5 236.2 351.9 235.9 375.1 238.8 402.2 239.9 429.3 239.8 448.7 237.9 460.2 234.3 467.5 230.1 478.2 218.5 488.5 203 493.7 172 485.3 160.4 483.6 152.7 475.7 144.9 469.3 141 460.2 137.6 448.6 135 437 133.6 398.4 133.6 348.1 136.4 336.5 138.4 305.5 147.1 270.7 152.7 243.6 172 228.6 179.8 155.3 206.9 143.1 215.1 131.5 220.8 119.9 224.7 92.8 231.5 65.2 241.7 73.5 247 85.1 251.1 96.7 257.6 108.3 261.5ZM634.3 195.3 649.7 195.3 649.7 166.7 634.3 166.7 622.7 164.8 603.3 163.5 564.7 163.3 549.2 164.4 533.7 166.8 528.5 168.1 526.1 172 535.4 175.9 549.2 178.8 614.9 185.7 622.7 188 634.3 195.3ZM181.8 40.9 189.2 40.4 193.4 38.7 199.7 32.6 199.4 24.9 197.4 21 193.4 17.4 189.5 15.6 181.8 15.1 177.9 16.2 171.7 21 169.6 24.9 168.9 28.7 170.2 33.8 174 37.8 181.8 40.9Z"/>
<path fill="#ecd8a5" d="M181.8 234 197.2 234.2 205 233.3 216.6 229.5 232.7 222.4 235.9 217 239.7 214.6 251.4 212.7 266.9 212 351.9 212.4 363.8 214.6 386.8 224.4 402.2 229 421.6 231.3 437 230.2 444.8 227.4 453.4 222.4 458.2 218.5 462.4 210.7 466.5 203 469.7 187.5 468 172 462 156.5 459.4 152.7 448.6 147.7 433.2 144.3 413.8 143.8 375.1 147 348.1 150.3 321 155.2 305.5 159.3 293.9 163.7 278.5 173.9 266.7 179.8 224.6 195.3 222 199.1 216.6 202.7 208.8 204.9 193.4 206.9 183.8 210.7 168.1 222.4 168.8 226.2 171.1 230.1 174 232.1 181.8 234ZM177.9 32.8 181.8 34.7 185.6 35 189.5 33.7 191.1 32.6 192.2 28.7 190.6 24.9 185.6 22.2 181.8 22.5 177.9 25.1 176.7 28.7 177.9 32.8Z"/>
<path fill="#e1c684" d="M413.8 218.8 429.3 219.4 433.4 218.5 437 216.3 448.6 204.3 455 191.4 456.1 187.5 455.3 179.8 451.5 168.1 443.4 156.5 436.3 152.7 425.4 150.9 410 151.4 398.4 153.8 375.1 161.2 348.1 164.3 336.5 169.2 312.1 183.6 312.3 187.5 308.5 191.4 301.7 194 294.6 195.3 324.9 197.8 379 205.2 394.5 209.8 410 217.7 413.8 218.8Z"/>
<path fill="#d3aa5f" d="M417.7 207 429.3 206.1 437 202 443.4 195.3 447.2 187.5 445.8 175.9 441.8 168.1 437 163.1 433.2 160.5 425.4 157.7 413.8 158 406.1 160.6 399.5 164.3 392 172 386.7 183.6 386.8 187.5 397.1 199.1 406.1 204.2 417.7 207Z"/>
<path fill="#c38936" d="M413.8 199.8 421.6 200.6 429.3 198.9 435 195.3 440.6 187.5 440.5 179.8 439.3 175.9 433.6 168.1 429.3 165.4 421.6 163.6 413.8 164.4 405.9 168.1 401.8 172 399.3 175.9 397.2 183.6 397.7 187.5 404.5 195.3 413.8 199.8Z"/>
<path fill="#ad7021" d="M421.6 195.3 429.3 192.9 433.2 189.5 434.6 187.5 434.9 179.8 433.3 175.9 429.3 171.5 425.4 169.6 417.7 168.9 410 172 406.3 175.9 404.6 179.8 404.1 183.6 404.9 187.5 410 192.4 413.8 194.3 421.6 195.3Z"/>
<path fill="#955910" d="M413.8 188.3 417.7 189.8 421.6 190 427.4 187.5 429.1 183.6 428.5 179.8 425.5 175.9 421.6 174.5 417.7 174.7 413.8 176.6 411.5 179.8 410.9 183.6 413.8 188.3Z"/>
<use href="#grid"/><use href="#coast"/><use href="#arr2"/>
</g>
<rect width="626.5" height="419.4" fill="none" stroke="#000" stroke-width="1.6"/>
<text x="20.5" y="41.7" font-size="36" font-weight="bold">e</text>
</g>
<g transform="translate(783.4 1099.2)"><g clip-path="url(#pc)">
<rect width="626.5" height="419.4" fill="#fffefe"/>
<path fill="#ffe8e8" d="M394.5 443.1 649.7 443.1 649.7 77 498.9 76.4 485.7 75.2 456.4 69.5 440.9 68.1 340.3 67.9 317.1 69.1 282.3 75.5 247.5 79.1 171.2 83 50.3 86.6 -23.2 86.8 -23.2 353.1 282.3 353.4 301.7 354.1 335.4 357.9 351.9 361 355.8 362.4 365.2 369.5 382 388.9 392.7 419.9 392.7 443.1 394.5 443.1Z"/>
<path fill="#ffd2d2" d="M533.7 388.9 572.4 390.1 649.7 390.2 649.7 89.1 498.9 83.8 479.6 81.3 448.6 75.1 433.2 73.6 344.2 73.4 322.7 75.2 282.3 84.9 255.3 87.9 181.8 91.9 119.9 97.1 69.6 100.2 -23.2 101 -23.2 317.2 65.7 317.7 119.9 320 189.5 324.8 317.1 327 351.9 328.5 367.4 333.7 379 341.5 395.2 357.9 413.8 381.8 421.6 387.4 425.4 388.2 533.7 388.9Z"/>
<path fill="#ffbcbc" d="M537.6 326.9 576.3 329.5 649.7 329.6 649.7 101.5 634.3 101.5 580.1 96.6 498.9 91.1 433.2 80.5 348.1 80.8 328.7 83.3 293.9 92.8 274.6 97 201.7 102.3 177.9 104.9 92.8 118.7 50.3 126.5 38.7 127.2 -23.2 127.2 -23.2 275.5 42.5 275.7 73.5 283.3 92.8 286.6 143.1 291.6 181.8 296.9 212.7 298.8 251.4 300.4 282.3 300.4 305.5 298.8 340.3 294.4 351.9 294.3 359.7 296.2 367.4 299.4 390.6 313.8 402.2 319.8 417.7 324.6 506.6 325.2 537.6 326.9Z"/>
<path fill="#ffa6a6" d="M444.8 284.5 479.6 287.6 522.1 287.6 545.3 285.8 618.8 276.8 649.7 276 649.7 122.6 634.3 122.6 622.7 118.2 603.3 114.4 502.8 104 437 93.7 394.5 93.7 332.6 97 307.8 102.3 286.2 111.3 274.6 114.7 185.6 125.7 170.2 128.7 154 133.3 145.2 137.2 96.7 171.2 79.7 187.5 69.5 199.1 67.8 203 85.6 241.7 96.7 250.6 108.3 257.8 116 260.8 127.6 263.7 154.7 267.9 228.2 274.3 255.3 276 274.6 276.1 293.9 272.3 324.9 258.4 332.6 255.9 344.2 254.1 363.5 254.5 379 256.3 390.6 259.2 402.2 264.6 425.4 279.1 444.8 284.5Z"/>
<path fill="#ff9090" d="M491.2 254 498.9 255.5 510.5 255 526 250.1 532.3 245.6 526 241.1 518.2 237.4 510.5 235.1 502.8 234.4 495 235 487.3 237 483.4 238.8 474.8 245.6 483.4 251.1 491.2 254ZM239.8 245.7 263 247.2 278.5 246.7 336.5 231 380.9 222.4 394.5 220.6 421.6 218.6 502.8 217.6 518.2 215.2 529.8 209.4 544.8 195.3 566.5 164.3 576.3 158.3 597.8 148.8 572.4 133.5 562.1 129.4 498.9 120.2 448.6 108.1 425.4 105.9 340.3 106.4 321 111.6 290.1 124.8 274.6 129.9 255.3 133.3 218.5 137.2 205 141.4 198.6 144.9 189.5 152 160.9 179.8 141.4 195.3 136.9 203 145.3 210.7 154.7 217.6 178.4 230.1 208.8 240.1 239.8 245.7Z"/>
<path fill="#ff7a7a" d="M255.3 210.9 266.9 212.8 274.6 212.8 286.2 211.1 317.1 203.7 332.6 201.5 460.2 193.6 487.3 190.5 498.9 187.7 506.6 184.6 518.2 174.8 527.5 164.3 522.5 156.5 518.6 152.7 510.5 147.7 485.4 137.2 437 124.2 425.4 122.8 402.2 122.3 348.1 121.8 340.3 122.7 328.7 126.3 305.7 137.2 286.1 144.9 222.8 179.8 217.2 195.3 239.8 205.8 255.3 210.9Z"/>
<path fill="#ff6464" d="M328.7 176.4 344.2 177.5 359.7 177.4 402.2 174.1 425.4 170.1 444.8 165.2 447.9 164.3 449.9 160.4 429.3 154.5 406.1 151.1 375.1 148.5 344.2 147.9 336.5 149.4 328.7 152.2 320.2 156.5 308.4 164.3 310.4 168.1 314.4 172 321 174.8 328.7 176.4Z"/>
<path fill="#e8e8ff" d="M116 63.6 205 61.1 291.4 55.8 332.6 54.7 649.7 55.8 649.7 -21.6 -23.2 -21.6 -23.2 52 0 52 81.2 61.8 116 63.6Z"/>
<path fill="#d2d2ff" d="M116 44.2 150.8 46.1 193.4 46.8 266.9 44.2 649.7 44.2 649.7 -21.6 -23.2 -21.6 -23.2 13.2 0 13.2 36.6 24.9 89 39.4 104.4 42.8 116 44.2Z"/>
<path fill="#bcbcff" d="M162.4 32.9 197.2 34.8 278.5 34.5 344.2 32.6 649.7 32.6 649.7 -21.6 70.7 -21.6 70.7 -6.1 92.4 5.5 112.8 21 122.4 24.9 131.5 27.1 162.4 32.9Z"/>
<path fill="#a6a6ff" d="M193.4 21 649.7 21 649.7 -21.6 139.1 -21.6 139.1 -6.1 150.8 5 162.4 12.6 174 17.9 181.8 20 193.4 21Z"/>
<path fill="#9090ff" d="M270.7 9.4 506.6 9.3 518.2 7.7 549.2 0.8 568.5 -1.8 649.7 -2.2 649.7 -21.6 175.8 -21.6 175.8 -6.1 185.6 -1.9 205 2.4 232.1 6.6 251.4 8.6 270.7 9.4Z"/>
<use href="#grid"/><use href="#coast"/><use href="#arr2"/>
</g>
<rect width="626.5" height="419.4" fill="none" stroke="#000" stroke-width="1.6"/>
<text x="20.5" y="41.7" font-size="36" font-weight="bold">f</text>
</g>
<g transform="translate(78.9 1604)"><g clip-path="url(#pc)">
<rect width="626.5" height="419.4" fill="#f4f5f5"/>
<path fill="#def0ed" d="M-19.3 443.1 193.4 443.1 193.4 419.9 201.1 408.4 206.4 396.6 205.4 381.1 207.1 357.9 197.2 352.9 169.6 342.4 147 336.5 119.9 332.6 73.5 330 42.5 323.3 30.9 323.5 19.3 326.1 11.6 329.8 0 337.2 -23.2 337.2 -23.2 443.1 -19.3 443.1ZM584 269.2 618.8 272.1 649.7 272.7 649.7 239.6 634.3 239.6 553.8 245.6 548.2 253.3 545.7 261.1 568.5 267.1 584 269.2ZM81.2 157 112.2 160.3 270.7 160.4 274.6 159.6 278.5 157.3 286.2 148.9 297.7 133.3 305.5 127.5 317.1 122.8 328.7 120 363.5 116.5 410 114.3 495 112.8 649.7 114.9 649.7 -21.6 318.4 -21.6 318.4 -6.1 310.7 5.5 304.6 17.1 293.9 23.5 282.3 28.6 270.7 32.6 247.5 38.3 220.7 48.1 213 52 208.8 56.1 201.1 61 193.4 62.6 104.4 62.7 77.4 63.6 50.3 67.5 38.7 71.3 34.8 74.2 30.9 79.4 27.2 86.8 20.8 110.1 19.5 125.6 23.2 133.9 30.9 143.9 38.7 148.8 50.3 152.1 81.2 157Z"/>
<path fill="#c9eae6" d="M108.3 122.7 112.2 124.9 116 125.6 150.8 124.1 197.2 119.3 223.6 113.9 220.4 108.8 217.1 106.2 212.7 104.3 205 102.8 116 102.3 112.2 103.1 108.3 105.4 101.7 113.9 104.4 118.7 108.3 122.7ZM232.1 91.8 243.7 93.7 266.9 94.6 433.2 94.1 460.2 92.1 495 85.8 510.5 85.4 542.5 86.8 572.4 93.6 584 94.4 595.6 91.3 603.3 86.8 606.8 83 605.4 79.1 608.5 71.3 617.4 63.6 622.7 53.3 626.5 50.1 634.3 48.1 626.5 46.3 618.8 41.1 611.4 32.6 607.7 24.9 601.9 21 587.9 12.9 560.8 1.2 545.3 -2.8 526 -5.2 502.8 -6.1 479.6 -4.8 456.4 -0.1 433.2 9.1 425.4 11.3 344.2 17.8 336.5 21.3 318.2 32.6 313.3 34.2 286.2 41.2 251.4 47.6 237 52 231.1 63.6 228.1 67.5 221.9 83 228.2 90.2 232.1 91.8Z"/>
<path fill="#a8ddd5" d="M274.6 83 429.3 83.3 468 76.3 522.1 71.9 526.4 71.3 534.2 63.6 536.2 59.7 539.1 48.1 535.9 32.6 529.8 26.5 522.1 21.9 514.4 18.9 506.6 17.3 498.9 17.4 464.1 25.5 416 32.6 348.1 44.2 332.6 48.2 309.4 50.5 270.7 52 266.9 54.4 257 67.5 259.1 73.1 263 78.9 266.9 81.9 274.6 83Z"/>
<path fill="#f5efdc" d="M116 303.7 181.8 305.2 278.5 305.2 317.1 303.5 351.9 299.9 363.5 296.2 375.5 288.2 402.2 277.2 416.9 272.7 452.5 266 467.6 261.1 472.9 257.2 475.8 253.3 476.5 245.6 474.9 237.9 483.4 230.3 495 224.3 502.8 223.1 584 222.2 634.3 215.9 649.7 215.9 649.7 137.2 611.1 136.4 580.1 133.3 533.7 132.5 344.2 132.7 336.5 134.5 328.7 139.3 321 146.7 311 160.4 306.5 164.3 290.1 173.4 278.5 177.9 270.7 179 116 179.8 108.3 181.3 85.1 190 38.7 203 17.4 210.7 3.9 212.6 -23.2 212.7 -23.2 283 3.9 283.1 42.5 284.8 50.3 287.3 73.5 298.9 116 303.7ZM-19.3 86.8 0 86.8 4.4 55.8 9.1 40.4 14 32.6 20.6 -6.1 20.6 -21.6 -23.2 -21.6 -23.2 86.8 -19.3 86.8ZM96.7 33 116 35.2 193.4 35.2 211.5 32.6 224.3 23.6 232.1 20.3 243.6 17.1 270.7 -6.1 270.7 -21.6 61.8 -21.6 61.8 -6.1 64.2 -2.2 69.8 5.5 85.1 21.2 94.3 32.6 96.7 33Z"/>
<path fill="#f6e9c5" d="M166.3 276.6 193.4 278.2 282.3 277 297.8 275.1 313.3 271.6 328.7 266.6 341.5 261.1 348.1 259.9 425.4 253.3 432.4 249.5 436.6 245.6 457.1 218.5 479.6 196.8 491.2 189.2 515.8 179.8 506.6 173.6 498.9 170.7 487.3 168 468 165.7 429.3 164.3 348.1 164.3 340.3 165 324.9 170 313.7 175.9 296.6 187.5 286.2 192 278.5 194.1 263 195.8 170.2 201.2 150.8 203.6 136.4 206.9 126.4 210.7 100.6 223.2 77.4 237.9 68.1 245.6 73.5 253.1 77.4 256.4 85.1 260.1 116 266 143.1 273.8 166.3 276.6Z"/>
<path fill="#ecd8a5" d="M177.9 265.2 193.4 267.1 225.3 265 290.1 256.3 359.7 244.3 382.9 239.4 398.2 234 410.2 226.2 413.5 222.4 418.8 210.7 425.4 203 417.7 196.1 410.6 191.4 402.2 187.3 391.5 183.6 366.6 179.8 344.2 179.3 336.5 182.8 313.3 198.5 293.9 207 274.6 210.6 208.8 211.4 189.5 213.1 162.4 225.4 122.1 241.7 177.9 265.2Z"/>
<path fill="#e1c684" d="M220.4 241.9 259.1 244.1 282.3 243.4 323.8 234 344.2 226.4 361.7 222.4 351.9 219 336.5 217.8 278.5 217.6 252.3 218.5 239.7 222.4 222.4 230.1 218.1 241.7 220.4 241.9Z"/>
<use href="#grid"/><use href="#coast"/><use href="#arr3"/>
</g>
<rect width="626.5" height="419.4" fill="none" stroke="#000" stroke-width="1.6"/>
<text x="20.5" y="41.7" font-size="36" font-weight="bold">g</text>
</g>
<g transform="translate(783.4 1604)"><g clip-path="url(#pc)">
<rect width="626.5" height="419.4" fill="#fffefe"/>
<path fill="#ffe8e8" d="M274.6 358 336.5 361.6 371.3 361.2 433.2 356.5 498.9 345.9 576.3 343.4 649.7 342.4 649.7 89.6 568.5 89.6 460.2 95.7 348.1 98.4 301.7 106.7 274.6 109.2 193.4 110.1 112.2 112.8 38.7 113.9 11.6 117.3 -23.2 117.8 -23.2 356.9 274.6 358Z"/>
<path fill="#ffd2d2" d="M205 292.3 224.3 293.8 255.3 294.6 371.3 294.5 429.3 290.2 444.7 288.2 479.6 286.4 490.2 284.3 510.5 282.8 522.3 280.4 537.6 279.2 556.9 275.4 565.5 272.7 576.3 271.4 649.7 272.7 649.7 134.1 634.3 134.1 611.1 127.3 587.9 123.3 537.6 119 506.6 117.8 425.4 121.7 336.5 122.1 286.2 123.4 239.8 126.5 197.2 130.6 177.9 135 144.8 148.8 116 157.9 83.5 172 65.7 186.3 52.2 203 49.4 210.7 61.9 221.5 85.1 236.6 104.4 243.4 116 245.6 131.5 257.1 150.8 275.2 162.4 283 170.2 286.7 181.8 290.5 205 292.3Z"/>
<path fill="#ffbcbc" d="M293.9 276.7 348.1 278.5 437 276.9 506.6 269.9 533.7 263.8 542.2 261.1 550.1 257.2 560.8 249.4 572.4 242.8 603.3 234 614.4 222.4 622.7 210.5 629.7 195.3 634.3 179.8 614.9 169 591.7 161.2 564.7 154.9 502.8 145.5 476.9 137.2 460.2 133.7 429.3 131.4 336.5 132 297.8 135.8 224.3 147.9 197.2 154.5 177.9 161.2 158.6 169.9 140.7 179.8 104.9 203 131.5 220.8 145.3 234 158.6 251.4 170.2 260.5 181.8 266.8 193.4 270 208.8 271.7 293.9 276.7Z"/>
<path fill="#ffa6a6" d="M410 265 433.4 265 444.8 262.2 471.8 258.8 508 257.2 522.1 249.5 530.9 241.7 530.4 237.9 527.8 234 521.7 230.1 501 222.4 495 217.6 488.6 210.7 481.4 199.1 476.9 187.5 475.7 177.6 471.8 169 462.7 156.5 441.2 144.9 429.3 141.5 344.2 141.3 324.9 144.8 301.7 151.5 259.1 160.4 196.3 179.8 190.1 183.6 169.1 203 165 214.6 185.6 242.3 189.5 245.9 199.9 249.5 270.7 257.2 301.7 258.7 319 261.1 379 262.7 410 265Z"/>
<path fill="#e8e8ff" d="M61.9 94.8 116 96.9 189.5 94.6 278.5 95.3 344.2 87.1 440.9 83.1 460.2 79.8 498.9 71.1 553.1 64.8 576.3 63.6 649.7 63.6 649.7 -21.6 -23.2 -21.6 -23.2 93.8 61.9 94.8Z"/>
<path fill="#d2d2ff" d="M239.8 83.1 266.9 84.3 282.3 83.7 297.8 81.3 328.7 73.6 344.2 70.9 433.2 67.5 456.4 62.3 495 48.8 522.1 45.4 568.5 42.3 649.7 41.8 649.7 -21.6 -23.2 -21.6 -23.2 70.6 0 70.6 15.5 74.3 30.9 76.7 92.8 81.6 123.8 82.2 197.2 80.7 239.8 83.1Z"/>
<path fill="#bcbcff" d="M92.8 67.6 119.9 68.3 197.2 66.8 259.1 70.3 278.5 70.2 293.9 67.8 328.7 59.6 344.2 57 413.8 53 433.2 50.7 448.6 46.3 483.4 32.6 498.9 28.5 587.9 22.9 634.3 19.1 649.7 19.1 649.7 -21.6 -23.2 -21.6 -23.2 47.3 0 47.3 34.8 60.2 61.9 64.8 92.8 67.6Z"/>
<path fill="#a6a6ff" d="M104.4 56 127.6 56.3 193.4 53.9 263 56.6 286.2 55.5 344.2 42.5 406.1 37.3 429.3 34.3 444.8 29.9 479.6 16.7 498.9 11.9 518.2 10.1 580.1 6.6 634.3 -0.3 649.7 -0.3 649.7 -21.6 -23.2 -21.6 -23.2 22.9 0 22.9 23.2 34.1 58 46 81.2 52.5 104.4 56Z"/>
<path fill="#9090ff" d="M270.7 44.2 282.3 43.4 293.9 41.4 344.2 28.6 410 21.2 429.6 17.1 461.2 1.6 482.2 -6.1 482.2 -21.6 7.1 -21.6 7.1 -6.1 27.1 11 36.2 17.1 44.9 21 73.5 31.3 89 35.9 104.4 38.8 116 39.5 197.2 36.6 247.5 42.9 270.7 44.2Z"/>
<path fill="#7a7aff" d="M251.4 29 270.7 30.8 286.2 29.3 328.7 18 375.1 8.4 394.5 3.3 419 -6.1 419 -21.6 70.2 -21.6 70.2 -6.1 85.4 1.6 90.5 5.5 97.7 13.2 104.4 17.1 112.2 18.7 119.9 18.9 162.4 16 197.2 15.5 212.7 18.4 251.4 29Z"/>
<path fill="#6464ff" d="M266.9 13.5 278.5 13.2 321 1 358.3 -6.1 358.3 -21.6 213.4 -21.6 213.4 -6.1 255.3 10.4 266.9 13.5Z"/>
<use href="#grid"/><use href="#coast"/><use href="#arr3"/>
</g>
<rect width="626.5" height="419.4" fill="none" stroke="#000" stroke-width="1.6"/>
<text x="20.5" y="41.7" font-size="36" font-weight="bold">h</text>
</g>
<g transform="translate(78.9 2108.8)"><g clip-path="url(#pc)">
<rect width="626.5" height="419.4" fill="#f4f5f5"/>
<path fill="#def0ed" d="M-19.3 443.1 149.8 443.1 149.8 419.9 153.1 408.2 156.6 400.5 162.4 392.6 171.4 385 181.8 378.7 193.4 373.4 147 371.3 131.5 369.3 123.8 365.8 120.3 361.8 116 350.2 77.4 346.3 46.4 340.1 0 334.7 -23.2 334.7 -23.2 443.1 -19.3 443.1ZM556.9 269.3 576.3 271.5 649.7 271.6 649.7 243.9 626.5 244.5 580.1 249.5 555.5 257.2 543.5 265 556.9 269.3ZM166.3 164.3 201.1 164.8 224.3 161.5 270.7 148.8 290.1 139.6 317.1 133.8 336.5 131.3 375.1 128.2 444.8 125.1 495 119.9 556.9 116.6 572.4 113.5 618.8 96.9 630.4 94.9 649.7 94.6 649.7 -21.6 230.8 -21.6 230.8 -6.1 223.1 1.6 217.3 9.4 209.1 24.9 187.1 36.5 150.8 51.3 139.2 54.3 127.6 56 116 56.5 108.3 55.9 100.6 53.8 92.8 49.2 87.8 44.2 81.2 35.3 77.4 32.6 73.5 33.6 69.6 36.1 61.9 43.8 45.2 63.6 43.7 71.3 34.8 98.9 31.7 110.1 35.5 141 38.7 148.8 61.9 156.6 77.4 159.6 166.3 164.3Z"/>
<path fill="#c9eae6" d="M-19.3 443.1 12.9 443.1 12.9 419.9 7.6 412.1 0 404.4 -23.2 404.4 -23.2 443.1 -19.3 443.1ZM270.7 113.9 293.9 112.1 344.2 103.5 398.4 102.9 433.2 106.3 448.6 104.3 475.7 95.6 498.9 82.8 533.7 80.5 545.3 77.6 553.1 74.3 564.2 67.5 582.8 52 588.8 44.2 594.6 32.6 591.5 24.9 586.9 17.1 580.3 9.4 572.4 2.6 564.7 -2.2 554.8 -6.1 525.9 -21.6 491.1 -21.6 481.7 -6.1 464.1 -1.3 437 9 425.4 11.2 413.8 9.2 386.8 -1.9 373.3 -6.1 373.3 -21.6 322.3 -21.6 322.3 -6.1 293.9 3.2 263 17.4 244.5 32.6 217.7 48.1 205 70.4 201.1 74.2 193.4 79.1 216.6 101.6 224.5 106.2 232.1 109 243.7 111.7 270.7 113.9Z"/>
<path fill="#a8ddd5" d="M417.7 95.2 429.3 97.3 437 97.6 448.6 95.4 456.4 92 468.2 83 478.5 71.3 480.4 63.6 483.4 61.4 487.3 60 491.2 59.7 498.9 61.3 514.4 68.4 522.1 70.4 533.7 70.6 541.5 68.7 553.1 61.9 562.1 52 567.5 40.4 568.1 32.6 566.5 28.7 561.3 21 553.1 13.6 541.5 8.2 529.8 6.1 514.4 6.9 495 12.2 484.9 17.1 471.8 29.8 464.1 34.7 456.4 37.1 448.6 37.9 421.6 39.2 410 38.4 403.9 36.5 399 32.6 394.5 30.7 367.4 20.8 348.1 16.8 336.5 16.8 324.9 18.8 317.1 21.1 292.9 32.6 290.1 39.1 285.5 44.2 282.3 46.2 266.9 49.2 259.1 53.8 251.4 63.1 246.6 71.3 251.4 76.7 255.3 79.3 263 82 274.6 82.8 286.2 81.3 297.8 78.6 323.8 71.3 330 67.5 344.2 65.4 351.9 65.4 355.8 67.7 357.8 71.3 379 84.7 390.6 88.8 417.7 95.2Z"/>
<path fill="#87d0c5" d="M429.3 91.4 440.9 91.3 448.6 88.5 456 83 461.6 75.2 463.7 71.3 462.6 67.5 458.9 59.7 452.5 53.7 444.8 50.7 437 49.6 429.3 49.8 417.7 52 406.2 55.8 399.2 59.7 394.3 63.6 387.9 71.3 407.6 83 421.6 89.2 429.3 91.4ZM522.1 64.3 533.7 65.1 541.5 62.7 550.9 55.8 555.9 48.1 558.4 40.4 557.5 32.6 552.6 24.9 548.5 21 541.5 16.7 529.8 14.2 522.1 14.6 514.4 16.7 506.6 21.4 503.1 24.9 498.1 32.6 495.7 40.4 499.7 48.1 510.5 58.8 522.1 64.3ZM336.5 44.6 344.2 44.7 351.9 42.6 359.7 37.3 363.4 32.6 351.9 27.3 340.3 25.8 328.7 28.3 321.2 32.6 322.9 36.5 326.4 40.4 332.6 43.7 336.5 44.6Z"/>
<path fill="#64b9ae" d="M425.4 84.3 433.2 86.3 437 86.3 444.8 84 448.6 81.1 453 75.2 454.8 71.3 452.9 67.5 448.6 62.4 440.9 58.2 437 57.4 429.3 57.8 421.6 60.7 417 63.6 408.8 71.3 417.4 79.1 425.4 84.3ZM522.1 59.9 529.8 61.3 537.6 59.9 545.3 55.2 550.5 48.1 552.7 40.4 551.1 32.6 548.5 28.7 541.5 22.8 533.7 20.1 526 19.9 522.1 20.7 514 24.9 507.5 32.6 505 40.4 508 48.1 514.4 55.5 522.1 59.9Z"/>
<path fill="#3e9d95" d="M433.2 80 437 80 440.9 78.7 444.8 75.2 446.8 71.3 440.9 66 433.2 64.7 425.6 67.5 421.3 71.3 425.4 76 429.3 78.8 433.2 80ZM522.1 55.9 526 57.2 533.7 57.3 541.5 53.6 545.3 49.2 548.3 40.4 547.6 36.5 545.9 32.6 541.5 28 533.7 24.6 526 24.5 518.2 27.9 513.6 32.6 510.7 40.4 511.6 44.2 516.5 52 522.1 55.9Z"/>
<path fill="#23867e" d="M526 53.5 533.7 53.7 537.6 52 541.7 48.1 543.6 44.2 544.3 40.4 541.5 33.5 537.6 30.2 533.7 28.6 526 28.7 522.1 30.4 518.2 33.8 515.2 40.4 518.3 48.1 522.1 51.7 526 53.5Z"/>
<path fill="#0a6f67" d="M526 49.3 529.8 50.2 533.7 49.6 537.6 46.8 539.2 44.2 540.1 40.4 538.5 36.5 533.7 32.8 529.8 32.2 526 33 521.5 36.5 519.8 40.4 520.8 44.2 526 49.3Z"/>
<path fill="#015a50" d="M529.8 44.7 533.7 42.3 534.4 40.4 529.8 37.8 525.6 40.4 529.8 44.7Z"/>
<path fill="#f5efdc" d="M270.7 326.9 278.5 326.2 288.2 323 294.8 319.2 302.9 311.4 321.6 303.7 332.6 296.7 340.3 294.2 355.8 293.4 433.2 297.4 444.8 296.4 456.4 293.4 466 288.2 473.8 280.4 478.9 272.7 482.4 265 483.4 256.6 498.9 243.5 510.5 239.6 529.8 235.6 553.1 232.8 611.1 228.6 649.7 227.5 649.7 152.7 634.3 152.7 622.7 150.9 603.3 149.5 529.8 147.2 444.8 141.5 344.2 141.2 332.6 144.1 321 150.2 304.3 164.3 299 172 286.2 178.6 270.7 183.6 208.8 198.9 193.4 201.1 143.1 203.7 73.5 204.1 60.6 206.9 42.5 217.6 38.7 218.5 -23.2 218.5 -23.2 288.2 38.7 288.2 46.4 290.9 63.6 303.7 73.5 306.9 116 311.4 150.8 318.5 174 321.6 243.7 326.1 270.7 326.9ZM-19.3 113.5 0 113.5 2.3 110.1 7.5 63.6 4.9 44.2 2.3 36.5 0 32.6 -23.2 32.6 -23.2 113.5 -19.3 113.5ZM112.2 32.8 119.9 33.4 131.5 32.1 143.1 29.3 155.4 24.9 155.6 -21.6 102.8 -21.6 102.2 24.9 108.3 31 112.2 32.8Z"/>
<path fill="#f6e9c5" d="M243.7 292.2 266.9 293.3 278.5 292.6 290.1 289.4 324.9 276 344.2 272.8 367.4 273.2 394.5 275.3 406.1 277.5 429.3 285 440.9 284.3 449.2 280.4 457.6 272.7 462.6 265 464.5 257.2 471.4 241.7 485.2 226.2 491.2 212.8 495 207.5 498.9 204.2 502.8 203.1 506.6 203.1 556.9 208.9 607.2 211.8 634.3 214.6 649.7 214.6 649.7 172 634.3 172 618.8 165.3 595.6 161.1 572.4 160.6 549.2 163.3 537.6 166.2 522.8 172 516.4 187.5 514.4 196.8 510.5 201.4 502.8 202.8 498.9 199.6 489.2 179.8 483.5 172 464.1 162.8 448.6 158.7 429.3 156.6 402.2 157.1 375.1 159.5 348.1 164.3 342.4 168.1 326.4 183.6 313.3 190.4 305.5 193 259.1 201.2 205 214.3 143.1 222.7 96.7 230.7 85.3 234 70.7 241.7 73.5 245.7 87.1 257.2 93.8 265 104.4 269.2 119.9 272.6 171.7 280.4 220.4 289.3 243.7 292.2Z"/>
<path fill="#ecd8a5" d="M429.3 274 437 274.7 440.9 273.8 448.5 268.8 451.8 265 456.2 253.3 459.3 241.7 464 234 471.8 223.9 477.6 210.7 479 203 478.8 199.1 476.1 191.4 471.3 183.6 464.1 177 456.4 173.4 448.6 171.8 433.2 171.3 410 172.8 394.5 175.6 382.5 179.8 371.4 187.5 368.2 195.3 367.4 199.1 371.9 210.7 372.1 218.5 383.8 230.1 402.7 241.7 415.5 265 421.6 270 429.3 274ZM255.3 257.4 274.6 258.1 282.3 256.2 293.9 250.5 295.5 249.5 299.8 241.7 306.8 226.2 301.7 223.5 293.9 221.1 270.7 219 255.3 220.4 223.7 226.2 222.9 234 218.3 241.7 211.9 249.5 255.3 257.4ZM568.5 188.1 584 189.4 600 187.5 587.9 175.5 584 173 580.1 172 576.3 173.4 572.4 177.2 566.5 187.5 568.5 188.1Z"/>
<path fill="#e1c684" d="M433.2 265.7 437 265.8 440.9 264.4 444.8 260.7 448.5 253.3 452.3 237.9 454.5 234 464.1 224.1 468 218.7 472.3 206.9 472.4 199.1 468 189.9 460.2 182.8 452.5 180 444.8 179.7 437 181.3 406.1 193.3 397.4 199.1 406.5 210.7 415.8 226.2 419.8 241.7 420.6 249.5 423.4 257.2 429.3 264.2 433.2 265.7Z"/>
<path fill="#d3aa5f" d="M433.2 250.5 437 251.5 438.8 249.5 442.8 234 446.8 230.1 460.2 221.2 464.1 216.5 467 210.7 468.3 203 466.2 195.3 460.2 188.5 456.4 186.4 448.6 185.1 440.9 187 434 191.4 426.2 199.1 427.6 210.7 432.1 230.1 431.6 245.6 433.2 250.5Z"/>
<path fill="#c38936" d="M440.9 219.9 444.8 221.6 452.5 220.8 456.4 218.8 460.2 215.2 462.9 210.7 464.5 203 463.8 199.1 460.2 193.8 456.4 191 452.5 189.7 444.8 190.6 438 195.3 434.9 199.1 435.5 210.7 437 214.8 440.9 219.9Z"/>
<path fill="#ad7021" d="M448.6 216 452.5 215.5 456.4 213.2 460.2 206.9 460.6 203 459.6 199.1 456.4 195.7 452.5 194.1 448.6 194.1 444.8 195.6 440.9 199.1 440.1 203 441.7 210.7 444.8 214.5 448.6 216Z"/>
<path fill="#955910" d="M448.6 208.6 452.5 208.7 454.2 206.9 455.1 203 452.5 199.1 448.6 199.4 446.5 203 447.1 206.9 448.6 208.6Z"/>
<use href="#grid"/><use href="#coast"/><use href="#arr4"/>
</g>
<rect width="626.5" height="419.4" fill="none" stroke="#000" stroke-width="1.6"/>
<text x="20.5" y="41.7" font-size="36" font-weight="bold">i</text>
</g>
<g transform="translate(783.4 2108.8)"><g clip-path="url(#pc)">
<rect width="626.5" height="419.4" fill="#fffefe"/>
<path fill="#ffe8e8" d="M468 443.1 649.7 443.1 649.7 93.5 495 93.7 456.4 100.5 437 102.7 340.3 103.5 324.9 106.1 290.1 114.9 274.6 116.9 247.5 116.4 197.2 112.8 116 110.1 38.7 113.9 0 117.8 -23.2 117.8 -23.2 351.9 0 351.9 38.7 357.9 69.6 367.7 122.8 377.3 158.6 390.8 197.4 400.5 212.7 405.3 228.2 408.1 247.5 410.3 270.7 411.2 282.3 409.6 297.8 404.8 328.7 391.5 340.3 388.3 410 388 433.2 388.9 444.8 396.8 452.5 405 464.1 419.9 464.1 443.1 468 443.1Z"/>
<path fill="#ffd2d2" d="M541.5 330.9 584 332.7 649.7 330.6 649.7 122.2 634.3 122.2 622.7 118.5 599.5 114.6 580.1 113.9 553.1 114.4 429.3 121.6 336.5 122 321 123.8 282.3 133.7 253 137.2 201.1 139.4 112.2 140.5 104.4 142 80.9 156.5 66.3 164.3 55.3 175.9 42.5 195.3 22 218.5 48.6 268.8 58 278.8 65.7 282.4 81.2 286.4 112 292.1 143.1 302.3 162.4 306.1 178.6 307.6 239.8 317 270.7 319.2 293.9 322 340.3 324.2 433.2 324.7 474.1 326.9 495 329.1 541.5 330.9Z"/>
<path fill="#ffbcbc" d="M471.8 299.9 584 299.7 634.3 295.9 649.7 295.9 649.7 146.8 634.3 146.8 618.8 138.9 591.7 131.5 576.3 128.9 553.1 126.8 498.9 125.6 437 127.4 336.5 128.1 311 133.3 290.1 143.9 274.6 148 174 153.3 150.8 156.4 136.1 160.4 108.3 173.9 99.2 179.8 89.8 187.5 85 203 77.5 218.5 94.8 245.6 104.4 256.3 112.2 262.5 116 265 135.4 271.1 170.2 280.2 197.2 283.8 340.3 290.4 410 297.4 471.8 299.9Z"/>
<path fill="#ffa6a6" d="M402.2 269.1 425.4 272.7 506.6 272.5 527.3 268.8 568.5 259 580.1 257.2 576.3 256 568.5 250.6 563.4 245.6 561 241.7 539.3 230.1 530.4 226.2 502.8 218.5 530.3 206.9 541.5 199.1 545.3 195.2 549.9 187.5 580.1 175.9 592 168.1 596.2 164.3 595.6 162.9 591.9 156.5 580.1 144.9 556.9 143.2 533.7 139.8 506.6 133.6 348.1 133.3 334.8 137.2 317.1 147.4 301.7 155 286.2 159.6 263 162.9 188.2 164.3 174 168.2 150.8 179.6 137.1 187.5 131.5 194.9 127.6 202 121.9 218.5 136 234 150.8 245.6 166 253.3 181.8 257.1 216.6 257.4 274.6 255.6 351.9 257.9 363.5 259.2 379 262.5 402.2 269.1Z"/>
<path fill="#ff9090" d="M406.1 187.8 429.3 188.8 437 186.4 442.1 183.6 437 179.3 433.2 177.4 425.4 175.9 406.1 177 384.5 179.8 382.7 183.6 406.1 187.8Z"/>
<path fill="#e8e8ff" d="M232.1 95 255.3 97.4 278.5 97.6 299.2 94.6 332.6 85.9 344.2 84.2 433.2 83.8 498.9 76.9 649.7 77.1 649.7 -21.6 -23.2 -21.6 -23.2 67.5 7.7 67.8 38.7 71.3 81.2 81.5 104.4 85 197.2 89.1 232.1 95Z"/>
<path fill="#d2d2ff" d="M259.1 83.1 270.7 83.6 282.3 82.7 321 73.3 340.3 70 433.2 69.4 448.6 67.8 483.4 61.9 498.9 60.5 518.2 60.8 572.4 64.1 649.7 64.2 649.7 -21.6 -23.2 -21.6 -23.2 32.6 0 32.6 11.6 27.8 23.2 25.6 38.7 24.9 46.4 25.8 61.9 32 96.7 50.9 116 58.1 143.1 63.3 201.1 71 239.8 79.8 259.1 83.1Z"/>
<path fill="#bcbcff" d="M270.7 67.5 286.2 65.7 317.1 57.7 336.5 54 348.1 53.3 433.2 53 444.8 51.5 483.4 43.5 498.9 41.8 518.2 42.1 576.3 46.2 649.7 45.2 649.7 -21.6 38.7 -21.6 38.7 -6.1 65.7 0.6 85.1 7.4 96.2 13.2 112.6 24.9 123.8 30.3 150.8 39.7 180.9 48.1 247.5 64.4 259.1 66.6 270.7 67.5Z"/>
<path fill="#a6a6ff" d="M251.4 44.4 266.9 46.3 282.3 45.5 324.9 35.3 340.3 33 425.4 32.6 437 31.9 452.5 29.1 487.3 19.7 498.9 18 522.1 18.3 564.7 21.6 584 22 603.3 20.4 634.3 13.2 649.7 13.2 649.7 -21.6 134.3 -21.6 134.3 -6.1 148.4 5.5 160.3 13.2 174 20 186.5 24.9 232.1 39.4 251.4 44.4Z"/>
<path fill="#9090ff" d="M259.1 21.5 270.7 22.4 282.3 21.7 317.1 15.7 340.3 13.4 433.2 12.7 444.8 9.7 475.7 -1.9 489.4 -6.1 489.4 -21.6 181 -21.6 181 -6.1 189.5 -2.1 232.1 14.2 247.5 19.1 259.1 21.5Z"/>
<path fill="#7a7aff" d="M270.7 -6.1 348.1 -4.4 388.1 -6.1 388.1 -21.6 270.7 -21.6 270.7 -6.1Z"/>
<use href="#grid"/><use href="#coast"/><use href="#arr4"/>
</g>
<rect width="626.5" height="419.4" fill="none" stroke="#000" stroke-width="1.6"/>
<text x="20.5" y="41.7" font-size="36" font-weight="bold">j</text>
</g>
<text x="391.5" y="32.4" font-size="36" text-anchor="middle" textLength="227" lengthAdjust="spacingAndGlyphs">Precipitation</text>
<text x="1096.5" y="32" font-size="36" text-anchor="middle" textLength="340" lengthAdjust="spacingAndGlyphs">Sea Level Pressure</text>
<text transform="translate(27.1 278.3) rotate(-90)" font-size="36" text-anchor="middle" textLength="216.7" lengthAdjust="spacingAndGlyphs">BCC-CSM1.1</text>
<text transform="translate(27.1 783.1) rotate(-90)" font-size="36" text-anchor="middle" textLength="121.9" lengthAdjust="spacingAndGlyphs">CCSM4</text>
<text transform="translate(27.1 1287.9) rotate(-90)" font-size="36" text-anchor="middle">IPSL-CM5A-LR</text>
<text transform="translate(27.1 1792.7) rotate(-90)" font-size="36" text-anchor="middle">MIROC-ESM</text>
<text transform="translate(27.1 2297.5) rotate(-90)" font-size="36" text-anchor="middle">MPI-ESM-P</text>
<text x="711.3" y="146.3" font-size="24.5" textLength="58.5" lengthAdjust="spacingAndGlyphs">60°N</text>
<text x="711.3" y="301.2" font-size="24.5" textLength="58.5" lengthAdjust="spacingAndGlyphs">40°N</text>
<text x="711.3" y="456.1" font-size="24.5" textLength="58.5" lengthAdjust="spacingAndGlyphs">20°N</text>
<text x="711.3" y="651.1" font-size="24.5" textLength="58.5" lengthAdjust="spacingAndGlyphs">60°N</text>
<text x="711.3" y="806" font-size="24.5" textLength="58.5" lengthAdjust="spacingAndGlyphs">40°N</text>
<text x="711.3" y="960.9" font-size="24.5" textLength="58.5" lengthAdjust="spacingAndGlyphs">20°N</text>
<text x="711.3" y="1155.9" font-size="24.5" textLength="58.5" lengthAdjust="spacingAndGlyphs">60°N</text>
<text x="711.3" y="1310.8" font-size="24.5" textLength="58.5" lengthAdjust="spacingAndGlyphs">40°N</text>
<text x="711.3" y="1465.7" font-size="24.5" textLength="58.5" lengthAdjust="spacingAndGlyphs">20°N</text>
<text x="711.3" y="1660.7" font-size="24.5" textLength="58.5" lengthAdjust="spacingAndGlyphs">60°N</text>
<text x="711.3" y="1815.6" font-size="24.5" textLength="58.5" lengthAdjust="spacingAndGlyphs">40°N</text>
<text x="711.3" y="1970.5" font-size="24.5" textLength="58.5" lengthAdjust="spacingAndGlyphs">20°N</text>
<text x="711.3" y="2165.5" font-size="24.5" textLength="58.5" lengthAdjust="spacingAndGlyphs">60°N</text>
<text x="711.3" y="2320.4" font-size="24.5" textLength="58.5" lengthAdjust="spacingAndGlyphs">40°N</text>
<text x="711.3" y="2475.3" font-size="24.5" textLength="58.5" lengthAdjust="spacingAndGlyphs">20°N</text>
<text x="117.5" y="2552.6" font-size="24.5" text-anchor="middle" textLength="63.2" lengthAdjust="spacingAndGlyphs">60°W</text>
<text x="272.2" y="2552.6" font-size="24.5" text-anchor="middle" textLength="63.2" lengthAdjust="spacingAndGlyphs">40°W</text>
<text x="426.9" y="2552.6" font-size="24.5" text-anchor="middle" textLength="63.2" lengthAdjust="spacingAndGlyphs">20°W</text>
<text x="581.6" y="2552.6" font-size="24.5" text-anchor="middle">0°</text>
<text x="822" y="2552.6" font-size="24.5" text-anchor="middle" textLength="63.2" lengthAdjust="spacingAndGlyphs">60°W</text>
<text x="976.7" y="2552.6" font-size="24.5" text-anchor="middle" textLength="63.2" lengthAdjust="spacingAndGlyphs">40°W</text>
<text x="1131.4" y="2552.6" font-size="24.5" text-anchor="middle" textLength="63.2" lengthAdjust="spacingAndGlyphs">20°W</text>
<text x="1286.1" y="2552.6" font-size="24.5" text-anchor="middle">0°</text>
<path d="M103.8 2628.6L129.9 2616.6L129.9 2640.5Z" fill="#543005"/>
<path d="M671.6 2628.6L645.5 2616.6L645.5 2640.5Z" fill="#003c30"/>
<rect x="129.4" y="2616.6" width="25" height="23.9" fill="#613806"/>
<rect x="154" y="2616.6" width="25" height="23.9" fill="#7c4709"/>
<rect x="178.6" y="2616.6" width="25" height="23.9" fill="#955910"/>
<rect x="203.2" y="2616.6" width="25" height="23.9" fill="#ad7021"/>
<rect x="227.8" y="2616.6" width="25" height="23.9" fill="#c38936"/>
<rect x="252.4" y="2616.6" width="25" height="23.9" fill="#d3aa5f"/>
<rect x="277" y="2616.6" width="25" height="23.9" fill="#e1c684"/>
<rect x="301.6" y="2616.6" width="25" height="23.9" fill="#ecd8a5"/>
<rect x="326.2" y="2616.6" width="25" height="23.9" fill="#f6e9c5"/>
<rect x="350.8" y="2616.6" width="25" height="23.9" fill="#f5efdc"/>
<rect x="375.4" y="2616.6" width="25" height="23.9" fill="#f4f5f5"/>
<rect x="400" y="2616.6" width="25" height="23.9" fill="#def0ed"/>
<rect x="424.6" y="2616.6" width="25" height="23.9" fill="#c9eae6"/>
<rect x="449.2" y="2616.6" width="25" height="23.9" fill="#a8ddd5"/>
<rect x="473.8" y="2616.6" width="25" height="23.9" fill="#87d0c5"/>
<rect x="498.4" y="2616.6" width="25" height="23.9" fill="#64b9ae"/>
<rect x="523" y="2616.6" width="25" height="23.9" fill="#3e9d95"/>
<rect x="547.6" y="2616.6" width="25" height="23.9" fill="#23867e"/>
<rect x="572.2" y="2616.6" width="25" height="23.9" fill="#0a6f67"/>
<rect x="596.8" y="2616.6" width="25" height="23.9" fill="#015a50"/>
<rect x="621.4" y="2616.6" width="25" height="23.9" fill="#00463b"/>
<path d="M103.8 2628.6L129.4 2616.6L646 2616.6L671.6 2628.6L646 2640.5L129.4 2640.5Z" fill="none" stroke="#000" stroke-width="1"/>
<path d="M141.7 2640.5V2645.5" stroke="#000" stroke-width="1"/>
<text x="141.7" y="2666.5" font-size="24.5" text-anchor="middle" textLength="46.5" lengthAdjust="spacingAndGlyphs">−60</text>
<path d="M203.2 2640.5V2645.5" stroke="#000" stroke-width="1"/>
<text x="203.2" y="2666.5" font-size="24.5" text-anchor="middle" textLength="46.5" lengthAdjust="spacingAndGlyphs">−45</text>
<path d="M264.7 2640.5V2645.5" stroke="#000" stroke-width="1"/>
<text x="264.7" y="2666.5" font-size="24.5" text-anchor="middle" textLength="46.5" lengthAdjust="spacingAndGlyphs">−30</text>
<path d="M326.2 2640.5V2645.5" stroke="#000" stroke-width="1"/>
<text x="326.2" y="2666.5" font-size="24.5" text-anchor="middle" textLength="46.5" lengthAdjust="spacingAndGlyphs">−15</text>
<path d="M387.7 2640.5V2645.5" stroke="#000" stroke-width="1"/>
<text x="387.7" y="2666.5" font-size="24.5" text-anchor="middle" textLength="12.5" lengthAdjust="spacingAndGlyphs">0</text>
<path d="M449.2 2640.5V2645.5" stroke="#000" stroke-width="1"/>
<text x="449.2" y="2666.5" font-size="24.5" text-anchor="middle" textLength="27" lengthAdjust="spacingAndGlyphs">15</text>
<path d="M510.7 2640.5V2645.5" stroke="#000" stroke-width="1"/>
<text x="510.7" y="2666.5" font-size="24.5" text-anchor="middle" textLength="27" lengthAdjust="spacingAndGlyphs">30</text>
<path d="M572.2 2640.5V2645.5" stroke="#000" stroke-width="1"/>
<text x="572.2" y="2666.5" font-size="24.5" text-anchor="middle" textLength="27" lengthAdjust="spacingAndGlyphs">45</text>
<path d="M633.7 2640.5V2645.5" stroke="#000" stroke-width="1"/>
<text x="633.7" y="2666.5" font-size="24.5" text-anchor="middle" textLength="27" lengthAdjust="spacingAndGlyphs">60</text>
<text x="387.5" y="2698" font-size="30" text-anchor="middle" textLength="161" lengthAdjust="spacingAndGlyphs">mm/month</text>
<path d="M833.6 2628.4L860 2616.4L860 2640.4Z" fill="#0000ff"/>
<path d="M1401.4 2628.4L1375.4 2616.4L1375.4 2640.4Z" fill="#ff0000"/>
<rect x="859.5" y="2616.4" width="22.9" height="24" fill="#0a0aff"/>
<rect x="882" y="2616.4" width="22.9" height="24" fill="#2020ff"/>
<rect x="904.4" y="2616.4" width="22.9" height="24" fill="#3636ff"/>
<rect x="926.9" y="2616.4" width="22.9" height="24" fill="#4c4cff"/>
<rect x="949.3" y="2616.4" width="22.9" height="24" fill="#6464ff"/>
<rect x="971.8" y="2616.4" width="22.9" height="24" fill="#7a7aff"/>
<rect x="994.2" y="2616.4" width="22.9" height="24" fill="#9090ff"/>
<rect x="1016.7" y="2616.4" width="22.9" height="24" fill="#a6a6ff"/>
<rect x="1039.1" y="2616.4" width="22.9" height="24" fill="#bcbcff"/>
<rect x="1061.6" y="2616.4" width="22.9" height="24" fill="#d2d2ff"/>
<rect x="1084" y="2616.4" width="22.9" height="24" fill="#e8e8ff"/>
<rect x="1106.5" y="2616.4" width="22.9" height="24" fill="#fffefe"/>
<rect x="1128.9" y="2616.4" width="22.9" height="24" fill="#ffe8e8"/>
<rect x="1151.4" y="2616.4" width="22.9" height="24" fill="#ffd2d2"/>
<rect x="1173.8" y="2616.4" width="22.9" height="24" fill="#ffbcbc"/>
<rect x="1196.3" y="2616.4" width="22.9" height="24" fill="#ffa6a6"/>
<rect x="1218.7" y="2616.4" width="22.9" height="24" fill="#ff9090"/>
<rect x="1241.2" y="2616.4" width="22.9" height="24" fill="#ff7a7a"/>
<rect x="1263.6" y="2616.4" width="22.9" height="24" fill="#ff6464"/>
<rect x="1286.1" y="2616.4" width="22.9" height="24" fill="#ff4c4c"/>
<rect x="1308.5" y="2616.4" width="22.9" height="24" fill="#ff3636"/>
<rect x="1331" y="2616.4" width="22.9" height="24" fill="#ff2020"/>
<rect x="1353.4" y="2616.4" width="22.9" height="24" fill="#ff0a0a"/>
<path d="M833.6 2628.4L859.5 2616.4L1375.9 2616.4L1401.4 2628.4L1375.9 2640.4L859.5 2640.4Z" fill="none" stroke="#000" stroke-width="1"/>
<path d="M893.2 2640.4V2645.4" stroke="#000" stroke-width="1"/>
<text x="893.2" y="2666.5" font-size="24.5" text-anchor="middle" textLength="46.5" lengthAdjust="spacingAndGlyphs">−10</text>
<path d="M938.1 2640.4V2645.4" stroke="#000" stroke-width="1"/>
<text x="938.1" y="2666.5" font-size="24.5" text-anchor="middle" textLength="30.5" lengthAdjust="spacingAndGlyphs">−8</text>
<path d="M983 2640.4V2645.4" stroke="#000" stroke-width="1"/>
<text x="983" y="2666.5" font-size="24.5" text-anchor="middle" textLength="30.5" lengthAdjust="spacingAndGlyphs">−6</text>
<path d="M1027.9 2640.4V2645.4" stroke="#000" stroke-width="1"/>
<text x="1027.9" y="2666.5" font-size="24.5" text-anchor="middle" textLength="30.5" lengthAdjust="spacingAndGlyphs">−4</text>
<path d="M1072.8 2640.4V2645.4" stroke="#000" stroke-width="1"/>
<text x="1072.8" y="2666.5" font-size="24.5" text-anchor="middle" textLength="30.5" lengthAdjust="spacingAndGlyphs">−2</text>
<path d="M1117.7 2640.4V2645.4" stroke="#000" stroke-width="1"/>
<text x="1117.7" y="2666.5" font-size="24.5" text-anchor="middle" textLength="12.5" lengthAdjust="spacingAndGlyphs">0</text>
<path d="M1162.6 2640.4V2645.4" stroke="#000" stroke-width="1"/>
<text x="1162.6" y="2666.5" font-size="24.5" text-anchor="middle" textLength="12.5" lengthAdjust="spacingAndGlyphs">2</text>
<path d="M1207.5 2640.4V2645.4" stroke="#000" stroke-width="1"/>
<text x="1207.5" y="2666.5" font-size="24.5" text-anchor="middle" textLength="12.5" lengthAdjust="spacingAndGlyphs">4</text>
<path d="M1252.4 2640.4V2645.4" stroke="#000" stroke-width="1"/>
<text x="1252.4" y="2666.5" font-size="24.5" text-anchor="middle" textLength="12.5" lengthAdjust="spacingAndGlyphs">6</text>
<path d="M1297.3 2640.4V2645.4" stroke="#000" stroke-width="1"/>
<text x="1297.3" y="2666.5" font-size="24.5" text-anchor="middle" textLength="12.5" lengthAdjust="spacingAndGlyphs">8</text>
<path d="M1342.2 2640.4V2645.4" stroke="#000" stroke-width="1"/>
<text x="1342.2" y="2666.5" font-size="24.5" text-anchor="middle" textLength="27" lengthAdjust="spacingAndGlyphs">10</text>
<text x="1117.3" y="2698" font-size="30" text-anchor="middle" textLength="52.2" lengthAdjust="spacingAndGlyphs">hPa</text>
<rect x="1294.2" y="2420.7" width="108" height="100.8" fill="#fff" stroke="#000" stroke-width="1.6"/>
<text x="1347.4" y="2482.3" font-size="42.5" text-anchor="middle" textLength="46" lengthAdjust="spacingAndGlyphs">10</text>
<path d="M1331.6 2498.7H1354.5L1354.2 2494.5L1363.2 2499.7L1354.2 2504.9L1354.5 2500.7H1331.6Z" fill="#4682b4"/>
</svg></body></html>
